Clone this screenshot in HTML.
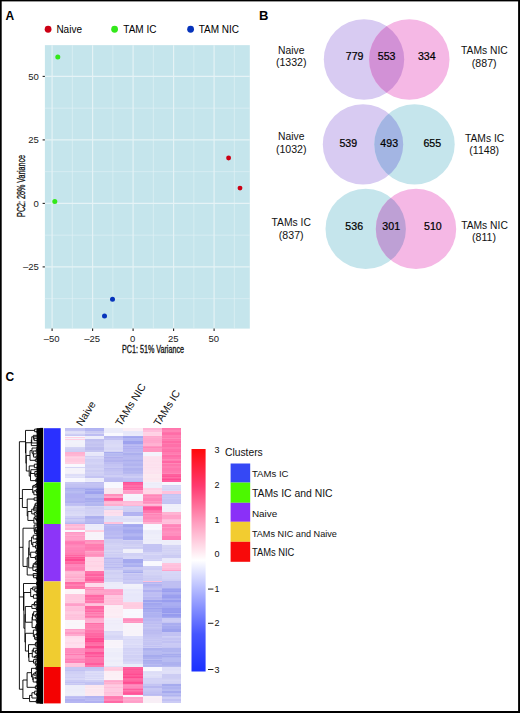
<!DOCTYPE html><html><head><meta charset="utf-8"><style>html,body{margin:0;padding:0;background:#fff;width:520px;height:713px;overflow:hidden}svg{display:block}text{font-family:"Liberation Sans",sans-serif}</style></head><body>
<svg width="520" height="713" viewBox="0 0 520 713">
<rect x="0" y="0" width="520" height="713" fill="#fff"/>
<text x="5.6" y="19.7" font-size="12" font-weight="bold" fill="#000">A</text>
<circle cx="48.1" cy="29.25" r="3.4" fill="#cc0014"/>
<text x="56.4" y="32.6" font-size="10" fill="#000">Naive</text>
<circle cx="114.6" cy="29.25" r="3.4" fill="#33e81a"/>
<text x="123.3" y="32.6" font-size="10" fill="#000">TAM IC</text>
<circle cx="190.6" cy="29.25" r="3.4" fill="#0633bb"/>
<text x="198.7" y="32.6" font-size="10" fill="#000">TAM NIC</text>
<rect x="44.9" y="45.15" width="204.90" height="283.45" fill="#c5e5ec"/>
<line x1="72.35" y1="45.15" x2="72.35" y2="328.6" stroke="#e3f2f5" stroke-width="0.6"/><line x1="112.85" y1="45.15" x2="112.85" y2="328.6" stroke="#e3f2f5" stroke-width="0.6"/><line x1="153.35" y1="45.15" x2="153.35" y2="328.6" stroke="#e3f2f5" stroke-width="0.6"/><line x1="193.85" y1="45.15" x2="193.85" y2="328.6" stroke="#e3f2f5" stroke-width="0.6"/><line x1="234.35" y1="45.15" x2="234.35" y2="328.6" stroke="#e3f2f5" stroke-width="0.6"/><line x1="44.9" y1="108.15" x2="249.8" y2="108.15" stroke="#e3f2f5" stroke-width="0.6"/><line x1="44.9" y1="171.65" x2="249.8" y2="171.65" stroke="#e3f2f5" stroke-width="0.6"/><line x1="44.9" y1="235.15" x2="249.8" y2="235.15" stroke="#e3f2f5" stroke-width="0.6"/><line x1="44.9" y1="298.65" x2="249.8" y2="298.65" stroke="#e3f2f5" stroke-width="0.6"/><line x1="52.10" y1="45.15" x2="52.10" y2="328.6" stroke="#e6f3f6" stroke-width="1.1"/><line x1="92.60" y1="45.15" x2="92.60" y2="328.6" stroke="#e6f3f6" stroke-width="1.1"/><line x1="133.10" y1="45.15" x2="133.10" y2="328.6" stroke="#e6f3f6" stroke-width="1.1"/><line x1="173.60" y1="45.15" x2="173.60" y2="328.6" stroke="#e6f3f6" stroke-width="1.1"/><line x1="214.10" y1="45.15" x2="214.10" y2="328.6" stroke="#e6f3f6" stroke-width="1.1"/><line x1="44.9" y1="76.40" x2="249.8" y2="76.40" stroke="#e6f3f6" stroke-width="1.1"/><line x1="44.9" y1="139.90" x2="249.8" y2="139.90" stroke="#e6f3f6" stroke-width="1.1"/><line x1="44.9" y1="203.40" x2="249.8" y2="203.40" stroke="#e6f3f6" stroke-width="1.1"/><line x1="44.9" y1="266.90" x2="249.8" y2="266.90" stroke="#e6f3f6" stroke-width="1.1"/>
<line x1="42.6" y1="76.40" x2="44.9" y2="76.40" stroke="#222" stroke-width="1.1"/>
<text x="38.9" y="79.90" font-size="9.5" text-anchor="end" fill="#222">50</text>
<line x1="42.6" y1="139.90" x2="44.9" y2="139.90" stroke="#222" stroke-width="1.1"/>
<text x="38.9" y="143.40" font-size="9.5" text-anchor="end" fill="#222">25</text>
<line x1="42.6" y1="203.40" x2="44.9" y2="203.40" stroke="#222" stroke-width="1.1"/>
<text x="38.9" y="206.90" font-size="9.5" text-anchor="end" fill="#222">0</text>
<line x1="42.6" y1="266.90" x2="44.9" y2="266.90" stroke="#222" stroke-width="1.1"/>
<text x="38.9" y="270.40" font-size="9.5" text-anchor="end" fill="#222">–25</text>
<line x1="52.10" y1="328.6" x2="52.10" y2="330.9" stroke="#222" stroke-width="1.1"/>
<text x="51.70" y="342.3" font-size="9.5" text-anchor="middle" fill="#222">–50</text>
<line x1="92.60" y1="328.6" x2="92.60" y2="330.9" stroke="#222" stroke-width="1.1"/>
<text x="92.20" y="342.3" font-size="9.5" text-anchor="middle" fill="#222">–25</text>
<line x1="133.10" y1="328.6" x2="133.10" y2="330.9" stroke="#222" stroke-width="1.1"/>
<text x="132.70" y="342.3" font-size="9.5" text-anchor="middle" fill="#222">0</text>
<line x1="173.60" y1="328.6" x2="173.60" y2="330.9" stroke="#222" stroke-width="1.1"/>
<text x="173.20" y="342.3" font-size="9.5" text-anchor="middle" fill="#222">25</text>
<line x1="214.10" y1="328.6" x2="214.10" y2="330.9" stroke="#222" stroke-width="1.1"/>
<text x="213.70" y="342.3" font-size="9.5" text-anchor="middle" fill="#222">50</text>
<text x="122" y="352.8" font-size="10" textLength="62" lengthAdjust="spacingAndGlyphs" fill="#111" stroke="#111" stroke-width="0.3">PC1: 51% Variance</text>
<text transform="translate(25.1,216.9) rotate(-90)" x="0" y="0" font-size="10" textLength="62" lengthAdjust="spacingAndGlyphs" fill="#111" stroke="#111" stroke-width="0.3">PC2: 28% Variance</text>
<circle cx="228.6" cy="158" r="2.45" fill="#cc0014"/>
<circle cx="240" cy="188.1" r="2.45" fill="#cc0014"/>
<circle cx="57.8" cy="57.1" r="2.5" fill="#33e81a"/>
<circle cx="54.8" cy="201.4" r="2.5" fill="#33e81a"/>
<circle cx="112.5" cy="299.2" r="2.5" fill="#0633bb"/>
<circle cx="104.5" cy="316" r="2.5" fill="#0633bb"/>
<text x="259.0" y="19.7" font-size="13" font-weight="bold" fill="#000">B</text>
<clipPath id="cp0"><circle cx="364.0" cy="59.5" r="40.2"/></clipPath>
<circle cx="364.0" cy="59.5" r="40.2" fill="#d8cbf2"/>
<circle cx="409.3" cy="59.5" r="40.2" fill="#f5b8e5"/>
<circle cx="409.3" cy="59.5" r="40.2" fill="#d291d6" clip-path="url(#cp0)"/>
<text x="354.6" y="60.00" font-size="10.6" text-anchor="middle" fill="#000" stroke="#000" stroke-width="0.22">779</text>
<text x="386.6" y="60.00" font-size="10.6" text-anchor="middle" fill="#000" stroke="#000" stroke-width="0.22">553</text>
<text x="426.8" y="60.00" font-size="10.6" text-anchor="middle" fill="#000" stroke="#000" stroke-width="0.22">334</text>
<clipPath id="cp1"><circle cx="363.0" cy="144.4" r="40.2"/></clipPath>
<circle cx="363.0" cy="144.4" r="40.2" fill="#d8cbf2"/>
<circle cx="414.5" cy="144.4" r="40.2" fill="#c5e5ec"/>
<circle cx="414.5" cy="144.4" r="40.2" fill="#a3b5e3" clip-path="url(#cp1)"/>
<text x="348.3" y="147.20" font-size="10.6" text-anchor="middle" fill="#000" stroke="#000" stroke-width="0.22">539</text>
<text x="389.2" y="147.20" font-size="10.6" text-anchor="middle" fill="#000" stroke="#000" stroke-width="0.22">493</text>
<text x="432.3" y="147.20" font-size="10.6" text-anchor="middle" fill="#000" stroke="#000" stroke-width="0.22">655</text>
<clipPath id="cp2"><circle cx="365.7" cy="228.9" r="40.2"/></clipPath>
<circle cx="365.7" cy="228.9" r="40.2" fill="#c5e5ec"/>
<circle cx="416.0" cy="228.9" r="40.2" fill="#f5b8e5"/>
<circle cx="416.0" cy="228.9" r="40.2" fill="#bea0d5" clip-path="url(#cp2)"/>
<text x="354.2" y="230.30" font-size="10.6" text-anchor="middle" fill="#000" stroke="#000" stroke-width="0.22">536</text>
<text x="391.2" y="230.30" font-size="10.6" text-anchor="middle" fill="#000" stroke="#000" stroke-width="0.22">301</text>
<text x="432.9" y="230.30" font-size="10.6" text-anchor="middle" fill="#000" stroke="#000" stroke-width="0.22">510</text>
<text x="291.2" y="53.7" font-size="10.3" text-anchor="middle" fill="#111">Naive</text>
<text x="291.2" y="66.4" font-size="10.6" text-anchor="middle" fill="#111">(1332)</text>
<text x="484.4" y="54.4" font-size="10.3" text-anchor="middle" fill="#111">TAMs NIC</text>
<text x="484.2" y="67.3" font-size="10.6" text-anchor="middle" fill="#111">(887)</text>
<text x="291.2" y="140.2" font-size="10.3" text-anchor="middle" fill="#111">Naive</text>
<text x="291.2" y="153.0" font-size="10.6" text-anchor="middle" fill="#111">(1032)</text>
<text x="484.6" y="141.7" font-size="10.3" text-anchor="middle" fill="#111">TAMs IC</text>
<text x="484.2" y="154.4" font-size="10.6" text-anchor="middle" fill="#111">(1148)</text>
<text x="291.2" y="225.8" font-size="10.3" text-anchor="middle" fill="#111">TAMs IC</text>
<text x="291.2" y="238.6" font-size="10.6" text-anchor="middle" fill="#111">(837)</text>
<text x="484.5" y="228.7" font-size="10.3" text-anchor="middle" fill="#111">TAMs NIC</text>
<text x="484.0" y="241.4" font-size="10.6" text-anchor="middle" fill="#111">(811)</text>
<text x="5.6" y="380.6" font-size="12" font-weight="bold" fill="#000">C</text>
<g shape-rendering="crispEdges"><rect x="65.3" y="428.2" width="19.30" height="3.20" fill="#c8c8f4"/><rect x="65.3" y="428.20" width="19.30" height="1.50" fill="#c2c2f3"/><rect x="65.3" y="429.70" width="19.30" height="1.70" fill="#c6c6f4"/><rect x="65.3" y="431.4" width="19.30" height="2.90" fill="#e0e0f8"/><rect x="65.3" y="431.40" width="19.30" height="1.00" fill="#ddddf7"/><rect x="65.3" y="432.40" width="19.30" height="1.00" fill="#e1e1f8"/><rect x="65.3" y="433.40" width="19.30" height="0.90" fill="#ddddf7"/><rect x="65.3" y="434.3" width="19.30" height="1.20" fill="#c8c8f4"/><rect x="65.3" y="434.30" width="19.30" height="1.00" fill="#cfcff5"/><rect x="65.3" y="435.5" width="19.30" height="1.20" fill="#f8f8fe"/><rect x="65.3" y="435.50" width="19.30" height="1.20" fill="#f8f8fe"/><rect x="65.3" y="436.7" width="19.30" height="1.20" fill="#ffd0e0"/><rect x="65.3" y="436.70" width="19.30" height="1.00" fill="#ffd2e4"/><rect x="65.3" y="437.9" width="19.30" height="1.20" fill="#f4f0f8"/><rect x="65.3" y="437.90" width="19.30" height="1.20" fill="#f5f2f9"/><rect x="65.3" y="439.1" width="19.30" height="1.20" fill="#ffd8e6"/><rect x="65.3" y="439.10" width="19.30" height="1.00" fill="#ffd0e4"/><rect x="65.3" y="440.3" width="19.30" height="6.60" fill="#f0f0fa"/><rect x="65.3" y="440.30" width="19.30" height="1.00" fill="#f0f0fa"/><rect x="65.3" y="441.30" width="19.30" height="2.00" fill="#f2f2fb"/><rect x="65.3" y="443.30" width="19.30" height="1.00" fill="#f2f2fb"/><rect x="65.3" y="444.30" width="19.30" height="1.00" fill="#f1f1fa"/><rect x="65.3" y="445.30" width="19.30" height="1.00" fill="#f0f0fa"/><rect x="65.3" y="446.30" width="19.30" height="0.60" fill="#f0f0fa"/><rect x="65.3" y="446.9" width="19.30" height="4.70" fill="#d0d0f4"/><rect x="65.3" y="446.90" width="19.30" height="1.00" fill="#d5d5f5"/><rect x="65.3" y="447.90" width="19.30" height="1.00" fill="#d2d2f4"/><rect x="65.3" y="448.90" width="19.30" height="1.00" fill="#cfcff4"/><rect x="65.3" y="449.90" width="19.30" height="1.00" fill="#d0d0f4"/><rect x="65.3" y="450.90" width="19.30" height="0.70" fill="#cdcdf3"/><rect x="65.3" y="451.6" width="19.30" height="4.20" fill="#ffb8d0"/><rect x="65.3" y="451.60" width="19.30" height="2.00" fill="#ffb1d1"/><rect x="65.3" y="453.60" width="19.30" height="2.00" fill="#ffb6d4"/><rect x="65.3" y="455.8" width="19.30" height="8.40" fill="#ffd0e0"/><rect x="65.3" y="455.80" width="19.30" height="1.00" fill="#ffc9df"/><rect x="65.3" y="456.80" width="19.30" height="1.00" fill="#ffd2e4"/><rect x="65.3" y="457.80" width="19.30" height="1.50" fill="#ffcce1"/><rect x="65.3" y="459.30" width="19.30" height="1.50" fill="#ffcadf"/><rect x="65.3" y="460.80" width="19.30" height="1.50" fill="#ffcbe0"/><rect x="65.3" y="462.30" width="19.30" height="1.00" fill="#ffd2e4"/><rect x="65.3" y="463.30" width="19.30" height="0.90" fill="#ffd1e4"/><rect x="65.3" y="464.2" width="19.30" height="2.90" fill="#f8f8fe"/><rect x="65.3" y="464.20" width="19.30" height="1.50" fill="#f9f9fe"/><rect x="65.3" y="465.70" width="19.30" height="1.40" fill="#f8f8fe"/><rect x="65.3" y="467.1" width="19.30" height="1.20" fill="#d8d8f6"/><rect x="65.3" y="467.10" width="19.30" height="1.00" fill="#d5d5f5"/><rect x="65.3" y="468.3" width="19.30" height="5.70" fill="#f4f2fa"/><rect x="65.3" y="468.30" width="19.30" height="1.50" fill="#f4f3fa"/><rect x="65.3" y="469.80" width="19.30" height="1.50" fill="#f4f2fa"/><rect x="65.3" y="471.30" width="19.30" height="2.00" fill="#f5f3fb"/><rect x="65.3" y="473.30" width="19.30" height="0.70" fill="#f3f0f9"/><rect x="65.3" y="474.0" width="19.30" height="4.20" fill="#e0e0f8"/><rect x="65.3" y="474.00" width="19.30" height="2.00" fill="#dedef8"/><rect x="65.3" y="476.00" width="19.30" height="1.00" fill="#e4e4f9"/><rect x="65.3" y="477.00" width="19.30" height="1.20" fill="#dfdff8"/><rect x="65.3" y="478.2" width="19.30" height="4.10" fill="#f8f8fe"/><rect x="65.3" y="478.20" width="19.30" height="2.00" fill="#f8f8fe"/><rect x="65.3" y="480.20" width="19.30" height="2.00" fill="#f7f7fe"/><rect x="65.3" y="482.3" width="19.30" height="6.00" fill="#c0c0f2"/><rect x="65.3" y="482.30" width="19.30" height="1.50" fill="#c8c8f4"/><rect x="65.3" y="483.80" width="19.30" height="2.00" fill="#c2c2f2"/><rect x="65.3" y="485.80" width="19.30" height="1.00" fill="#c0c0f2"/><rect x="65.3" y="486.80" width="19.30" height="1.00" fill="#bcbcf1"/><rect x="65.3" y="488.3" width="19.30" height="6.00" fill="#b0b4f0"/><rect x="65.3" y="488.30" width="19.30" height="1.00" fill="#abafef"/><rect x="65.3" y="489.30" width="19.30" height="2.00" fill="#b2b6f0"/><rect x="65.3" y="491.30" width="19.30" height="2.00" fill="#b9bcf2"/><rect x="65.3" y="493.30" width="19.30" height="1.00" fill="#b2b6f0"/><rect x="65.3" y="494.3" width="19.30" height="11.90" fill="#b8b8f2"/><rect x="65.3" y="494.30" width="19.30" height="1.50" fill="#b1b1f1"/><rect x="65.3" y="495.80" width="19.30" height="2.00" fill="#b1b1f1"/><rect x="65.3" y="497.80" width="19.30" height="1.50" fill="#b4b4f1"/><rect x="65.3" y="499.30" width="19.30" height="1.50" fill="#b5b5f1"/><rect x="65.3" y="500.80" width="19.30" height="2.00" fill="#b0b0f0"/><rect x="65.3" y="502.80" width="19.30" height="1.00" fill="#c0c0f3"/><rect x="65.3" y="503.80" width="19.30" height="1.00" fill="#bdbdf3"/><rect x="65.3" y="504.80" width="19.30" height="1.00" fill="#c1c1f4"/><rect x="65.3" y="506.2" width="19.30" height="9.50" fill="#d8d8f6"/><rect x="65.3" y="506.20" width="19.30" height="1.00" fill="#dadaf7"/><rect x="65.3" y="507.20" width="19.30" height="1.00" fill="#dcdcf7"/><rect x="65.3" y="508.20" width="19.30" height="1.50" fill="#d7d7f6"/><rect x="65.3" y="509.70" width="19.30" height="1.50" fill="#d3d3f5"/><rect x="65.3" y="511.20" width="19.30" height="1.00" fill="#d8d8f6"/><rect x="65.3" y="512.20" width="19.30" height="2.00" fill="#d9d9f6"/><rect x="65.3" y="514.20" width="19.30" height="1.50" fill="#dcdcf7"/><rect x="65.3" y="515.7" width="19.30" height="6.30" fill="#c8c8f4"/><rect x="65.3" y="515.70" width="19.30" height="2.00" fill="#cecef5"/><rect x="65.3" y="517.70" width="19.30" height="1.00" fill="#c1c1f3"/><rect x="65.3" y="518.70" width="19.30" height="2.00" fill="#cdcdf5"/><rect x="65.3" y="520.70" width="19.30" height="1.30" fill="#c7c7f4"/><rect x="65.3" y="522.0" width="19.30" height="1.80" fill="#b8b8f2"/><rect x="65.3" y="522.00" width="19.30" height="1.00" fill="#c1c1f4"/><rect x="65.3" y="523.00" width="19.30" height="0.80" fill="#b7b7f2"/><rect x="65.3" y="523.8" width="19.30" height="6.00" fill="#ffc0d8"/><rect x="65.3" y="523.80" width="19.30" height="1.50" fill="#ffbad8"/><rect x="65.3" y="525.30" width="19.30" height="1.00" fill="#ffb5d6"/><rect x="65.3" y="526.30" width="19.30" height="2.00" fill="#ffc2dd"/><rect x="65.3" y="528.30" width="19.30" height="1.50" fill="#ffb4d5"/><rect x="65.3" y="529.8" width="19.30" height="1.70" fill="#f8f8fe"/><rect x="65.3" y="529.80" width="19.30" height="1.50" fill="#f8f8fe"/><rect x="65.3" y="531.5" width="19.30" height="9.60" fill="#ffa8c8"/><rect x="65.3" y="531.50" width="19.30" height="1.00" fill="#ff99c5"/><rect x="65.3" y="532.50" width="19.30" height="2.00" fill="#ffa2ca"/><rect x="65.3" y="534.50" width="19.30" height="1.50" fill="#ffacd0"/><rect x="65.3" y="536.00" width="19.30" height="1.00" fill="#ff9cc7"/><rect x="65.3" y="537.00" width="19.30" height="1.50" fill="#ffa2ca"/><rect x="65.3" y="538.50" width="19.30" height="1.00" fill="#ffa2ca"/><rect x="65.3" y="539.50" width="19.30" height="1.00" fill="#ff97c4"/><rect x="65.3" y="540.50" width="19.30" height="0.60" fill="#ffaacf"/><rect x="65.3" y="541.1" width="19.30" height="10.70" fill="#ff90b8"/><rect x="65.3" y="541.10" width="19.30" height="1.00" fill="#ff80b6"/><rect x="65.3" y="542.10" width="19.30" height="1.50" fill="#ff79b2"/><rect x="65.3" y="543.60" width="19.30" height="1.00" fill="#ff82b7"/><rect x="65.3" y="544.60" width="19.30" height="1.50" fill="#ff88bb"/><rect x="65.3" y="546.10" width="19.30" height="1.00" fill="#ff8dbd"/><rect x="65.3" y="547.10" width="19.30" height="1.00" fill="#ff87ba"/><rect x="65.3" y="548.10" width="19.30" height="1.50" fill="#ff84b8"/><rect x="65.3" y="549.60" width="19.30" height="1.00" fill="#ff7fb5"/><rect x="65.3" y="550.60" width="19.30" height="1.20" fill="#ff81b7"/><rect x="65.3" y="551.8" width="19.30" height="4.80" fill="#ff80aa"/><rect x="65.3" y="551.80" width="19.30" height="1.00" fill="#ff82b4"/><rect x="65.3" y="552.80" width="19.30" height="2.00" fill="#ff7cb0"/><rect x="65.3" y="554.80" width="19.30" height="1.00" fill="#ff66a3"/><rect x="65.3" y="555.80" width="19.30" height="0.80" fill="#ff78ae"/><rect x="65.3" y="556.6" width="19.30" height="7.10" fill="#ff6898"/><rect x="65.3" y="556.60" width="19.30" height="1.00" fill="#ff5597"/><rect x="65.3" y="557.60" width="19.30" height="1.50" fill="#ff609d"/><rect x="65.3" y="559.10" width="19.30" height="1.50" fill="#ff4a90"/><rect x="65.3" y="560.60" width="19.30" height="1.50" fill="#ff6fa7"/><rect x="65.3" y="562.10" width="19.30" height="1.00" fill="#ff69a3"/><rect x="65.3" y="563.10" width="19.30" height="0.60" fill="#ff64a0"/><rect x="65.3" y="563.7" width="19.30" height="7.50" fill="#ff90b8"/><rect x="65.3" y="563.70" width="19.30" height="2.00" fill="#ff84b9"/><rect x="65.3" y="565.70" width="19.30" height="1.00" fill="#ff89bb"/><rect x="65.3" y="566.70" width="19.30" height="1.50" fill="#ff7fb6"/><rect x="65.3" y="568.20" width="19.30" height="1.00" fill="#ff7eb5"/><rect x="65.3" y="569.20" width="19.30" height="1.00" fill="#ff7cb4"/><rect x="65.3" y="570.20" width="19.30" height="1.00" fill="#ff89bb"/><rect x="65.3" y="571.2" width="19.30" height="10.70" fill="#ffb8d0"/><rect x="65.3" y="571.20" width="19.30" height="1.00" fill="#ffb4d3"/><rect x="65.3" y="572.20" width="19.30" height="1.50" fill="#ffbbd7"/><rect x="65.3" y="573.70" width="19.30" height="2.00" fill="#ffb4d2"/><rect x="65.3" y="575.70" width="19.30" height="1.00" fill="#ffafcf"/><rect x="65.3" y="576.70" width="19.30" height="1.00" fill="#ffa9cc"/><rect x="65.3" y="577.70" width="19.30" height="1.00" fill="#ffbad6"/><rect x="65.3" y="578.70" width="19.30" height="2.00" fill="#ffadce"/><rect x="65.3" y="580.70" width="19.30" height="1.00" fill="#ffb1d1"/><rect x="65.3" y="581.9" width="19.30" height="6.60" fill="#ff78a4"/><rect x="65.3" y="581.90" width="19.30" height="2.00" fill="#ff69a4"/><rect x="65.3" y="583.90" width="19.30" height="1.50" fill="#ff7baf"/><rect x="65.3" y="585.40" width="19.30" height="1.00" fill="#ff81b3"/><rect x="65.3" y="586.40" width="19.30" height="1.00" fill="#ff6ea7"/><rect x="65.3" y="587.40" width="19.30" height="1.00" fill="#ff71a9"/><rect x="65.3" y="588.5" width="19.30" height="5.30" fill="#fcf4f8"/><rect x="65.3" y="588.50" width="19.30" height="1.00" fill="#fcf3f7"/><rect x="65.3" y="589.50" width="19.30" height="1.00" fill="#fcf5f9"/><rect x="65.3" y="590.50" width="19.30" height="1.00" fill="#fcf5f8"/><rect x="65.3" y="591.50" width="19.30" height="1.00" fill="#fcf3f8"/><rect x="65.3" y="592.50" width="19.30" height="1.30" fill="#fcf5f8"/><rect x="65.3" y="593.8" width="19.30" height="9.60" fill="#ffd0e0"/><rect x="65.3" y="593.80" width="19.30" height="2.00" fill="#ffc8df"/><rect x="65.3" y="595.80" width="19.30" height="1.00" fill="#ffc7de"/><rect x="65.3" y="596.80" width="19.30" height="1.50" fill="#ffc8de"/><rect x="65.3" y="598.30" width="19.30" height="2.00" fill="#ffc8df"/><rect x="65.3" y="600.30" width="19.30" height="1.00" fill="#ffcce1"/><rect x="65.3" y="601.30" width="19.30" height="1.00" fill="#ffc8de"/><rect x="65.3" y="602.30" width="19.30" height="1.00" fill="#ffcbe0"/><rect x="65.3" y="603.4" width="19.30" height="2.40" fill="#ffa8c8"/><rect x="65.3" y="603.40" width="19.30" height="1.00" fill="#ffaacf"/><rect x="65.3" y="604.40" width="19.30" height="1.40" fill="#ff9fc9"/><rect x="65.3" y="605.8" width="19.30" height="14.00" fill="#ffc8dc"/><rect x="65.3" y="605.80" width="19.30" height="1.00" fill="#ffc3dd"/><rect x="65.3" y="606.80" width="19.30" height="1.50" fill="#ffc1dc"/><rect x="65.3" y="608.30" width="19.30" height="2.00" fill="#ffc0db"/><rect x="65.3" y="610.30" width="19.30" height="1.00" fill="#ffbeda"/><rect x="65.3" y="611.30" width="19.30" height="1.00" fill="#ffc8e0"/><rect x="65.3" y="612.30" width="19.30" height="1.50" fill="#ffcbe1"/><rect x="65.3" y="613.80" width="19.30" height="1.00" fill="#ffc4dd"/><rect x="65.3" y="614.80" width="19.30" height="1.00" fill="#ffc0db"/><rect x="65.3" y="615.80" width="19.30" height="1.00" fill="#ffc5de"/><rect x="65.3" y="616.80" width="19.30" height="1.00" fill="#ffc1dc"/><rect x="65.3" y="617.80" width="19.30" height="2.00" fill="#ffc4dd"/><rect x="65.3" y="619.8" width="19.30" height="8.90" fill="#faf6fa"/><rect x="65.3" y="619.80" width="19.30" height="2.00" fill="#faf6fa"/><rect x="65.3" y="621.80" width="19.30" height="1.00" fill="#faf6fa"/><rect x="65.3" y="622.80" width="19.30" height="1.50" fill="#f9f5f9"/><rect x="65.3" y="624.30" width="19.30" height="1.00" fill="#faf5fa"/><rect x="65.3" y="625.30" width="19.30" height="1.00" fill="#faf6fa"/><rect x="65.3" y="626.30" width="19.30" height="2.00" fill="#faf6fa"/><rect x="65.3" y="628.7" width="19.30" height="7.20" fill="#ffa8c8"/><rect x="65.3" y="628.70" width="19.30" height="1.00" fill="#ff9ec8"/><rect x="65.3" y="629.70" width="19.30" height="2.00" fill="#ffacd0"/><rect x="65.3" y="631.70" width="19.30" height="1.50" fill="#ff9bc6"/><rect x="65.3" y="633.20" width="19.30" height="1.00" fill="#ff97c4"/><rect x="65.3" y="634.20" width="19.30" height="1.50" fill="#ffabcf"/><rect x="65.3" y="635.9" width="19.30" height="11.90" fill="#ffe0ec"/><rect x="65.3" y="635.90" width="19.30" height="1.00" fill="#ffdaeb"/><rect x="65.3" y="636.90" width="19.30" height="1.00" fill="#ffdcec"/><rect x="65.3" y="637.90" width="19.30" height="1.00" fill="#ffdfed"/><rect x="65.3" y="638.90" width="19.30" height="2.00" fill="#ffe1ee"/><rect x="65.3" y="640.90" width="19.30" height="1.00" fill="#ffe1ee"/><rect x="65.3" y="641.90" width="19.30" height="2.00" fill="#ffdaea"/><rect x="65.3" y="643.90" width="19.30" height="2.00" fill="#ffdfee"/><rect x="65.3" y="645.90" width="19.30" height="1.00" fill="#ffdfed"/><rect x="65.3" y="646.90" width="19.30" height="0.90" fill="#ffdcec"/><rect x="65.3" y="647.8" width="19.30" height="15.20" fill="#ff90b8"/><rect x="65.3" y="647.80" width="19.30" height="1.00" fill="#ff8dbe"/><rect x="65.3" y="648.80" width="19.30" height="2.00" fill="#ff8abc"/><rect x="65.3" y="650.80" width="19.30" height="1.00" fill="#ff8cbd"/><rect x="65.3" y="651.80" width="19.30" height="1.50" fill="#ff88bb"/><rect x="65.3" y="653.30" width="19.30" height="1.00" fill="#ff94c2"/><rect x="65.3" y="654.30" width="19.30" height="1.00" fill="#ff7ab2"/><rect x="65.3" y="655.30" width="19.30" height="1.00" fill="#ff95c2"/><rect x="65.3" y="656.30" width="19.30" height="1.50" fill="#ff96c3"/><rect x="65.3" y="657.80" width="19.30" height="1.00" fill="#ff8fbf"/><rect x="65.3" y="658.80" width="19.30" height="1.00" fill="#ff7eb5"/><rect x="65.3" y="659.80" width="19.30" height="1.50" fill="#ff8bbd"/><rect x="65.3" y="661.30" width="19.30" height="1.70" fill="#ff82b7"/><rect x="65.3" y="663.0" width="19.30" height="4.20" fill="#ffc8dc"/><rect x="65.3" y="663.00" width="19.30" height="1.00" fill="#ffc8df"/><rect x="65.3" y="664.00" width="19.30" height="1.00" fill="#ffc5de"/><rect x="65.3" y="665.00" width="19.30" height="1.00" fill="#ffc8df"/><rect x="65.3" y="666.00" width="19.30" height="1.00" fill="#ffc2dc"/><rect x="65.3" y="667.2" width="19.30" height="3.50" fill="#c0c0f2"/><rect x="65.3" y="667.20" width="19.30" height="1.50" fill="#c7c7f3"/><rect x="65.3" y="668.70" width="19.30" height="1.00" fill="#c7c7f3"/><rect x="65.3" y="669.70" width="19.30" height="1.00" fill="#c1c1f2"/><rect x="65.3" y="670.7" width="19.30" height="9.60" fill="#d4d4f6"/><rect x="65.3" y="670.70" width="19.30" height="1.50" fill="#cecef5"/><rect x="65.3" y="672.20" width="19.30" height="2.00" fill="#cfcff5"/><rect x="65.3" y="674.20" width="19.30" height="1.50" fill="#d3d3f6"/><rect x="65.3" y="675.70" width="19.30" height="1.00" fill="#d4d4f6"/><rect x="65.3" y="676.70" width="19.30" height="1.00" fill="#cfcff5"/><rect x="65.3" y="677.70" width="19.30" height="1.00" fill="#d7d7f7"/><rect x="65.3" y="678.70" width="19.30" height="1.00" fill="#d7d7f7"/><rect x="65.3" y="679.70" width="19.30" height="0.60" fill="#d3d3f6"/><rect x="65.3" y="680.3" width="19.30" height="4.70" fill="#c8c8f4"/><rect x="65.3" y="680.30" width="19.30" height="1.00" fill="#cbcbf5"/><rect x="65.3" y="681.30" width="19.30" height="1.00" fill="#cbcbf5"/><rect x="65.3" y="682.30" width="19.30" height="1.00" fill="#c1c1f3"/><rect x="65.3" y="683.30" width="19.30" height="1.00" fill="#cfcff5"/><rect x="65.3" y="684.30" width="19.30" height="0.70" fill="#c8c8f4"/><rect x="65.3" y="685.0" width="19.30" height="10.80" fill="#eeeefa"/><rect x="65.3" y="685.00" width="19.30" height="1.00" fill="#ececf9"/><rect x="65.3" y="686.00" width="19.30" height="1.00" fill="#ededfa"/><rect x="65.3" y="687.00" width="19.30" height="2.00" fill="#ededfa"/><rect x="65.3" y="689.00" width="19.30" height="2.00" fill="#ececf9"/><rect x="65.3" y="691.00" width="19.30" height="1.50" fill="#ededfa"/><rect x="65.3" y="692.50" width="19.30" height="1.00" fill="#efeffa"/><rect x="65.3" y="693.50" width="19.30" height="1.00" fill="#eeeefa"/><rect x="65.3" y="694.50" width="19.30" height="1.30" fill="#ececf9"/><rect x="65.3" y="695.8" width="19.30" height="7.60" fill="#b8b8f2"/><rect x="65.3" y="695.80" width="19.30" height="1.00" fill="#c1c1f4"/><rect x="65.3" y="696.80" width="19.30" height="1.50" fill="#b9b9f2"/><rect x="65.3" y="698.30" width="19.30" height="1.00" fill="#c0c0f3"/><rect x="65.3" y="699.30" width="19.30" height="2.00" fill="#b1b1f1"/><rect x="65.3" y="701.30" width="19.30" height="1.50" fill="#b6b6f2"/><rect x="65.3" y="702.80" width="19.30" height="0.60" fill="#c0c0f4"/><rect x="84.6" y="428.2" width="19.30" height="3.20" fill="#a8aaf0"/><rect x="84.6" y="428.20" width="19.30" height="1.00" fill="#b0b2f1"/><rect x="84.6" y="429.20" width="19.30" height="2.00" fill="#b3b5f2"/><rect x="84.6" y="431.4" width="19.30" height="2.60" fill="#d0d0f4"/><rect x="84.6" y="431.40" width="19.30" height="1.50" fill="#cacaf3"/><rect x="84.6" y="432.90" width="19.30" height="1.10" fill="#d3d3f5"/><rect x="84.6" y="434.0" width="19.30" height="1.50" fill="#b8b8f2"/><rect x="84.6" y="434.00" width="19.30" height="1.50" fill="#bdbdf3"/><rect x="84.6" y="435.5" width="19.30" height="3.50" fill="#ebebfa"/><rect x="84.6" y="435.50" width="19.30" height="1.00" fill="#eeeefb"/><rect x="84.6" y="436.50" width="19.30" height="2.00" fill="#ededfb"/><rect x="84.6" y="439.0" width="19.30" height="12.60" fill="#c0c0f0"/><rect x="84.6" y="439.00" width="19.30" height="1.50" fill="#c0c0f0"/><rect x="84.6" y="440.50" width="19.30" height="1.00" fill="#c4c4f1"/><rect x="84.6" y="441.50" width="19.30" height="1.00" fill="#c7c7f2"/><rect x="84.6" y="442.50" width="19.30" height="1.00" fill="#c6c6f1"/><rect x="84.6" y="443.50" width="19.30" height="1.00" fill="#c2c2f0"/><rect x="84.6" y="444.50" width="19.30" height="1.50" fill="#c3c3f1"/><rect x="84.6" y="446.00" width="19.30" height="1.00" fill="#c7c7f2"/><rect x="84.6" y="447.00" width="19.30" height="1.00" fill="#bdbdef"/><rect x="84.6" y="448.00" width="19.30" height="2.00" fill="#bcbcef"/><rect x="84.6" y="450.00" width="19.30" height="1.60" fill="#c6c6f1"/><rect x="84.6" y="451.6" width="19.30" height="4.20" fill="#e8e8fa"/><rect x="84.6" y="451.60" width="19.30" height="1.00" fill="#ebebfb"/><rect x="84.6" y="452.60" width="19.30" height="2.00" fill="#e7e7fa"/><rect x="84.6" y="454.60" width="19.30" height="1.00" fill="#e6e6f9"/><rect x="84.6" y="455.8" width="19.30" height="8.40" fill="#d4d4f6"/><rect x="84.6" y="455.80" width="19.30" height="1.00" fill="#d0d0f5"/><rect x="84.6" y="456.80" width="19.30" height="1.00" fill="#d9d9f7"/><rect x="84.6" y="457.80" width="19.30" height="1.00" fill="#d8d8f7"/><rect x="84.6" y="458.80" width="19.30" height="1.50" fill="#cfcff5"/><rect x="84.6" y="460.30" width="19.30" height="2.00" fill="#d0d0f5"/><rect x="84.6" y="462.30" width="19.30" height="1.00" fill="#d3d3f6"/><rect x="84.6" y="463.30" width="19.30" height="0.90" fill="#d4d4f6"/><rect x="84.6" y="464.2" width="19.30" height="9.80" fill="#d0d0f4"/><rect x="84.6" y="464.20" width="19.30" height="1.00" fill="#d1d1f4"/><rect x="84.6" y="465.20" width="19.30" height="1.00" fill="#cdcdf3"/><rect x="84.6" y="466.20" width="19.30" height="1.00" fill="#cecef4"/><rect x="84.6" y="467.20" width="19.30" height="1.00" fill="#cdcdf3"/><rect x="84.6" y="468.20" width="19.30" height="2.00" fill="#d3d3f5"/><rect x="84.6" y="470.20" width="19.30" height="1.00" fill="#ccccf3"/><rect x="84.6" y="471.20" width="19.30" height="1.00" fill="#cdcdf3"/><rect x="84.6" y="472.20" width="19.30" height="1.00" fill="#d3d3f5"/><rect x="84.6" y="473.20" width="19.30" height="0.80" fill="#d0d0f4"/><rect x="84.6" y="474.0" width="19.30" height="4.20" fill="#c8c8f4"/><rect x="84.6" y="474.00" width="19.30" height="2.00" fill="#cecef5"/><rect x="84.6" y="476.00" width="19.30" height="1.50" fill="#c4c4f3"/><rect x="84.6" y="477.50" width="19.30" height="0.70" fill="#cecef5"/><rect x="84.6" y="478.2" width="19.30" height="4.10" fill="#ececfa"/><rect x="84.6" y="478.20" width="19.30" height="1.00" fill="#ededfa"/><rect x="84.6" y="479.20" width="19.30" height="1.50" fill="#ebebfa"/><rect x="84.6" y="480.70" width="19.30" height="1.00" fill="#eeeefb"/><rect x="84.6" y="481.70" width="19.30" height="0.60" fill="#ececfa"/><rect x="84.6" y="482.3" width="19.30" height="6.00" fill="#c0c0f2"/><rect x="84.6" y="482.30" width="19.30" height="1.00" fill="#bdbdf1"/><rect x="84.6" y="483.30" width="19.30" height="2.00" fill="#c3c3f3"/><rect x="84.6" y="485.30" width="19.30" height="1.50" fill="#c1c1f2"/><rect x="84.6" y="486.80" width="19.30" height="1.50" fill="#bcbcf1"/><rect x="84.6" y="488.3" width="19.30" height="6.00" fill="#a8acf0"/><rect x="84.6" y="488.30" width="19.30" height="1.00" fill="#acb0f1"/><rect x="84.6" y="489.30" width="19.30" height="1.00" fill="#9ea3ee"/><rect x="84.6" y="490.30" width="19.30" height="1.00" fill="#adb1f1"/><rect x="84.6" y="491.30" width="19.30" height="1.00" fill="#a1a5ef"/><rect x="84.6" y="492.30" width="19.30" height="2.00" fill="#9da1ee"/><rect x="84.6" y="494.3" width="19.30" height="11.90" fill="#b0b4f0"/><rect x="84.6" y="494.30" width="19.30" height="2.00" fill="#b6baf1"/><rect x="84.6" y="496.30" width="19.30" height="1.00" fill="#b9bcf2"/><rect x="84.6" y="497.30" width="19.30" height="1.00" fill="#b7bbf1"/><rect x="84.6" y="498.30" width="19.30" height="1.50" fill="#a7abee"/><rect x="84.6" y="499.80" width="19.30" height="1.00" fill="#aeb2f0"/><rect x="84.6" y="500.80" width="19.30" height="1.50" fill="#a8acee"/><rect x="84.6" y="502.30" width="19.30" height="1.50" fill="#b6b9f1"/><rect x="84.6" y="503.80" width="19.30" height="2.00" fill="#b2b6f0"/><rect x="84.6" y="506.2" width="19.30" height="9.50" fill="#d0d0f4"/><rect x="84.6" y="506.20" width="19.30" height="1.00" fill="#d6d6f5"/><rect x="84.6" y="507.20" width="19.30" height="2.00" fill="#cecef3"/><rect x="84.6" y="509.20" width="19.30" height="2.00" fill="#d2d2f5"/><rect x="84.6" y="511.20" width="19.30" height="1.00" fill="#d1d1f4"/><rect x="84.6" y="512.20" width="19.30" height="2.00" fill="#d2d2f5"/><rect x="84.6" y="514.20" width="19.30" height="1.50" fill="#d6d6f5"/><rect x="84.6" y="515.7" width="19.30" height="8.10" fill="#b4b6f0"/><rect x="84.6" y="515.70" width="19.30" height="1.50" fill="#adb0ef"/><rect x="84.6" y="517.20" width="19.30" height="1.00" fill="#abaeee"/><rect x="84.6" y="518.20" width="19.30" height="1.00" fill="#b0b2ef"/><rect x="84.6" y="519.20" width="19.30" height="1.50" fill="#b9bbf1"/><rect x="84.6" y="520.70" width="19.30" height="1.00" fill="#b6b8f0"/><rect x="84.6" y="521.70" width="19.30" height="1.00" fill="#b7b9f1"/><rect x="84.6" y="522.70" width="19.30" height="1.10" fill="#afb1ef"/><rect x="84.6" y="523.8" width="19.30" height="6.00" fill="#ececfa"/><rect x="84.6" y="523.80" width="19.30" height="1.00" fill="#ededfa"/><rect x="84.6" y="524.80" width="19.30" height="1.00" fill="#eaeafa"/><rect x="84.6" y="525.80" width="19.30" height="1.50" fill="#ebebfa"/><rect x="84.6" y="527.30" width="19.30" height="1.00" fill="#ededfa"/><rect x="84.6" y="528.30" width="19.30" height="1.50" fill="#ececfa"/><rect x="84.6" y="529.8" width="19.30" height="1.70" fill="#ffd0e0"/><rect x="84.6" y="529.80" width="19.30" height="1.50" fill="#ffd1e4"/><rect x="84.6" y="531.5" width="19.30" height="8.40" fill="#f8f4fa"/><rect x="84.6" y="531.50" width="19.30" height="1.50" fill="#f7f3fa"/><rect x="84.6" y="533.00" width="19.30" height="2.00" fill="#f7f3fa"/><rect x="84.6" y="535.00" width="19.30" height="2.00" fill="#f7f3f9"/><rect x="84.6" y="537.00" width="19.30" height="1.00" fill="#f8f3fa"/><rect x="84.6" y="538.00" width="19.30" height="1.00" fill="#f7f3f9"/><rect x="84.6" y="539.00" width="19.30" height="0.90" fill="#f8f4fa"/><rect x="84.6" y="539.9" width="19.30" height="3.60" fill="#ff98bc"/><rect x="84.6" y="539.90" width="19.30" height="1.00" fill="#ff8dbc"/><rect x="84.6" y="540.90" width="19.30" height="1.50" fill="#ff91bf"/><rect x="84.6" y="542.40" width="19.30" height="1.00" fill="#ff9ac4"/><rect x="84.6" y="543.5" width="19.30" height="7.10" fill="#ff80aa"/><rect x="84.6" y="543.50" width="19.30" height="2.00" fill="#ff7db1"/><rect x="84.6" y="545.50" width="19.30" height="1.50" fill="#ff80b3"/><rect x="84.6" y="547.00" width="19.30" height="1.50" fill="#ff7aaf"/><rect x="84.6" y="548.50" width="19.30" height="1.00" fill="#ff7eb2"/><rect x="84.6" y="549.50" width="19.30" height="1.10" fill="#ff85b5"/><rect x="84.6" y="550.6" width="19.30" height="6.00" fill="#ffa0c0"/><rect x="84.6" y="550.60" width="19.30" height="1.00" fill="#ffa5c9"/><rect x="84.6" y="551.60" width="19.30" height="2.00" fill="#ff98c2"/><rect x="84.6" y="553.60" width="19.30" height="2.00" fill="#ff8fbc"/><rect x="84.6" y="555.60" width="19.30" height="1.00" fill="#ff9bc4"/><rect x="84.6" y="556.6" width="19.30" height="14.60" fill="#ffd8e6"/><rect x="84.6" y="556.60" width="19.30" height="1.00" fill="#ffd8e9"/><rect x="84.6" y="557.60" width="19.30" height="1.00" fill="#ffd7e8"/><rect x="84.6" y="558.60" width="19.30" height="1.00" fill="#ffd7e8"/><rect x="84.6" y="559.60" width="19.30" height="1.50" fill="#ffd8e9"/><rect x="84.6" y="561.10" width="19.30" height="1.00" fill="#ffd1e5"/><rect x="84.6" y="562.10" width="19.30" height="2.00" fill="#ffd7e8"/><rect x="84.6" y="564.10" width="19.30" height="1.00" fill="#ffd7e8"/><rect x="84.6" y="565.10" width="19.30" height="1.50" fill="#ffd3e5"/><rect x="84.6" y="566.60" width="19.30" height="2.00" fill="#ffd8e8"/><rect x="84.6" y="568.60" width="19.30" height="1.50" fill="#ffd9e9"/><rect x="84.6" y="570.10" width="19.30" height="1.00" fill="#ffdaea"/><rect x="84.6" y="571.2" width="19.30" height="11.90" fill="#ff78a4"/><rect x="84.6" y="571.20" width="19.30" height="1.00" fill="#ff73aa"/><rect x="84.6" y="572.20" width="19.30" height="2.00" fill="#ff71a9"/><rect x="84.6" y="574.20" width="19.30" height="1.50" fill="#ff61a0"/><rect x="84.6" y="575.70" width="19.30" height="1.00" fill="#ff7db0"/><rect x="84.6" y="576.70" width="19.30" height="2.00" fill="#ff67a3"/><rect x="84.6" y="578.70" width="19.30" height="2.00" fill="#ff5d9d"/><rect x="84.6" y="580.70" width="19.30" height="2.00" fill="#ff81b3"/><rect x="84.6" y="583.1" width="19.30" height="4.20" fill="#ffe0ec"/><rect x="84.6" y="583.10" width="19.30" height="2.00" fill="#ffdaeb"/><rect x="84.6" y="585.10" width="19.30" height="2.00" fill="#ffdaeb"/><rect x="84.6" y="587.3" width="19.30" height="7.70" fill="#ffa0c0"/><rect x="84.6" y="587.30" width="19.30" height="1.00" fill="#ff92be"/><rect x="84.6" y="588.30" width="19.30" height="1.00" fill="#ffa2c8"/><rect x="84.6" y="589.30" width="19.30" height="1.00" fill="#ff8ebc"/><rect x="84.6" y="590.30" width="19.30" height="2.00" fill="#ffa4c9"/><rect x="84.6" y="592.30" width="19.30" height="1.00" fill="#ffa7ca"/><rect x="84.6" y="593.30" width="19.30" height="1.00" fill="#ffa0c7"/><rect x="84.6" y="594.30" width="19.30" height="0.70" fill="#ff96c0"/><rect x="84.6" y="595.0" width="19.30" height="8.40" fill="#ff80aa"/><rect x="84.6" y="595.00" width="19.30" height="1.50" fill="#ff67a4"/><rect x="84.6" y="596.50" width="19.30" height="1.50" fill="#ff76ad"/><rect x="84.6" y="598.00" width="19.30" height="2.00" fill="#ff70a9"/><rect x="84.6" y="600.00" width="19.30" height="1.00" fill="#ff85b6"/><rect x="84.6" y="601.00" width="19.30" height="1.50" fill="#ff76ad"/><rect x="84.6" y="602.50" width="19.30" height="0.90" fill="#ff7bb0"/><rect x="84.6" y="603.4" width="19.30" height="2.40" fill="#ffc0d8"/><rect x="84.6" y="603.40" width="19.30" height="1.00" fill="#ffb6d7"/><rect x="84.6" y="604.40" width="19.30" height="1.00" fill="#ffc4de"/><rect x="84.6" y="605.8" width="19.30" height="12.20" fill="#ff80aa"/><rect x="84.6" y="605.80" width="19.30" height="1.50" fill="#ff66a3"/><rect x="84.6" y="607.30" width="19.30" height="1.50" fill="#ff67a4"/><rect x="84.6" y="608.80" width="19.30" height="1.00" fill="#ff78ae"/><rect x="84.6" y="609.80" width="19.30" height="1.00" fill="#ff75ac"/><rect x="84.6" y="610.80" width="19.30" height="1.00" fill="#ff67a4"/><rect x="84.6" y="611.80" width="19.30" height="1.50" fill="#ff87b7"/><rect x="84.6" y="613.30" width="19.30" height="1.00" fill="#ff77ad"/><rect x="84.6" y="614.30" width="19.30" height="2.00" fill="#ff86b6"/><rect x="84.6" y="616.30" width="19.30" height="1.00" fill="#ff71aa"/><rect x="84.6" y="617.30" width="19.30" height="0.70" fill="#ff81b3"/><rect x="84.6" y="618.0" width="19.30" height="4.80" fill="#ffb0cc"/><rect x="84.6" y="618.00" width="19.30" height="1.00" fill="#ffa6cc"/><rect x="84.6" y="619.00" width="19.30" height="2.00" fill="#ffadd0"/><rect x="84.6" y="621.00" width="19.30" height="1.80" fill="#ffb1d2"/><rect x="84.6" y="622.8" width="19.30" height="11.90" fill="#ff80aa"/><rect x="84.6" y="622.80" width="19.30" height="1.50" fill="#ff6fa8"/><rect x="84.6" y="624.30" width="19.30" height="1.00" fill="#ff82b4"/><rect x="84.6" y="625.30" width="19.30" height="1.00" fill="#ff7eb1"/><rect x="84.6" y="626.30" width="19.30" height="1.00" fill="#ff81b3"/><rect x="84.6" y="627.30" width="19.30" height="1.00" fill="#ff7fb2"/><rect x="84.6" y="628.30" width="19.30" height="1.50" fill="#ff85b6"/><rect x="84.6" y="629.80" width="19.30" height="2.00" fill="#ff73ab"/><rect x="84.6" y="631.80" width="19.30" height="1.00" fill="#ff78ae"/><rect x="84.6" y="632.80" width="19.30" height="1.00" fill="#ff67a4"/><rect x="84.6" y="633.80" width="19.30" height="0.90" fill="#ff68a4"/><rect x="84.6" y="634.7" width="19.30" height="13.10" fill="#ff6898"/><rect x="84.6" y="634.70" width="19.30" height="1.00" fill="#ff69a3"/><rect x="84.6" y="635.70" width="19.30" height="1.00" fill="#ff619e"/><rect x="84.6" y="636.70" width="19.30" height="1.00" fill="#ff6ba4"/><rect x="84.6" y="637.70" width="19.30" height="2.00" fill="#ff4d92"/><rect x="84.6" y="639.70" width="19.30" height="1.50" fill="#ff5496"/><rect x="84.6" y="641.20" width="19.30" height="1.00" fill="#ff4b91"/><rect x="84.6" y="642.20" width="19.30" height="1.50" fill="#ff6aa4"/><rect x="84.6" y="643.70" width="19.30" height="2.00" fill="#ff71a8"/><rect x="84.6" y="645.70" width="19.30" height="2.00" fill="#ff4f93"/><rect x="84.6" y="647.8" width="19.30" height="19.40" fill="#ff70a0"/><rect x="84.6" y="647.80" width="19.30" height="1.50" fill="#ff68a5"/><rect x="84.6" y="649.30" width="19.30" height="1.00" fill="#ff7ab0"/><rect x="84.6" y="650.30" width="19.30" height="1.50" fill="#ff77ae"/><rect x="84.6" y="651.80" width="19.30" height="2.00" fill="#ff5499"/><rect x="84.6" y="653.80" width="19.30" height="1.00" fill="#ff64a2"/><rect x="84.6" y="654.80" width="19.30" height="1.00" fill="#ff6ba7"/><rect x="84.6" y="655.80" width="19.30" height="1.50" fill="#ff599c"/><rect x="84.6" y="657.30" width="19.30" height="2.00" fill="#ff76ae"/><rect x="84.6" y="659.30" width="19.30" height="2.00" fill="#ff72ab"/><rect x="84.6" y="661.30" width="19.30" height="2.00" fill="#ff72ab"/><rect x="84.6" y="663.30" width="19.30" height="1.50" fill="#ff5d9e"/><rect x="84.6" y="664.80" width="19.30" height="2.00" fill="#ff79af"/><rect x="84.6" y="667.2" width="19.30" height="3.50" fill="#c0c0f2"/><rect x="84.6" y="667.20" width="19.30" height="2.00" fill="#c4c4f3"/><rect x="84.6" y="669.20" width="19.30" height="1.50" fill="#c8c8f4"/><rect x="84.6" y="670.7" width="19.30" height="9.60" fill="#dcdcf8"/><rect x="84.6" y="670.70" width="19.30" height="1.00" fill="#dcdcf8"/><rect x="84.6" y="671.70" width="19.30" height="1.00" fill="#dedef8"/><rect x="84.6" y="672.70" width="19.30" height="1.00" fill="#d8d8f7"/><rect x="84.6" y="673.70" width="19.30" height="1.50" fill="#ddddf8"/><rect x="84.6" y="675.20" width="19.30" height="1.50" fill="#d8d8f7"/><rect x="84.6" y="676.70" width="19.30" height="1.00" fill="#dedef8"/><rect x="84.6" y="677.70" width="19.30" height="1.50" fill="#d8d8f7"/><rect x="84.6" y="679.20" width="19.30" height="1.10" fill="#e1e1f9"/><rect x="84.6" y="680.3" width="19.30" height="4.70" fill="#c8c8f4"/><rect x="84.6" y="680.30" width="19.30" height="1.00" fill="#cfcff5"/><rect x="84.6" y="681.30" width="19.30" height="1.00" fill="#cecef5"/><rect x="84.6" y="682.30" width="19.30" height="2.00" fill="#c2c2f3"/><rect x="84.6" y="684.30" width="19.30" height="0.70" fill="#c4c4f3"/><rect x="84.6" y="685.0" width="19.30" height="10.80" fill="#fce8f0"/><rect x="84.6" y="685.00" width="19.30" height="2.00" fill="#fce6ef"/><rect x="84.6" y="687.00" width="19.30" height="1.00" fill="#fce5ee"/><rect x="84.6" y="688.00" width="19.30" height="1.00" fill="#fcebf2"/><rect x="84.6" y="689.00" width="19.30" height="1.50" fill="#fce6ef"/><rect x="84.6" y="690.50" width="19.30" height="1.00" fill="#fce7f0"/><rect x="84.6" y="691.50" width="19.30" height="1.50" fill="#fce6ef"/><rect x="84.6" y="693.00" width="19.30" height="2.00" fill="#fce9f1"/><rect x="84.6" y="695.00" width="19.30" height="0.80" fill="#fce8f0"/><rect x="84.6" y="695.8" width="19.30" height="7.60" fill="#b8b8f2"/><rect x="84.6" y="695.80" width="19.30" height="2.00" fill="#b3b3f1"/><rect x="84.6" y="697.80" width="19.30" height="1.00" fill="#babaf2"/><rect x="84.6" y="698.80" width="19.30" height="1.00" fill="#b8b8f2"/><rect x="84.6" y="699.80" width="19.30" height="1.50" fill="#bebef3"/><rect x="84.6" y="701.30" width="19.30" height="2.00" fill="#b1b1f1"/><rect x="103.9" y="428.2" width="19.30" height="4.30" fill="#ececfa"/><rect x="103.9" y="428.20" width="19.30" height="1.00" fill="#ededfa"/><rect x="103.9" y="429.20" width="19.30" height="1.00" fill="#ededfa"/><rect x="103.9" y="430.20" width="19.30" height="2.00" fill="#ececfa"/><rect x="103.9" y="432.5" width="19.30" height="3.00" fill="#f8f8fe"/><rect x="103.9" y="432.50" width="19.30" height="2.00" fill="#f9f9fe"/><rect x="103.9" y="434.50" width="19.30" height="1.00" fill="#f8f8fe"/><rect x="103.9" y="435.5" width="19.30" height="4.80" fill="#c0c0f2"/><rect x="103.9" y="435.50" width="19.30" height="1.00" fill="#bcbcf1"/><rect x="103.9" y="436.50" width="19.30" height="1.00" fill="#bbbbf1"/><rect x="103.9" y="437.50" width="19.30" height="1.50" fill="#c3c3f3"/><rect x="103.9" y="439.00" width="19.30" height="1.30" fill="#c2c2f2"/><rect x="103.9" y="440.3" width="19.30" height="3.70" fill="#d4d4f6"/><rect x="103.9" y="440.30" width="19.30" height="1.50" fill="#d7d7f7"/><rect x="103.9" y="441.80" width="19.30" height="1.00" fill="#d8d8f7"/><rect x="103.9" y="442.80" width="19.30" height="1.00" fill="#d8d8f7"/><rect x="103.9" y="444.0" width="19.30" height="7.60" fill="#d8d8f6"/><rect x="103.9" y="444.00" width="19.30" height="1.00" fill="#dadaf6"/><rect x="103.9" y="445.00" width="19.30" height="2.00" fill="#dbdbf7"/><rect x="103.9" y="447.00" width="19.30" height="1.00" fill="#d8d8f6"/><rect x="103.9" y="448.00" width="19.30" height="1.00" fill="#d6d6f6"/><rect x="103.9" y="449.00" width="19.30" height="1.00" fill="#d6d6f6"/><rect x="103.9" y="450.00" width="19.30" height="1.00" fill="#dcdcf7"/><rect x="103.9" y="451.00" width="19.30" height="0.60" fill="#d4d4f5"/><rect x="103.9" y="451.6" width="19.30" height="4.20" fill="#b0b4f0"/><rect x="103.9" y="451.60" width="19.30" height="1.00" fill="#a9adef"/><rect x="103.9" y="452.60" width="19.30" height="1.50" fill="#b9bdf2"/><rect x="103.9" y="454.10" width="19.30" height="1.50" fill="#b5b9f1"/><rect x="103.9" y="455.8" width="19.30" height="8.20" fill="#b8b8f0"/><rect x="103.9" y="455.80" width="19.30" height="1.00" fill="#bebef1"/><rect x="103.9" y="456.80" width="19.30" height="1.00" fill="#b0b0ee"/><rect x="103.9" y="457.80" width="19.30" height="1.50" fill="#b8b8f0"/><rect x="103.9" y="459.30" width="19.30" height="1.00" fill="#b9b9f0"/><rect x="103.9" y="460.30" width="19.30" height="1.50" fill="#b3b3ef"/><rect x="103.9" y="461.80" width="19.30" height="1.00" fill="#bfbff2"/><rect x="103.9" y="462.80" width="19.30" height="1.20" fill="#bdbdf1"/><rect x="103.9" y="464.0" width="19.30" height="10.00" fill="#c0c0f2"/><rect x="103.9" y="464.00" width="19.30" height="1.50" fill="#c3c3f3"/><rect x="103.9" y="465.50" width="19.30" height="1.00" fill="#c5c5f3"/><rect x="103.9" y="466.50" width="19.30" height="1.50" fill="#c8c8f4"/><rect x="103.9" y="468.00" width="19.30" height="1.00" fill="#bbbbf1"/><rect x="103.9" y="469.00" width="19.30" height="1.50" fill="#c1c1f2"/><rect x="103.9" y="470.50" width="19.30" height="1.50" fill="#c5c5f3"/><rect x="103.9" y="472.00" width="19.30" height="1.50" fill="#c7c7f3"/><rect x="103.9" y="474.0" width="19.30" height="4.20" fill="#c8c8f4"/><rect x="103.9" y="474.00" width="19.30" height="1.00" fill="#c4c4f3"/><rect x="103.9" y="475.00" width="19.30" height="2.00" fill="#cecef5"/><rect x="103.9" y="477.00" width="19.30" height="1.00" fill="#c4c4f3"/><rect x="103.9" y="478.2" width="19.30" height="4.10" fill="#c0c0f2"/><rect x="103.9" y="478.20" width="19.30" height="1.00" fill="#bebef2"/><rect x="103.9" y="479.20" width="19.30" height="1.00" fill="#bdbdf1"/><rect x="103.9" y="480.20" width="19.30" height="2.00" fill="#bdbdf1"/><rect x="103.9" y="482.3" width="19.30" height="6.00" fill="#f8f8fe"/><rect x="103.9" y="482.30" width="19.30" height="2.00" fill="#f7f7fe"/><rect x="103.9" y="484.30" width="19.30" height="1.50" fill="#f8f8fe"/><rect x="103.9" y="485.80" width="19.30" height="1.00" fill="#f8f8fe"/><rect x="103.9" y="486.80" width="19.30" height="1.50" fill="#f8f8fe"/><rect x="103.9" y="488.3" width="19.30" height="6.00" fill="#f8e8f0"/><rect x="103.9" y="488.30" width="19.30" height="1.00" fill="#f7e6ef"/><rect x="103.9" y="489.30" width="19.30" height="1.50" fill="#f8e7ef"/><rect x="103.9" y="490.80" width="19.30" height="2.00" fill="#f8e7ef"/><rect x="103.9" y="492.80" width="19.30" height="1.00" fill="#f7e5ee"/><rect x="103.9" y="494.3" width="19.30" height="3.50" fill="#ffa0c0"/><rect x="103.9" y="494.30" width="19.30" height="2.00" fill="#ff8fbc"/><rect x="103.9" y="496.30" width="19.30" height="1.50" fill="#ffa4c9"/><rect x="103.9" y="497.8" width="19.30" height="3.60" fill="#ff6898"/><rect x="103.9" y="497.80" width="19.30" height="1.00" fill="#ff619f"/><rect x="103.9" y="498.80" width="19.30" height="1.50" fill="#ff5f9d"/><rect x="103.9" y="500.30" width="19.30" height="1.00" fill="#ff6da6"/><rect x="103.9" y="501.4" width="19.30" height="4.80" fill="#ffb8d0"/><rect x="103.9" y="501.40" width="19.30" height="1.00" fill="#ffb2d1"/><rect x="103.9" y="502.40" width="19.30" height="2.00" fill="#ffbbd7"/><rect x="103.9" y="504.40" width="19.30" height="1.50" fill="#ffaecf"/><rect x="103.9" y="506.2" width="19.30" height="3.60" fill="#d8d8f6"/><rect x="103.9" y="506.20" width="19.30" height="1.00" fill="#dcdcf7"/><rect x="103.9" y="507.20" width="19.30" height="1.50" fill="#dbdbf7"/><rect x="103.9" y="508.70" width="19.30" height="1.00" fill="#d4d4f5"/><rect x="103.9" y="509.8" width="19.30" height="5.90" fill="#fce0ec"/><rect x="103.9" y="509.80" width="19.30" height="1.00" fill="#fcdfed"/><rect x="103.9" y="510.80" width="19.30" height="1.00" fill="#fce0ee"/><rect x="103.9" y="511.80" width="19.30" height="1.00" fill="#fcdaeb"/><rect x="103.9" y="512.80" width="19.30" height="2.00" fill="#fcdfee"/><rect x="103.9" y="514.80" width="19.30" height="0.90" fill="#fce1ef"/><rect x="103.9" y="515.7" width="19.30" height="6.00" fill="#e0e0f8"/><rect x="103.9" y="515.70" width="19.30" height="1.00" fill="#dfdff8"/><rect x="103.9" y="516.70" width="19.30" height="1.00" fill="#dfdff8"/><rect x="103.9" y="517.70" width="19.30" height="1.00" fill="#ddddf7"/><rect x="103.9" y="518.70" width="19.30" height="1.00" fill="#dfdff8"/><rect x="103.9" y="519.70" width="19.30" height="1.00" fill="#e1e1f8"/><rect x="103.9" y="520.70" width="19.30" height="1.00" fill="#e1e1f8"/><rect x="103.9" y="521.7" width="19.30" height="2.10" fill="#ffc0d8"/><rect x="103.9" y="521.70" width="19.30" height="1.00" fill="#ffc2dd"/><rect x="103.9" y="522.70" width="19.30" height="1.00" fill="#ffc4de"/><rect x="103.9" y="523.8" width="19.30" height="14.90" fill="#b8b8f2"/><rect x="103.9" y="523.80" width="19.30" height="1.00" fill="#b5b5f1"/><rect x="103.9" y="524.80" width="19.30" height="1.50" fill="#bfbff3"/><rect x="103.9" y="526.30" width="19.30" height="2.00" fill="#b7b7f2"/><rect x="103.9" y="528.30" width="19.30" height="1.50" fill="#b5b5f1"/><rect x="103.9" y="529.80" width="19.30" height="1.50" fill="#b6b6f2"/><rect x="103.9" y="531.30" width="19.30" height="2.00" fill="#babaf2"/><rect x="103.9" y="533.30" width="19.30" height="1.50" fill="#b9b9f2"/><rect x="103.9" y="534.80" width="19.30" height="2.00" fill="#bebef3"/><rect x="103.9" y="536.80" width="19.30" height="1.00" fill="#b6b6f2"/><rect x="103.9" y="537.80" width="19.30" height="0.90" fill="#b9b9f2"/><rect x="103.9" y="538.7" width="19.30" height="17.90" fill="#d0d0f4"/><rect x="103.9" y="538.70" width="19.30" height="2.00" fill="#cdcdf3"/><rect x="103.9" y="540.70" width="19.30" height="2.00" fill="#ccccf3"/><rect x="103.9" y="542.70" width="19.30" height="2.00" fill="#d1d1f4"/><rect x="103.9" y="544.70" width="19.30" height="1.00" fill="#d5d5f5"/><rect x="103.9" y="545.70" width="19.30" height="2.00" fill="#d2d2f4"/><rect x="103.9" y="547.70" width="19.30" height="2.00" fill="#d0d0f4"/><rect x="103.9" y="549.70" width="19.30" height="1.00" fill="#d6d6f5"/><rect x="103.9" y="550.70" width="19.30" height="1.00" fill="#d5d5f5"/><rect x="103.9" y="551.70" width="19.30" height="1.50" fill="#cdcdf3"/><rect x="103.9" y="553.20" width="19.30" height="1.00" fill="#d5d5f5"/><rect x="103.9" y="554.20" width="19.30" height="2.00" fill="#cecef4"/><rect x="103.9" y="556.6" width="19.30" height="13.40" fill="#c0c0f2"/><rect x="103.9" y="556.60" width="19.30" height="1.00" fill="#c8c8f4"/><rect x="103.9" y="557.60" width="19.30" height="1.00" fill="#b8b8f0"/><rect x="103.9" y="558.60" width="19.30" height="1.00" fill="#c5c5f3"/><rect x="103.9" y="559.60" width="19.30" height="2.00" fill="#c3c3f3"/><rect x="103.9" y="561.60" width="19.30" height="1.00" fill="#bdbdf1"/><rect x="103.9" y="562.60" width="19.30" height="1.00" fill="#c7c7f3"/><rect x="103.9" y="563.60" width="19.30" height="1.50" fill="#bebef2"/><rect x="103.9" y="565.10" width="19.30" height="1.50" fill="#c6c6f3"/><rect x="103.9" y="566.60" width="19.30" height="1.50" fill="#b9b9f1"/><rect x="103.9" y="568.10" width="19.30" height="1.90" fill="#c6c6f3"/><rect x="103.9" y="570.0" width="19.30" height="11.90" fill="#d0d0f4"/><rect x="103.9" y="570.00" width="19.30" height="2.00" fill="#d4d4f5"/><rect x="103.9" y="572.00" width="19.30" height="1.50" fill="#cfcff4"/><rect x="103.9" y="573.50" width="19.30" height="1.00" fill="#d2d2f5"/><rect x="103.9" y="574.50" width="19.30" height="1.00" fill="#d4d4f5"/><rect x="103.9" y="575.50" width="19.30" height="2.00" fill="#d4d4f5"/><rect x="103.9" y="577.50" width="19.30" height="1.50" fill="#cecef3"/><rect x="103.9" y="579.00" width="19.30" height="2.00" fill="#d4d4f5"/><rect x="103.9" y="581.00" width="19.30" height="0.90" fill="#d5d5f5"/><rect x="103.9" y="581.9" width="19.30" height="6.60" fill="#ececfa"/><rect x="103.9" y="581.90" width="19.30" height="1.00" fill="#ebebfa"/><rect x="103.9" y="582.90" width="19.30" height="1.50" fill="#eaeaf9"/><rect x="103.9" y="584.40" width="19.30" height="2.00" fill="#ececfa"/><rect x="103.9" y="586.40" width="19.30" height="1.00" fill="#ededfa"/><rect x="103.9" y="587.40" width="19.30" height="1.10" fill="#ebebfa"/><rect x="103.9" y="588.5" width="19.30" height="6.50" fill="#ffa8c8"/><rect x="103.9" y="588.50" width="19.30" height="1.50" fill="#ffa8cd"/><rect x="103.9" y="590.00" width="19.30" height="1.50" fill="#ffa0c9"/><rect x="103.9" y="591.50" width="19.30" height="1.50" fill="#ffa6cd"/><rect x="103.9" y="593.00" width="19.30" height="1.00" fill="#ffa3cb"/><rect x="103.9" y="594.00" width="19.30" height="1.00" fill="#ff9fc9"/><rect x="103.9" y="595.0" width="19.30" height="9.60" fill="#ffc8dc"/><rect x="103.9" y="595.00" width="19.30" height="1.00" fill="#ffc7df"/><rect x="103.9" y="596.00" width="19.30" height="1.50" fill="#ffc7df"/><rect x="103.9" y="597.50" width="19.30" height="1.50" fill="#ffc1db"/><rect x="103.9" y="599.00" width="19.30" height="1.00" fill="#ffc8e0"/><rect x="103.9" y="600.00" width="19.30" height="1.50" fill="#ffc2dc"/><rect x="103.9" y="601.50" width="19.30" height="2.00" fill="#ffc5de"/><rect x="103.9" y="603.50" width="19.30" height="1.10" fill="#ffbeda"/><rect x="103.9" y="604.6" width="19.30" height="13.40" fill="#fcecf4"/><rect x="103.9" y="604.60" width="19.30" height="1.00" fill="#fcecf4"/><rect x="103.9" y="605.60" width="19.30" height="1.00" fill="#fceef5"/><rect x="103.9" y="606.60" width="19.30" height="1.00" fill="#fcecf4"/><rect x="103.9" y="607.60" width="19.30" height="1.50" fill="#fceef5"/><rect x="103.9" y="609.10" width="19.30" height="1.50" fill="#fcecf4"/><rect x="103.9" y="610.60" width="19.30" height="2.00" fill="#fcecf4"/><rect x="103.9" y="612.60" width="19.30" height="1.00" fill="#fcedf5"/><rect x="103.9" y="613.60" width="19.30" height="2.00" fill="#fceef5"/><rect x="103.9" y="615.60" width="19.30" height="1.00" fill="#fceaf3"/><rect x="103.9" y="616.60" width="19.30" height="1.00" fill="#fcebf3"/><rect x="103.9" y="618.0" width="19.30" height="13.10" fill="#f0eefa"/><rect x="103.9" y="618.00" width="19.30" height="2.00" fill="#f2f0fb"/><rect x="103.9" y="620.00" width="19.30" height="1.00" fill="#efecfa"/><rect x="103.9" y="621.00" width="19.30" height="1.50" fill="#f0eefa"/><rect x="103.9" y="622.50" width="19.30" height="1.50" fill="#eeecf9"/><rect x="103.9" y="624.00" width="19.30" height="1.00" fill="#efedfa"/><rect x="103.9" y="625.00" width="19.30" height="1.50" fill="#f0eefa"/><rect x="103.9" y="626.50" width="19.30" height="2.00" fill="#f0eefa"/><rect x="103.9" y="628.50" width="19.30" height="2.00" fill="#f1effa"/><rect x="103.9" y="630.50" width="19.30" height="0.60" fill="#f2f0fb"/><rect x="103.9" y="631.1" width="19.30" height="8.40" fill="#d8d8f6"/><rect x="103.9" y="631.10" width="19.30" height="1.00" fill="#d9d9f6"/><rect x="103.9" y="632.10" width="19.30" height="1.00" fill="#dbdbf7"/><rect x="103.9" y="633.10" width="19.30" height="1.00" fill="#ddddf7"/><rect x="103.9" y="634.10" width="19.30" height="1.00" fill="#dcdcf7"/><rect x="103.9" y="635.10" width="19.30" height="1.00" fill="#d8d8f6"/><rect x="103.9" y="636.10" width="19.30" height="2.00" fill="#d5d5f5"/><rect x="103.9" y="638.10" width="19.30" height="1.00" fill="#d8d8f6"/><rect x="103.9" y="639.5" width="19.30" height="8.30" fill="#f8f4fa"/><rect x="103.9" y="639.50" width="19.30" height="1.00" fill="#f8f5fa"/><rect x="103.9" y="640.50" width="19.30" height="1.00" fill="#f7f3f9"/><rect x="103.9" y="641.50" width="19.30" height="2.00" fill="#f8f3fa"/><rect x="103.9" y="643.50" width="19.30" height="1.00" fill="#f8f4fa"/><rect x="103.9" y="644.50" width="19.30" height="2.00" fill="#f8f3fa"/><rect x="103.9" y="646.50" width="19.30" height="1.30" fill="#f9f5fb"/><rect x="103.9" y="647.8" width="19.30" height="17.90" fill="#eeeefa"/><rect x="103.9" y="647.80" width="19.30" height="2.00" fill="#efeffa"/><rect x="103.9" y="649.80" width="19.30" height="1.00" fill="#efeffa"/><rect x="103.9" y="650.80" width="19.30" height="1.00" fill="#f0f0fa"/><rect x="103.9" y="651.80" width="19.30" height="1.50" fill="#ededfa"/><rect x="103.9" y="653.30" width="19.30" height="1.50" fill="#ededfa"/><rect x="103.9" y="654.80" width="19.30" height="2.00" fill="#ededfa"/><rect x="103.9" y="656.80" width="19.30" height="1.50" fill="#efeffa"/><rect x="103.9" y="658.30" width="19.30" height="1.00" fill="#f0f0fb"/><rect x="103.9" y="659.30" width="19.30" height="1.00" fill="#efeffa"/><rect x="103.9" y="660.30" width="19.30" height="1.00" fill="#ececfa"/><rect x="103.9" y="661.30" width="19.30" height="1.00" fill="#ececf9"/><rect x="103.9" y="662.30" width="19.30" height="1.50" fill="#efeffa"/><rect x="103.9" y="663.80" width="19.30" height="1.90" fill="#efeffa"/><rect x="103.9" y="665.7" width="19.30" height="1.50" fill="#e0e0f8"/><rect x="103.9" y="665.70" width="19.30" height="1.00" fill="#e1e1f8"/><rect x="103.9" y="667.2" width="19.30" height="3.50" fill="#ffd0e0"/><rect x="103.9" y="667.20" width="19.30" height="2.00" fill="#ffcde1"/><rect x="103.9" y="669.20" width="19.30" height="1.00" fill="#ffc8de"/><rect x="103.9" y="670.7" width="19.30" height="9.60" fill="#fcf0f6"/><rect x="103.9" y="670.70" width="19.30" height="2.00" fill="#fceef5"/><rect x="103.9" y="672.70" width="19.30" height="1.00" fill="#fcf0f6"/><rect x="103.9" y="673.70" width="19.30" height="1.50" fill="#fceff5"/><rect x="103.9" y="675.20" width="19.30" height="2.00" fill="#fcf0f6"/><rect x="103.9" y="677.20" width="19.30" height="1.00" fill="#fcf0f6"/><rect x="103.9" y="678.20" width="19.30" height="1.00" fill="#fcf1f7"/><rect x="103.9" y="679.20" width="19.30" height="1.00" fill="#fcf2f7"/><rect x="103.9" y="680.3" width="19.30" height="3.50" fill="#ffb0cc"/><rect x="103.9" y="680.30" width="19.30" height="1.00" fill="#ffaed0"/><rect x="103.9" y="681.30" width="19.30" height="1.00" fill="#ffa6cb"/><rect x="103.9" y="682.30" width="19.30" height="1.00" fill="#ffb5d4"/><rect x="103.9" y="683.8" width="19.30" height="12.00" fill="#ffc8dc"/><rect x="103.9" y="683.80" width="19.30" height="1.00" fill="#ffc1dc"/><rect x="103.9" y="684.80" width="19.30" height="1.00" fill="#ffcbe1"/><rect x="103.9" y="685.80" width="19.30" height="1.50" fill="#ffc9e0"/><rect x="103.9" y="687.30" width="19.30" height="1.00" fill="#ffbeda"/><rect x="103.9" y="688.30" width="19.30" height="2.00" fill="#ffcae1"/><rect x="103.9" y="690.30" width="19.30" height="1.00" fill="#ffc9e0"/><rect x="103.9" y="691.30" width="19.30" height="1.00" fill="#ffcbe1"/><rect x="103.9" y="692.30" width="19.30" height="1.00" fill="#ffbfdb"/><rect x="103.9" y="693.30" width="19.30" height="1.50" fill="#ffc5de"/><rect x="103.9" y="694.80" width="19.30" height="1.00" fill="#ffcae1"/><rect x="103.9" y="695.8" width="19.30" height="7.60" fill="#ff80aa"/><rect x="103.9" y="695.80" width="19.30" height="1.00" fill="#ff7eb2"/><rect x="103.9" y="696.80" width="19.30" height="1.50" fill="#ff7aaf"/><rect x="103.9" y="698.30" width="19.30" height="1.00" fill="#ff7cb1"/><rect x="103.9" y="699.30" width="19.30" height="1.50" fill="#ff87b7"/><rect x="103.9" y="700.80" width="19.30" height="1.50" fill="#ff69a5"/><rect x="103.9" y="702.30" width="19.30" height="1.10" fill="#ff6ba6"/><rect x="123.2" y="428.2" width="19.30" height="3.20" fill="#fbeef6"/><rect x="123.2" y="428.20" width="19.30" height="1.00" fill="#fbedf5"/><rect x="123.2" y="429.20" width="19.30" height="1.00" fill="#fbeef6"/><rect x="123.2" y="430.20" width="19.30" height="1.00" fill="#fbeff6"/><rect x="123.2" y="431.4" width="19.30" height="4.10" fill="#e8e8fa"/><rect x="123.2" y="431.40" width="19.30" height="1.00" fill="#e8e8fa"/><rect x="123.2" y="432.40" width="19.30" height="1.00" fill="#e7e7fa"/><rect x="123.2" y="433.40" width="19.30" height="1.00" fill="#e8e8fa"/><rect x="123.2" y="434.40" width="19.30" height="1.10" fill="#eaeafa"/><rect x="123.2" y="435.5" width="19.30" height="8.40" fill="#a8acf0"/><rect x="123.2" y="435.50" width="19.30" height="1.00" fill="#a7abf0"/><rect x="123.2" y="436.50" width="19.30" height="1.50" fill="#a2a6ef"/><rect x="123.2" y="438.00" width="19.30" height="1.00" fill="#b3b7f2"/><rect x="123.2" y="439.00" width="19.30" height="2.00" fill="#b1b5f2"/><rect x="123.2" y="441.00" width="19.30" height="1.00" fill="#9da2ee"/><rect x="123.2" y="442.00" width="19.30" height="1.50" fill="#9ea2ee"/><rect x="123.2" y="443.9" width="19.30" height="7.70" fill="#b8b8f2"/><rect x="123.2" y="443.90" width="19.30" height="1.50" fill="#b7b7f2"/><rect x="123.2" y="445.40" width="19.30" height="1.00" fill="#bcbcf3"/><rect x="123.2" y="446.40" width="19.30" height="1.00" fill="#b0b0f1"/><rect x="123.2" y="447.40" width="19.30" height="1.00" fill="#b8b8f2"/><rect x="123.2" y="448.40" width="19.30" height="1.00" fill="#b0b0f1"/><rect x="123.2" y="449.40" width="19.30" height="1.00" fill="#b8b8f2"/><rect x="123.2" y="450.40" width="19.30" height="1.00" fill="#b6b6f2"/><rect x="123.2" y="451.6" width="19.30" height="22.40" fill="#b4b6f0"/><rect x="123.2" y="451.60" width="19.30" height="1.50" fill="#bcbef2"/><rect x="123.2" y="453.10" width="19.30" height="2.00" fill="#acafee"/><rect x="123.2" y="455.10" width="19.30" height="1.00" fill="#b6b7f0"/><rect x="123.2" y="456.10" width="19.30" height="1.00" fill="#b6b8f0"/><rect x="123.2" y="457.10" width="19.30" height="1.50" fill="#b9baf1"/><rect x="123.2" y="458.60" width="19.30" height="1.00" fill="#b6b8f0"/><rect x="123.2" y="459.60" width="19.30" height="1.00" fill="#abaeee"/><rect x="123.2" y="460.60" width="19.30" height="1.00" fill="#b3b5f0"/><rect x="123.2" y="461.60" width="19.30" height="1.00" fill="#b7b9f1"/><rect x="123.2" y="462.60" width="19.30" height="1.50" fill="#b4b6f0"/><rect x="123.2" y="464.10" width="19.30" height="2.00" fill="#b1b3ef"/><rect x="123.2" y="466.10" width="19.30" height="1.50" fill="#babcf1"/><rect x="123.2" y="467.60" width="19.30" height="2.00" fill="#b0b2ef"/><rect x="123.2" y="469.60" width="19.30" height="1.50" fill="#b2b4f0"/><rect x="123.2" y="471.10" width="19.30" height="1.00" fill="#b7b9f1"/><rect x="123.2" y="472.10" width="19.30" height="1.00" fill="#b4b6f0"/><rect x="123.2" y="473.10" width="19.30" height="0.90" fill="#b8baf1"/><rect x="123.2" y="474.0" width="19.30" height="6.50" fill="#c8c8f4"/><rect x="123.2" y="474.00" width="19.30" height="1.00" fill="#c5c5f3"/><rect x="123.2" y="475.00" width="19.30" height="1.00" fill="#c5c5f3"/><rect x="123.2" y="476.00" width="19.30" height="1.50" fill="#cdcdf5"/><rect x="123.2" y="477.50" width="19.30" height="1.50" fill="#c1c1f3"/><rect x="123.2" y="479.00" width="19.30" height="1.50" fill="#c1c1f3"/><rect x="123.2" y="480.5" width="19.30" height="1.80" fill="#b0b4f0"/><rect x="123.2" y="480.50" width="19.30" height="1.00" fill="#b7bbf1"/><rect x="123.2" y="481.50" width="19.30" height="0.80" fill="#b6baf1"/><rect x="123.2" y="482.3" width="19.30" height="7.20" fill="#ff70a0"/><rect x="123.2" y="482.30" width="19.30" height="1.00" fill="#ff5398"/><rect x="123.2" y="483.30" width="19.30" height="1.50" fill="#ff5d9e"/><rect x="123.2" y="484.80" width="19.30" height="2.00" fill="#ff6fa9"/><rect x="123.2" y="486.80" width="19.30" height="1.00" fill="#ff61a1"/><rect x="123.2" y="487.80" width="19.30" height="1.00" fill="#ff6fa9"/><rect x="123.2" y="488.80" width="19.30" height="0.70" fill="#ff67a5"/><rect x="123.2" y="489.5" width="19.30" height="4.20" fill="#ffa8c8"/><rect x="123.2" y="489.50" width="19.30" height="1.00" fill="#ffa4cc"/><rect x="123.2" y="490.50" width="19.30" height="2.00" fill="#ff9dc8"/><rect x="123.2" y="492.50" width="19.30" height="1.20" fill="#ffa3cb"/><rect x="123.2" y="493.7" width="19.30" height="7.70" fill="#f4f4fc"/><rect x="123.2" y="493.70" width="19.30" height="1.00" fill="#f5f5fc"/><rect x="123.2" y="494.70" width="19.30" height="2.00" fill="#f5f5fc"/><rect x="123.2" y="496.70" width="19.30" height="1.00" fill="#f3f3fc"/><rect x="123.2" y="497.70" width="19.30" height="2.00" fill="#f3f3fc"/><rect x="123.2" y="499.70" width="19.30" height="1.70" fill="#f3f3fc"/><rect x="123.2" y="501.4" width="19.30" height="4.20" fill="#ffc0d8"/><rect x="123.2" y="501.40" width="19.30" height="1.00" fill="#ffb8d8"/><rect x="123.2" y="502.40" width="19.30" height="1.00" fill="#ffbcda"/><rect x="123.2" y="503.40" width="19.30" height="1.50" fill="#ffc0dc"/><rect x="123.2" y="504.90" width="19.30" height="0.70" fill="#ffb5d6"/><rect x="123.2" y="505.6" width="19.30" height="6.60" fill="#d0d0f4"/><rect x="123.2" y="505.60" width="19.30" height="1.00" fill="#cdcdf3"/><rect x="123.2" y="506.60" width="19.30" height="1.00" fill="#d3d3f5"/><rect x="123.2" y="507.60" width="19.30" height="2.00" fill="#d0d0f4"/><rect x="123.2" y="509.60" width="19.30" height="1.00" fill="#cfcff4"/><rect x="123.2" y="510.60" width="19.30" height="1.60" fill="#d0d0f4"/><rect x="123.2" y="512.2" width="19.30" height="3.50" fill="#b8b8f2"/><rect x="123.2" y="512.20" width="19.30" height="1.00" fill="#b1b1f1"/><rect x="123.2" y="513.20" width="19.30" height="1.50" fill="#b3b3f1"/><rect x="123.2" y="514.70" width="19.30" height="1.00" fill="#b2b2f1"/><rect x="123.2" y="515.7" width="19.30" height="6.30" fill="#e0e0f8"/><rect x="123.2" y="515.70" width="19.30" height="1.00" fill="#e4e4f9"/><rect x="123.2" y="516.70" width="19.30" height="1.00" fill="#e3e3f9"/><rect x="123.2" y="517.70" width="19.30" height="1.00" fill="#e0e0f8"/><rect x="123.2" y="518.70" width="19.30" height="1.00" fill="#ddddf7"/><rect x="123.2" y="519.70" width="19.30" height="2.00" fill="#e0e0f8"/><rect x="123.2" y="522.0" width="19.30" height="1.80" fill="#f4f4fc"/><rect x="123.2" y="522.00" width="19.30" height="1.80" fill="#f4f4fc"/><rect x="123.2" y="523.8" width="19.30" height="16.10" fill="#a8acf0"/><rect x="123.2" y="523.80" width="19.30" height="1.50" fill="#a8acf0"/><rect x="123.2" y="525.30" width="19.30" height="2.00" fill="#a3a7ef"/><rect x="123.2" y="527.30" width="19.30" height="2.00" fill="#afb2f1"/><rect x="123.2" y="529.30" width="19.30" height="1.00" fill="#aaaef0"/><rect x="123.2" y="530.30" width="19.30" height="1.00" fill="#a3a7ef"/><rect x="123.2" y="531.30" width="19.30" height="1.50" fill="#a5a9ef"/><rect x="123.2" y="532.80" width="19.30" height="1.50" fill="#adb1f1"/><rect x="123.2" y="534.30" width="19.30" height="2.00" fill="#b2b5f2"/><rect x="123.2" y="536.30" width="19.30" height="1.00" fill="#aaaef0"/><rect x="123.2" y="537.30" width="19.30" height="2.00" fill="#a5a9ef"/><rect x="123.2" y="539.30" width="19.30" height="0.60" fill="#a6aaf0"/><rect x="123.2" y="539.9" width="19.30" height="9.50" fill="#d0d0f4"/><rect x="123.2" y="539.90" width="19.30" height="1.00" fill="#d3d3f5"/><rect x="123.2" y="540.90" width="19.30" height="2.00" fill="#cbcbf3"/><rect x="123.2" y="542.90" width="19.30" height="1.00" fill="#cacaf3"/><rect x="123.2" y="543.90" width="19.30" height="2.00" fill="#d0d0f4"/><rect x="123.2" y="545.90" width="19.30" height="1.00" fill="#d5d5f5"/><rect x="123.2" y="546.90" width="19.30" height="1.00" fill="#ccccf3"/><rect x="123.2" y="547.90" width="19.30" height="1.00" fill="#d0d0f4"/><rect x="123.2" y="549.4" width="19.30" height="3.60" fill="#f0f0fa"/><rect x="123.2" y="549.40" width="19.30" height="1.00" fill="#efeffa"/><rect x="123.2" y="550.40" width="19.30" height="1.00" fill="#f1f1fa"/><rect x="123.2" y="551.40" width="19.30" height="1.60" fill="#f0f0fa"/><rect x="123.2" y="553.0" width="19.30" height="6.00" fill="#d4d4f6"/><rect x="123.2" y="553.00" width="19.30" height="1.50" fill="#d1d1f5"/><rect x="123.2" y="554.50" width="19.30" height="1.00" fill="#d1d1f5"/><rect x="123.2" y="555.50" width="19.30" height="2.00" fill="#d6d6f6"/><rect x="123.2" y="557.50" width="19.30" height="1.00" fill="#d7d7f7"/><rect x="123.2" y="559.0" width="19.30" height="8.30" fill="#a8acf0"/><rect x="123.2" y="559.00" width="19.30" height="2.00" fill="#a4a8ef"/><rect x="123.2" y="561.00" width="19.30" height="2.00" fill="#a4a8ef"/><rect x="123.2" y="563.00" width="19.30" height="2.00" fill="#b3b7f2"/><rect x="123.2" y="565.00" width="19.30" height="1.50" fill="#abaff1"/><rect x="123.2" y="566.50" width="19.30" height="0.80" fill="#acb0f1"/><rect x="123.2" y="567.3" width="19.30" height="2.70" fill="#c8c8f4"/><rect x="123.2" y="567.30" width="19.30" height="2.00" fill="#c9c9f4"/><rect x="123.2" y="569.30" width="19.30" height="0.70" fill="#c6c6f4"/><rect x="123.2" y="570.0" width="19.30" height="3.00" fill="#b0b4f0"/><rect x="123.2" y="570.00" width="19.30" height="1.50" fill="#b7bbf1"/><rect x="123.2" y="571.50" width="19.30" height="1.50" fill="#a9adef"/><rect x="123.2" y="573.0" width="19.30" height="10.70" fill="#c8c8f4"/><rect x="123.2" y="573.00" width="19.30" height="1.00" fill="#cecef5"/><rect x="123.2" y="574.00" width="19.30" height="1.50" fill="#c4c4f3"/><rect x="123.2" y="575.50" width="19.30" height="1.00" fill="#c8c8f4"/><rect x="123.2" y="576.50" width="19.30" height="1.50" fill="#c6c6f4"/><rect x="123.2" y="578.00" width="19.30" height="1.00" fill="#c6c6f4"/><rect x="123.2" y="579.00" width="19.30" height="1.00" fill="#c2c2f3"/><rect x="123.2" y="580.00" width="19.30" height="1.50" fill="#ccccf5"/><rect x="123.2" y="581.50" width="19.30" height="1.00" fill="#c7c7f4"/><rect x="123.2" y="582.50" width="19.30" height="1.00" fill="#ccccf5"/><rect x="123.2" y="583.7" width="19.30" height="5.30" fill="#f0f0fa"/><rect x="123.2" y="583.70" width="19.30" height="2.00" fill="#f1f1fa"/><rect x="123.2" y="585.70" width="19.30" height="1.00" fill="#f1f1fa"/><rect x="123.2" y="586.70" width="19.30" height="2.00" fill="#efeffa"/><rect x="123.2" y="589.0" width="19.30" height="13.20" fill="#e8e8fa"/><rect x="123.2" y="589.00" width="19.30" height="1.00" fill="#e7e7fa"/><rect x="123.2" y="590.00" width="19.30" height="1.00" fill="#e7e7fa"/><rect x="123.2" y="591.00" width="19.30" height="1.50" fill="#eaeafa"/><rect x="123.2" y="592.50" width="19.30" height="1.00" fill="#e8e8fa"/><rect x="123.2" y="593.50" width="19.30" height="2.00" fill="#e7e7fa"/><rect x="123.2" y="595.50" width="19.30" height="1.00" fill="#e8e8fa"/><rect x="123.2" y="596.50" width="19.30" height="1.50" fill="#e8e8fa"/><rect x="123.2" y="598.00" width="19.30" height="1.00" fill="#e8e8fa"/><rect x="123.2" y="599.00" width="19.30" height="1.00" fill="#e8e8fa"/><rect x="123.2" y="600.00" width="19.30" height="1.00" fill="#e7e7fa"/><rect x="123.2" y="601.00" width="19.30" height="1.00" fill="#e8e8fa"/><rect x="123.2" y="602.2" width="19.30" height="7.10" fill="#ffd0e0"/><rect x="123.2" y="602.20" width="19.30" height="1.00" fill="#ffd1e4"/><rect x="123.2" y="603.20" width="19.30" height="1.50" fill="#ffcde1"/><rect x="123.2" y="604.70" width="19.30" height="2.00" fill="#ffcbe0"/><rect x="123.2" y="606.70" width="19.30" height="2.00" fill="#ffcee2"/><rect x="123.2" y="608.70" width="19.30" height="0.60" fill="#ffc6dd"/><rect x="123.2" y="609.3" width="19.30" height="8.40" fill="#f8f8fe"/><rect x="123.2" y="609.30" width="19.30" height="1.00" fill="#f9f9fe"/><rect x="123.2" y="610.30" width="19.30" height="1.50" fill="#f8f8fe"/><rect x="123.2" y="611.80" width="19.30" height="1.00" fill="#f9f9fe"/><rect x="123.2" y="612.80" width="19.30" height="1.00" fill="#f8f8fe"/><rect x="123.2" y="613.80" width="19.30" height="1.50" fill="#f7f7fe"/><rect x="123.2" y="615.30" width="19.30" height="1.00" fill="#f8f8fe"/><rect x="123.2" y="616.30" width="19.30" height="1.40" fill="#f8f8fe"/><rect x="123.2" y="617.7" width="19.30" height="5.70" fill="#ff98bc"/><rect x="123.2" y="617.70" width="19.30" height="1.00" fill="#ff9ec6"/><rect x="123.2" y="618.70" width="19.30" height="2.00" fill="#ff8dbd"/><rect x="123.2" y="620.70" width="19.30" height="1.50" fill="#ff9cc5"/><rect x="123.2" y="622.20" width="19.30" height="1.20" fill="#ff95c1"/><rect x="123.2" y="623.4" width="19.30" height="12.50" fill="#f8f4fa"/><rect x="123.2" y="623.40" width="19.30" height="1.00" fill="#f8f5fa"/><rect x="123.2" y="624.40" width="19.30" height="1.50" fill="#f8f4fa"/><rect x="123.2" y="625.90" width="19.30" height="1.00" fill="#f7f3fa"/><rect x="123.2" y="626.90" width="19.30" height="1.50" fill="#f8f4fa"/><rect x="123.2" y="628.40" width="19.30" height="2.00" fill="#f8f4fa"/><rect x="123.2" y="630.40" width="19.30" height="1.50" fill="#f7f3fa"/><rect x="123.2" y="631.90" width="19.30" height="1.50" fill="#f7f3f9"/><rect x="123.2" y="633.40" width="19.30" height="2.00" fill="#f7f3fa"/><rect x="123.2" y="635.9" width="19.30" height="11.90" fill="#dcdcf8"/><rect x="123.2" y="635.90" width="19.30" height="1.50" fill="#dfdff9"/><rect x="123.2" y="637.40" width="19.30" height="1.50" fill="#dfdff9"/><rect x="123.2" y="638.90" width="19.30" height="1.00" fill="#d9d9f7"/><rect x="123.2" y="639.90" width="19.30" height="1.00" fill="#ddddf8"/><rect x="123.2" y="640.90" width="19.30" height="2.00" fill="#dcdcf8"/><rect x="123.2" y="642.90" width="19.30" height="1.00" fill="#ddddf8"/><rect x="123.2" y="643.90" width="19.30" height="1.00" fill="#e0e0f9"/><rect x="123.2" y="644.90" width="19.30" height="1.00" fill="#d9d9f7"/><rect x="123.2" y="645.90" width="19.30" height="1.90" fill="#dbdbf8"/><rect x="123.2" y="647.8" width="19.30" height="16.40" fill="#d4d4f6"/><rect x="123.2" y="647.80" width="19.30" height="1.00" fill="#d1d1f5"/><rect x="123.2" y="648.80" width="19.30" height="2.00" fill="#d3d3f6"/><rect x="123.2" y="650.80" width="19.30" height="1.00" fill="#d7d7f7"/><rect x="123.2" y="651.80" width="19.30" height="2.00" fill="#d3d3f6"/><rect x="123.2" y="653.80" width="19.30" height="1.00" fill="#d8d8f7"/><rect x="123.2" y="654.80" width="19.30" height="1.00" fill="#d0d0f5"/><rect x="123.2" y="655.80" width="19.30" height="2.00" fill="#d1d1f5"/><rect x="123.2" y="657.80" width="19.30" height="1.00" fill="#d5d5f6"/><rect x="123.2" y="658.80" width="19.30" height="1.00" fill="#d1d1f5"/><rect x="123.2" y="659.80" width="19.30" height="1.50" fill="#d0d0f5"/><rect x="123.2" y="661.30" width="19.30" height="1.00" fill="#d5d5f6"/><rect x="123.2" y="662.30" width="19.30" height="1.50" fill="#d9d9f7"/><rect x="123.2" y="664.2" width="19.30" height="3.00" fill="#e8eefa"/><rect x="123.2" y="664.20" width="19.30" height="1.00" fill="#e8eefa"/><rect x="123.2" y="665.20" width="19.30" height="1.00" fill="#e6edfa"/><rect x="123.2" y="666.20" width="19.30" height="1.00" fill="#e8eefa"/><rect x="123.2" y="667.2" width="19.30" height="16.60" fill="#ff6898"/><rect x="123.2" y="667.20" width="19.30" height="2.00" fill="#ff609d"/><rect x="123.2" y="669.20" width="19.30" height="1.00" fill="#ff5697"/><rect x="123.2" y="670.20" width="19.30" height="1.00" fill="#ff5e9d"/><rect x="123.2" y="671.20" width="19.30" height="2.00" fill="#ff5b9b"/><rect x="123.2" y="673.20" width="19.30" height="1.00" fill="#ff5798"/><rect x="123.2" y="674.20" width="19.30" height="1.00" fill="#ff4d92"/><rect x="123.2" y="675.20" width="19.30" height="1.00" fill="#ff609e"/><rect x="123.2" y="676.20" width="19.30" height="1.00" fill="#ff5697"/><rect x="123.2" y="677.20" width="19.30" height="1.00" fill="#ff4990"/><rect x="123.2" y="678.20" width="19.30" height="1.00" fill="#ff69a3"/><rect x="123.2" y="679.20" width="19.30" height="1.00" fill="#ff6da6"/><rect x="123.2" y="680.20" width="19.30" height="1.00" fill="#ff67a2"/><rect x="123.2" y="681.20" width="19.30" height="1.00" fill="#ff5f9d"/><rect x="123.2" y="682.20" width="19.30" height="1.00" fill="#ff4c91"/><rect x="123.2" y="683.20" width="19.30" height="0.60" fill="#ff5295"/><rect x="123.2" y="683.8" width="19.30" height="4.80" fill="#ff90b8"/><rect x="123.2" y="683.80" width="19.30" height="1.00" fill="#ff81b7"/><rect x="123.2" y="684.80" width="19.30" height="1.00" fill="#ff8fbf"/><rect x="123.2" y="685.80" width="19.30" height="2.00" fill="#ff89bc"/><rect x="123.2" y="687.80" width="19.30" height="0.80" fill="#ff7bb4"/><rect x="123.2" y="688.6" width="19.30" height="6.60" fill="#ff70a0"/><rect x="123.2" y="688.60" width="19.30" height="1.00" fill="#ff5d9f"/><rect x="123.2" y="689.60" width="19.30" height="1.00" fill="#ff77ae"/><rect x="123.2" y="690.60" width="19.30" height="1.00" fill="#ff6aa6"/><rect x="123.2" y="691.60" width="19.30" height="1.50" fill="#ff5d9e"/><rect x="123.2" y="693.10" width="19.30" height="1.00" fill="#ff5499"/><rect x="123.2" y="694.10" width="19.30" height="1.10" fill="#ff62a1"/><rect x="123.2" y="695.2" width="19.30" height="1.80" fill="#f8f8fe"/><rect x="123.2" y="695.20" width="19.30" height="1.50" fill="#f8f8fe"/><rect x="123.2" y="697.0" width="19.30" height="6.40" fill="#ffa8c8"/><rect x="123.2" y="697.00" width="19.30" height="2.00" fill="#ffa3cb"/><rect x="123.2" y="699.00" width="19.30" height="1.00" fill="#ffabcf"/><rect x="123.2" y="700.00" width="19.30" height="1.00" fill="#ffa5cc"/><rect x="123.2" y="701.00" width="19.30" height="1.00" fill="#ff9fc8"/><rect x="123.2" y="702.00" width="19.30" height="1.40" fill="#ffa2cb"/><rect x="142.5" y="428.2" width="19.30" height="3.80" fill="#ffc0d8"/><rect x="142.5" y="428.20" width="19.30" height="2.00" fill="#ffb4d5"/><rect x="142.5" y="430.20" width="19.30" height="1.50" fill="#ffbfdc"/><rect x="142.5" y="432.0" width="19.30" height="3.50" fill="#ffd8e6"/><rect x="142.5" y="432.00" width="19.30" height="1.00" fill="#ffd4e6"/><rect x="142.5" y="433.00" width="19.30" height="1.50" fill="#ffd1e5"/><rect x="142.5" y="434.50" width="19.30" height="1.00" fill="#ffd2e5"/><rect x="142.5" y="435.5" width="19.30" height="10.80" fill="#ffb0cc"/><rect x="142.5" y="435.50" width="19.30" height="1.50" fill="#ffa9cd"/><rect x="142.5" y="437.00" width="19.30" height="1.00" fill="#ffadd0"/><rect x="142.5" y="438.00" width="19.30" height="2.00" fill="#ffa8cd"/><rect x="142.5" y="440.00" width="19.30" height="1.00" fill="#ffa4ca"/><rect x="142.5" y="441.00" width="19.30" height="1.50" fill="#ffa6cc"/><rect x="142.5" y="442.50" width="19.30" height="1.50" fill="#ffb0d1"/><rect x="142.5" y="444.00" width="19.30" height="2.00" fill="#ffb2d2"/><rect x="142.5" y="446.3" width="19.30" height="5.30" fill="#ff98bc"/><rect x="142.5" y="446.30" width="19.30" height="1.00" fill="#ff97c2"/><rect x="142.5" y="447.30" width="19.30" height="1.00" fill="#ff88b9"/><rect x="142.5" y="448.30" width="19.30" height="1.00" fill="#ff97c2"/><rect x="142.5" y="449.30" width="19.30" height="2.00" fill="#ff95c1"/><rect x="142.5" y="451.6" width="19.30" height="4.20" fill="#f4f4fc"/><rect x="142.5" y="451.60" width="19.30" height="1.00" fill="#f4f4fc"/><rect x="142.5" y="452.60" width="19.30" height="2.00" fill="#f3f3fc"/><rect x="142.5" y="454.60" width="19.30" height="1.00" fill="#f3f3fc"/><rect x="142.5" y="455.8" width="19.30" height="18.20" fill="#fce4ee"/><rect x="142.5" y="455.80" width="19.30" height="1.00" fill="#fce4ef"/><rect x="142.5" y="456.80" width="19.30" height="1.00" fill="#fce1ee"/><rect x="142.5" y="457.80" width="19.30" height="2.00" fill="#fce1ee"/><rect x="142.5" y="459.80" width="19.30" height="1.50" fill="#fce1ee"/><rect x="142.5" y="461.30" width="19.30" height="1.00" fill="#fce0ed"/><rect x="142.5" y="462.30" width="19.30" height="2.00" fill="#fce2ef"/><rect x="142.5" y="464.30" width="19.30" height="1.50" fill="#fce0ee"/><rect x="142.5" y="465.80" width="19.30" height="1.00" fill="#fce3ef"/><rect x="142.5" y="466.80" width="19.30" height="1.50" fill="#fcdfed"/><rect x="142.5" y="468.30" width="19.30" height="1.50" fill="#fce2ef"/><rect x="142.5" y="469.80" width="19.30" height="1.00" fill="#fce4f0"/><rect x="142.5" y="470.80" width="19.30" height="1.00" fill="#fce5f0"/><rect x="142.5" y="471.80" width="19.30" height="1.50" fill="#fce3ef"/><rect x="142.5" y="473.30" width="19.30" height="0.70" fill="#fce3ef"/><rect x="142.5" y="474.0" width="19.30" height="8.30" fill="#fce8f0"/><rect x="142.5" y="474.00" width="19.30" height="1.00" fill="#fceaf1"/><rect x="142.5" y="475.00" width="19.30" height="2.00" fill="#fce9f0"/><rect x="142.5" y="477.00" width="19.30" height="1.00" fill="#fce9f1"/><rect x="142.5" y="478.00" width="19.30" height="2.00" fill="#fce6ef"/><rect x="142.5" y="480.00" width="19.30" height="1.00" fill="#fce9f1"/><rect x="142.5" y="481.00" width="19.30" height="1.00" fill="#fce9f1"/><rect x="142.5" y="482.3" width="19.30" height="6.00" fill="#eeeefa"/><rect x="142.5" y="482.30" width="19.30" height="1.00" fill="#f0f0fb"/><rect x="142.5" y="483.30" width="19.30" height="1.00" fill="#ececf9"/><rect x="142.5" y="484.30" width="19.30" height="2.00" fill="#eeeefa"/><rect x="142.5" y="486.30" width="19.30" height="1.00" fill="#efeffa"/><rect x="142.5" y="487.30" width="19.30" height="1.00" fill="#eeeefa"/><rect x="142.5" y="488.3" width="19.30" height="5.40" fill="#ffd8e6"/><rect x="142.5" y="488.30" width="19.30" height="2.00" fill="#ffd2e5"/><rect x="142.5" y="490.30" width="19.30" height="1.00" fill="#ffd8e9"/><rect x="142.5" y="491.30" width="19.30" height="1.00" fill="#ffd7e8"/><rect x="142.5" y="492.30" width="19.30" height="1.00" fill="#ffd7e8"/><rect x="142.5" y="493.7" width="19.30" height="10.10" fill="#ff98bc"/><rect x="142.5" y="493.70" width="19.30" height="1.00" fill="#ff9ec6"/><rect x="142.5" y="494.70" width="19.30" height="1.50" fill="#ff86b8"/><rect x="142.5" y="496.20" width="19.30" height="2.00" fill="#ff91bf"/><rect x="142.5" y="498.20" width="19.30" height="1.00" fill="#ff86b9"/><rect x="142.5" y="499.20" width="19.30" height="2.00" fill="#ff85b8"/><rect x="142.5" y="501.20" width="19.30" height="1.00" fill="#ff98c3"/><rect x="142.5" y="502.20" width="19.30" height="1.00" fill="#ff8dbc"/><rect x="142.5" y="503.20" width="19.30" height="0.60" fill="#ff9ac4"/><rect x="142.5" y="503.8" width="19.30" height="1.80" fill="#ffc0d8"/><rect x="142.5" y="503.80" width="19.30" height="1.00" fill="#ffbedb"/><rect x="142.5" y="504.80" width="19.30" height="0.80" fill="#ffb3d5"/><rect x="142.5" y="505.6" width="19.30" height="7.70" fill="#ff70a0"/><rect x="142.5" y="505.60" width="19.30" height="1.00" fill="#ff73ac"/><rect x="142.5" y="506.60" width="19.30" height="1.50" fill="#ff5499"/><rect x="142.5" y="508.10" width="19.30" height="1.00" fill="#ff569a"/><rect x="142.5" y="509.10" width="19.30" height="1.00" fill="#ff599c"/><rect x="142.5" y="510.10" width="19.30" height="1.00" fill="#ff70aa"/><rect x="142.5" y="511.10" width="19.30" height="2.00" fill="#ff78ae"/><rect x="142.5" y="513.3" width="19.30" height="8.70" fill="#ff98bc"/><rect x="142.5" y="513.30" width="19.30" height="1.00" fill="#ff96c2"/><rect x="142.5" y="514.30" width="19.30" height="1.00" fill="#ff84b7"/><rect x="142.5" y="515.30" width="19.30" height="1.50" fill="#ff8ebd"/><rect x="142.5" y="516.80" width="19.30" height="2.00" fill="#ff89ba"/><rect x="142.5" y="518.80" width="19.30" height="1.00" fill="#ff92bf"/><rect x="142.5" y="519.80" width="19.30" height="1.50" fill="#ff98c3"/><rect x="142.5" y="521.30" width="19.30" height="0.70" fill="#ff94c1"/><rect x="142.5" y="522.0" width="19.30" height="2.40" fill="#ffb0cc"/><rect x="142.5" y="522.00" width="19.30" height="2.00" fill="#ffb2d2"/><rect x="142.5" y="524.4" width="19.30" height="5.90" fill="#f8f8fe"/><rect x="142.5" y="524.40" width="19.30" height="1.00" fill="#f7f7fe"/><rect x="142.5" y="525.40" width="19.30" height="1.00" fill="#f8f8fe"/><rect x="142.5" y="526.40" width="19.30" height="1.00" fill="#f7f7fe"/><rect x="142.5" y="527.40" width="19.30" height="1.00" fill="#f7f7fe"/><rect x="142.5" y="528.40" width="19.30" height="1.00" fill="#f9f9fe"/><rect x="142.5" y="529.40" width="19.30" height="0.90" fill="#f7f7fe"/><rect x="142.5" y="530.3" width="19.30" height="13.20" fill="#eeeefa"/><rect x="142.5" y="530.30" width="19.30" height="1.00" fill="#ededfa"/><rect x="142.5" y="531.30" width="19.30" height="1.00" fill="#ececf9"/><rect x="142.5" y="532.30" width="19.30" height="2.00" fill="#ececfa"/><rect x="142.5" y="534.30" width="19.30" height="1.00" fill="#eeeefa"/><rect x="142.5" y="535.30" width="19.30" height="1.50" fill="#efeffa"/><rect x="142.5" y="536.80" width="19.30" height="1.00" fill="#eeeefa"/><rect x="142.5" y="537.80" width="19.30" height="1.50" fill="#f0f0fa"/><rect x="142.5" y="539.30" width="19.30" height="1.00" fill="#ededfa"/><rect x="142.5" y="540.30" width="19.30" height="1.00" fill="#ededfa"/><rect x="142.5" y="541.30" width="19.30" height="1.00" fill="#eeeefa"/><rect x="142.5" y="542.30" width="19.30" height="1.00" fill="#efeffa"/><rect x="142.5" y="543.5" width="19.30" height="8.30" fill="#c0c0f2"/><rect x="142.5" y="543.50" width="19.30" height="2.00" fill="#c4c4f3"/><rect x="142.5" y="545.50" width="19.30" height="1.00" fill="#c4c4f3"/><rect x="142.5" y="546.50" width="19.30" height="1.50" fill="#c3c3f3"/><rect x="142.5" y="548.00" width="19.30" height="1.00" fill="#c4c4f3"/><rect x="142.5" y="549.00" width="19.30" height="1.00" fill="#c3c3f3"/><rect x="142.5" y="550.00" width="19.30" height="1.80" fill="#c6c6f3"/><rect x="142.5" y="551.8" width="19.30" height="9.50" fill="#d4d4f6"/><rect x="142.5" y="551.80" width="19.30" height="1.00" fill="#d3d3f6"/><rect x="142.5" y="552.80" width="19.30" height="1.00" fill="#d3d3f6"/><rect x="142.5" y="553.80" width="19.30" height="1.50" fill="#d8d8f7"/><rect x="142.5" y="555.30" width="19.30" height="1.00" fill="#cfcff5"/><rect x="142.5" y="556.30" width="19.30" height="2.00" fill="#cfcff5"/><rect x="142.5" y="558.30" width="19.30" height="1.00" fill="#cfcff5"/><rect x="142.5" y="559.30" width="19.30" height="1.00" fill="#d5d5f6"/><rect x="142.5" y="560.30" width="19.30" height="1.00" fill="#d0d0f5"/><rect x="142.5" y="561.3" width="19.30" height="4.80" fill="#f8f8fe"/><rect x="142.5" y="561.30" width="19.30" height="1.00" fill="#f7f7fe"/><rect x="142.5" y="562.30" width="19.30" height="1.50" fill="#f9f9fe"/><rect x="142.5" y="563.80" width="19.30" height="1.00" fill="#f8f8fe"/><rect x="142.5" y="564.80" width="19.30" height="1.30" fill="#f8f8fe"/><rect x="142.5" y="566.1" width="19.30" height="3.90" fill="#c8c8f4"/><rect x="142.5" y="566.10" width="19.30" height="2.00" fill="#cfcff5"/><rect x="142.5" y="568.10" width="19.30" height="1.50" fill="#ccccf5"/><rect x="142.5" y="570.0" width="19.30" height="10.70" fill="#d0d0f4"/><rect x="142.5" y="570.00" width="19.30" height="2.00" fill="#d6d6f5"/><rect x="142.5" y="572.00" width="19.30" height="2.00" fill="#d3d3f5"/><rect x="142.5" y="574.00" width="19.30" height="1.00" fill="#d4d4f5"/><rect x="142.5" y="575.00" width="19.30" height="1.00" fill="#d0d0f4"/><rect x="142.5" y="576.00" width="19.30" height="1.00" fill="#cdcdf3"/><rect x="142.5" y="577.00" width="19.30" height="1.00" fill="#cfcff4"/><rect x="142.5" y="578.00" width="19.30" height="1.00" fill="#cbcbf3"/><rect x="142.5" y="579.00" width="19.30" height="1.70" fill="#cdcdf3"/><rect x="142.5" y="580.7" width="19.30" height="1.20" fill="#ffc0d8"/><rect x="142.5" y="580.70" width="19.30" height="1.00" fill="#ffc1dc"/><rect x="142.5" y="581.9" width="19.30" height="17.90" fill="#b8b8f2"/><rect x="142.5" y="581.90" width="19.30" height="1.00" fill="#b6b6f2"/><rect x="142.5" y="582.90" width="19.30" height="1.00" fill="#c1c1f4"/><rect x="142.5" y="583.90" width="19.30" height="2.00" fill="#b2b2f1"/><rect x="142.5" y="585.90" width="19.30" height="1.00" fill="#b8b8f2"/><rect x="142.5" y="586.90" width="19.30" height="1.50" fill="#bbbbf3"/><rect x="142.5" y="588.40" width="19.30" height="2.00" fill="#c0c0f3"/><rect x="142.5" y="590.40" width="19.30" height="2.00" fill="#b0b0f1"/><rect x="142.5" y="592.40" width="19.30" height="2.00" fill="#bfbff3"/><rect x="142.5" y="594.40" width="19.30" height="1.50" fill="#bdbdf3"/><rect x="142.5" y="595.90" width="19.30" height="1.50" fill="#c1c1f4"/><rect x="142.5" y="597.40" width="19.30" height="1.50" fill="#b7b7f2"/><rect x="142.5" y="598.90" width="19.30" height="0.90" fill="#bbbbf2"/><rect x="142.5" y="599.8" width="19.30" height="18.20" fill="#a8acf0"/><rect x="142.5" y="599.80" width="19.30" height="2.00" fill="#9da2ee"/><rect x="142.5" y="601.80" width="19.30" height="1.00" fill="#b1b4f1"/><rect x="142.5" y="602.80" width="19.30" height="1.00" fill="#a1a5ef"/><rect x="142.5" y="603.80" width="19.30" height="1.50" fill="#a2a6ef"/><rect x="142.5" y="605.30" width="19.30" height="2.00" fill="#a6aaf0"/><rect x="142.5" y="607.30" width="19.30" height="1.00" fill="#adb0f1"/><rect x="142.5" y="608.30" width="19.30" height="1.00" fill="#9ea2ee"/><rect x="142.5" y="609.30" width="19.30" height="2.00" fill="#a9adf0"/><rect x="142.5" y="611.30" width="19.30" height="1.00" fill="#a7abf0"/><rect x="142.5" y="612.30" width="19.30" height="1.00" fill="#b3b6f2"/><rect x="142.5" y="613.30" width="19.30" height="1.00" fill="#aeb2f1"/><rect x="142.5" y="614.30" width="19.30" height="1.00" fill="#b0b3f1"/><rect x="142.5" y="615.30" width="19.30" height="1.50" fill="#aeb1f1"/><rect x="142.5" y="616.80" width="19.30" height="1.00" fill="#b3b6f2"/><rect x="142.5" y="618.0" width="19.30" height="4.80" fill="#b8b8f2"/><rect x="142.5" y="618.00" width="19.30" height="1.00" fill="#bcbcf3"/><rect x="142.5" y="619.00" width="19.30" height="2.00" fill="#b8b8f2"/><rect x="142.5" y="621.00" width="19.30" height="1.80" fill="#bfbff3"/><rect x="142.5" y="622.8" width="19.30" height="11.90" fill="#c0c0f2"/><rect x="142.5" y="622.80" width="19.30" height="1.00" fill="#bcbcf1"/><rect x="142.5" y="623.80" width="19.30" height="1.00" fill="#c4c4f3"/><rect x="142.5" y="624.80" width="19.30" height="2.00" fill="#c0c0f2"/><rect x="142.5" y="626.80" width="19.30" height="1.50" fill="#c6c6f3"/><rect x="142.5" y="628.30" width="19.30" height="1.00" fill="#c2c2f2"/><rect x="142.5" y="629.30" width="19.30" height="1.00" fill="#bfbff2"/><rect x="142.5" y="630.30" width="19.30" height="1.00" fill="#babaf1"/><rect x="142.5" y="631.30" width="19.30" height="1.00" fill="#bdbdf1"/><rect x="142.5" y="632.30" width="19.30" height="2.00" fill="#bcbcf1"/><rect x="142.5" y="634.7" width="19.30" height="13.10" fill="#c8c8f4"/><rect x="142.5" y="634.70" width="19.30" height="1.00" fill="#c2c2f3"/><rect x="142.5" y="635.70" width="19.30" height="1.00" fill="#c2c2f3"/><rect x="142.5" y="636.70" width="19.30" height="2.00" fill="#c5c5f3"/><rect x="142.5" y="638.70" width="19.30" height="1.00" fill="#c9c9f4"/><rect x="142.5" y="639.70" width="19.30" height="1.00" fill="#c4c4f3"/><rect x="142.5" y="640.70" width="19.30" height="1.50" fill="#c9c9f4"/><rect x="142.5" y="642.20" width="19.30" height="1.50" fill="#c5c5f3"/><rect x="142.5" y="643.70" width="19.30" height="1.50" fill="#c3c3f3"/><rect x="142.5" y="645.20" width="19.30" height="1.00" fill="#cbcbf5"/><rect x="142.5" y="646.20" width="19.30" height="1.00" fill="#c1c1f3"/><rect x="142.5" y="647.20" width="19.30" height="0.60" fill="#ccccf5"/><rect x="142.5" y="647.8" width="19.30" height="19.40" fill="#b0b4f0"/><rect x="142.5" y="647.80" width="19.30" height="2.00" fill="#adb1ef"/><rect x="142.5" y="649.80" width="19.30" height="1.00" fill="#b3b7f1"/><rect x="142.5" y="650.80" width="19.30" height="1.00" fill="#b9bcf2"/><rect x="142.5" y="651.80" width="19.30" height="2.00" fill="#b6baf1"/><rect x="142.5" y="653.80" width="19.30" height="1.00" fill="#b6b9f1"/><rect x="142.5" y="654.80" width="19.30" height="2.00" fill="#a6abee"/><rect x="142.5" y="656.80" width="19.30" height="2.00" fill="#adb1ef"/><rect x="142.5" y="658.80" width="19.30" height="1.00" fill="#babdf2"/><rect x="142.5" y="659.80" width="19.30" height="1.50" fill="#a7acee"/><rect x="142.5" y="661.30" width="19.30" height="1.50" fill="#adb1ef"/><rect x="142.5" y="662.80" width="19.30" height="1.00" fill="#aeb2f0"/><rect x="142.5" y="663.80" width="19.30" height="1.50" fill="#b8bbf1"/><rect x="142.5" y="665.30" width="19.30" height="1.00" fill="#b1b5f0"/><rect x="142.5" y="666.30" width="19.30" height="0.90" fill="#b4b8f1"/><rect x="142.5" y="667.2" width="19.30" height="3.50" fill="#f8f8fe"/><rect x="142.5" y="667.20" width="19.30" height="1.50" fill="#f8f8fe"/><rect x="142.5" y="668.70" width="19.30" height="1.00" fill="#f9f9fe"/><rect x="142.5" y="669.70" width="19.30" height="1.00" fill="#f9f9fe"/><rect x="142.5" y="670.7" width="19.30" height="7.20" fill="#e0e0f8"/><rect x="142.5" y="670.70" width="19.30" height="1.00" fill="#e0e0f8"/><rect x="142.5" y="671.70" width="19.30" height="1.00" fill="#ddddf7"/><rect x="142.5" y="672.70" width="19.30" height="2.00" fill="#dfdff8"/><rect x="142.5" y="674.70" width="19.30" height="1.50" fill="#e2e2f8"/><rect x="142.5" y="676.20" width="19.30" height="1.00" fill="#dedef8"/><rect x="142.5" y="677.20" width="19.30" height="0.70" fill="#ddddf7"/><rect x="142.5" y="677.9" width="19.30" height="5.90" fill="#d4d4f6"/><rect x="142.5" y="677.90" width="19.30" height="1.00" fill="#d2d2f6"/><rect x="142.5" y="678.90" width="19.30" height="1.00" fill="#d3d3f6"/><rect x="142.5" y="679.90" width="19.30" height="1.50" fill="#d4d4f6"/><rect x="142.5" y="681.40" width="19.30" height="1.50" fill="#d3d3f6"/><rect x="142.5" y="682.90" width="19.30" height="0.90" fill="#d0d0f5"/><rect x="142.5" y="683.8" width="19.30" height="12.00" fill="#c0c0f2"/><rect x="142.5" y="683.80" width="19.30" height="1.00" fill="#c4c4f3"/><rect x="142.5" y="684.80" width="19.30" height="1.00" fill="#c5c5f3"/><rect x="142.5" y="685.80" width="19.30" height="2.00" fill="#b8b8f0"/><rect x="142.5" y="687.80" width="19.30" height="2.00" fill="#c8c8f4"/><rect x="142.5" y="689.80" width="19.30" height="1.50" fill="#c6c6f3"/><rect x="142.5" y="691.30" width="19.30" height="1.00" fill="#c3c3f3"/><rect x="142.5" y="692.30" width="19.30" height="1.50" fill="#c0c0f2"/><rect x="142.5" y="693.80" width="19.30" height="1.50" fill="#babaf1"/><rect x="142.5" y="695.8" width="19.30" height="7.60" fill="#f8eef6"/><rect x="142.5" y="695.80" width="19.30" height="1.00" fill="#f8eff6"/><rect x="142.5" y="696.80" width="19.30" height="1.00" fill="#f9f0f7"/><rect x="142.5" y="697.80" width="19.30" height="1.00" fill="#f8eef6"/><rect x="142.5" y="698.80" width="19.30" height="1.50" fill="#f8eef6"/><rect x="142.5" y="700.30" width="19.30" height="1.00" fill="#f8eef6"/><rect x="142.5" y="701.30" width="19.30" height="2.00" fill="#f8eff6"/><rect x="161.8" y="428.2" width="19.20" height="45.80" fill="#ff80aa"/><rect x="161.8" y="428.20" width="19.20" height="1.00" fill="#ff76ad"/><rect x="161.8" y="429.20" width="19.20" height="1.00" fill="#ff7aaf"/><rect x="161.8" y="430.20" width="19.20" height="1.50" fill="#ff84b5"/><rect x="161.8" y="431.70" width="19.20" height="1.00" fill="#ff73ab"/><rect x="161.8" y="432.70" width="19.20" height="1.50" fill="#ff6ca7"/><rect x="161.8" y="434.20" width="19.20" height="1.00" fill="#ff6fa8"/><rect x="161.8" y="435.20" width="19.20" height="2.00" fill="#ff7fb2"/><rect x="161.8" y="437.20" width="19.20" height="1.00" fill="#ff7aaf"/><rect x="161.8" y="438.20" width="19.20" height="1.00" fill="#ff89b8"/><rect x="161.8" y="439.20" width="19.20" height="1.00" fill="#ff77ad"/><rect x="161.8" y="440.20" width="19.20" height="1.00" fill="#ff7aaf"/><rect x="161.8" y="441.20" width="19.20" height="1.50" fill="#ff6aa5"/><rect x="161.8" y="442.70" width="19.20" height="1.00" fill="#ff7bb0"/><rect x="161.8" y="443.70" width="19.20" height="2.00" fill="#ff70a9"/><rect x="161.8" y="445.70" width="19.20" height="1.50" fill="#ff6fa9"/><rect x="161.8" y="447.20" width="19.20" height="1.50" fill="#ff7cb1"/><rect x="161.8" y="448.70" width="19.20" height="2.00" fill="#ff72aa"/><rect x="161.8" y="450.70" width="19.20" height="1.00" fill="#ff6da7"/><rect x="161.8" y="451.70" width="19.20" height="2.00" fill="#ff7bb0"/><rect x="161.8" y="453.70" width="19.20" height="1.50" fill="#ff82b4"/><rect x="161.8" y="455.20" width="19.20" height="1.50" fill="#ff6ca7"/><rect x="161.8" y="456.70" width="19.20" height="2.00" fill="#ff74ac"/><rect x="161.8" y="458.70" width="19.20" height="1.00" fill="#ff86b6"/><rect x="161.8" y="459.70" width="19.20" height="1.50" fill="#ff7db1"/><rect x="161.8" y="461.20" width="19.20" height="1.00" fill="#ff67a4"/><rect x="161.8" y="462.20" width="19.20" height="1.00" fill="#ff66a3"/><rect x="161.8" y="463.20" width="19.20" height="1.00" fill="#ff88b7"/><rect x="161.8" y="464.20" width="19.20" height="1.50" fill="#ff75ac"/><rect x="161.8" y="465.70" width="19.20" height="2.00" fill="#ff7eb2"/><rect x="161.8" y="467.70" width="19.20" height="1.50" fill="#ff76ad"/><rect x="161.8" y="469.20" width="19.20" height="2.00" fill="#ff76ad"/><rect x="161.8" y="471.20" width="19.20" height="2.00" fill="#ff7bb0"/><rect x="161.8" y="473.20" width="19.20" height="0.80" fill="#ff87b7"/><rect x="161.8" y="474.0" width="19.20" height="8.30" fill="#ff6898"/><rect x="161.8" y="474.00" width="19.20" height="1.50" fill="#ff5f9d"/><rect x="161.8" y="475.50" width="19.20" height="1.00" fill="#ff5698"/><rect x="161.8" y="476.50" width="19.20" height="1.00" fill="#ff6ea6"/><rect x="161.8" y="477.50" width="19.20" height="1.50" fill="#ff5d9c"/><rect x="161.8" y="479.00" width="19.20" height="1.00" fill="#ff4d92"/><rect x="161.8" y="480.00" width="19.20" height="2.00" fill="#ff5e9c"/><rect x="161.8" y="482.3" width="19.20" height="2.40" fill="#f8f8fe"/><rect x="161.8" y="482.30" width="19.20" height="2.00" fill="#f8f8fe"/><rect x="161.8" y="484.7" width="19.20" height="6.00" fill="#d8d8f6"/><rect x="161.8" y="484.70" width="19.20" height="1.50" fill="#d6d6f6"/><rect x="161.8" y="486.20" width="19.20" height="1.00" fill="#dbdbf7"/><rect x="161.8" y="487.20" width="19.20" height="1.50" fill="#d9d9f6"/><rect x="161.8" y="488.70" width="19.20" height="1.00" fill="#d5d5f5"/><rect x="161.8" y="489.70" width="19.20" height="1.00" fill="#dcdcf7"/><rect x="161.8" y="490.7" width="19.20" height="3.00" fill="#ffc8dc"/><rect x="161.8" y="490.70" width="19.20" height="1.50" fill="#ffc1dc"/><rect x="161.8" y="492.20" width="19.20" height="1.50" fill="#ffc2dc"/><rect x="161.8" y="493.7" width="19.20" height="10.10" fill="#c8c8f4"/><rect x="161.8" y="493.70" width="19.20" height="1.50" fill="#c3c3f3"/><rect x="161.8" y="495.20" width="19.20" height="1.00" fill="#c8c8f4"/><rect x="161.8" y="496.20" width="19.20" height="1.00" fill="#c9c9f4"/><rect x="161.8" y="497.20" width="19.20" height="1.00" fill="#c6c6f4"/><rect x="161.8" y="498.20" width="19.20" height="1.00" fill="#cacaf4"/><rect x="161.8" y="499.20" width="19.20" height="1.00" fill="#c5c5f3"/><rect x="161.8" y="500.20" width="19.20" height="1.00" fill="#c4c4f3"/><rect x="161.8" y="501.20" width="19.20" height="1.50" fill="#c5c5f3"/><rect x="161.8" y="502.70" width="19.20" height="1.00" fill="#c2c2f3"/><rect x="161.8" y="503.8" width="19.20" height="8.40" fill="#f0f0fa"/><rect x="161.8" y="503.80" width="19.20" height="2.00" fill="#efeffa"/><rect x="161.8" y="505.80" width="19.20" height="1.00" fill="#efeffa"/><rect x="161.8" y="506.80" width="19.20" height="1.00" fill="#f1f1fa"/><rect x="161.8" y="507.80" width="19.20" height="1.50" fill="#efeffa"/><rect x="161.8" y="509.30" width="19.20" height="1.00" fill="#f0f0fa"/><rect x="161.8" y="510.30" width="19.20" height="1.90" fill="#f0f0fa"/><rect x="161.8" y="512.2" width="19.20" height="7.10" fill="#ffb0cc"/><rect x="161.8" y="512.20" width="19.20" height="1.00" fill="#ffb2d2"/><rect x="161.8" y="513.20" width="19.20" height="1.00" fill="#ffb5d4"/><rect x="161.8" y="514.20" width="19.20" height="1.00" fill="#ffb2d2"/><rect x="161.8" y="515.20" width="19.20" height="2.00" fill="#ffa3ca"/><rect x="161.8" y="517.20" width="19.20" height="2.00" fill="#ffa4ca"/><rect x="161.8" y="519.3" width="19.20" height="5.10" fill="#ffc0d8"/><rect x="161.8" y="519.30" width="19.20" height="1.00" fill="#ffb9d8"/><rect x="161.8" y="520.30" width="19.20" height="1.50" fill="#ffc2dd"/><rect x="161.8" y="521.80" width="19.20" height="1.00" fill="#ffbedb"/><rect x="161.8" y="522.80" width="19.20" height="1.00" fill="#ffc4de"/><rect x="161.8" y="523.80" width="19.20" height="0.60" fill="#ffb5d6"/><rect x="161.8" y="524.4" width="19.20" height="15.50" fill="#ff90b8"/><rect x="161.8" y="524.40" width="19.20" height="1.00" fill="#ff8dbe"/><rect x="161.8" y="525.40" width="19.20" height="2.00" fill="#ff84b9"/><rect x="161.8" y="527.40" width="19.20" height="1.00" fill="#ff96c3"/><rect x="161.8" y="528.40" width="19.20" height="2.00" fill="#ff86b9"/><rect x="161.8" y="530.40" width="19.20" height="1.00" fill="#ff8abc"/><rect x="161.8" y="531.40" width="19.20" height="1.00" fill="#ff90bf"/><rect x="161.8" y="532.40" width="19.20" height="1.00" fill="#ff93c1"/><rect x="161.8" y="533.40" width="19.20" height="1.00" fill="#ff8ebe"/><rect x="161.8" y="534.40" width="19.20" height="2.00" fill="#ff8ebe"/><rect x="161.8" y="536.40" width="19.20" height="1.50" fill="#ff7ab3"/><rect x="161.8" y="537.90" width="19.20" height="2.00" fill="#ff79b2"/><rect x="161.8" y="539.9" width="19.20" height="4.80" fill="#eeeefa"/><rect x="161.8" y="539.90" width="19.20" height="1.00" fill="#efeffa"/><rect x="161.8" y="540.90" width="19.20" height="2.00" fill="#ededfa"/><rect x="161.8" y="542.90" width="19.20" height="1.00" fill="#eeeefa"/><rect x="161.8" y="543.90" width="19.20" height="0.80" fill="#ececfa"/><rect x="161.8" y="544.7" width="19.20" height="13.10" fill="#d0d0f4"/><rect x="161.8" y="544.70" width="19.20" height="2.00" fill="#d6d6f5"/><rect x="161.8" y="546.70" width="19.20" height="1.00" fill="#d5d5f5"/><rect x="161.8" y="547.70" width="19.20" height="1.00" fill="#d2d2f4"/><rect x="161.8" y="548.70" width="19.20" height="1.00" fill="#d6d6f5"/><rect x="161.8" y="549.70" width="19.20" height="1.50" fill="#d1d1f4"/><rect x="161.8" y="551.20" width="19.20" height="1.50" fill="#d5d5f5"/><rect x="161.8" y="552.70" width="19.20" height="2.00" fill="#d2d2f4"/><rect x="161.8" y="554.70" width="19.20" height="1.00" fill="#cacaf3"/><rect x="161.8" y="555.70" width="19.20" height="2.00" fill="#ccccf3"/><rect x="161.8" y="557.8" width="19.20" height="4.70" fill="#e8e8fa"/><rect x="161.8" y="557.80" width="19.20" height="1.50" fill="#e8e8fa"/><rect x="161.8" y="559.30" width="19.20" height="2.00" fill="#eaeafa"/><rect x="161.8" y="561.30" width="19.20" height="1.20" fill="#e9e9fa"/><rect x="161.8" y="562.5" width="19.20" height="7.50" fill="#ffc0d8"/><rect x="161.8" y="562.50" width="19.20" height="2.00" fill="#ffc4de"/><rect x="161.8" y="564.50" width="19.20" height="1.00" fill="#ffbedb"/><rect x="161.8" y="565.50" width="19.20" height="1.00" fill="#ffc0dc"/><rect x="161.8" y="566.50" width="19.20" height="1.00" fill="#ffc3de"/><rect x="161.8" y="567.50" width="19.20" height="1.50" fill="#ffbbd9"/><rect x="161.8" y="569.00" width="19.20" height="1.00" fill="#ffbbd9"/><rect x="161.8" y="570.0" width="19.20" height="1.20" fill="#ffb0cc"/><rect x="161.8" y="570.00" width="19.20" height="1.20" fill="#ffa3ca"/><rect x="161.8" y="571.2" width="19.20" height="9.50" fill="#d4d4f6"/><rect x="161.8" y="571.20" width="19.20" height="1.00" fill="#d8d8f7"/><rect x="161.8" y="572.20" width="19.20" height="1.50" fill="#d7d7f7"/><rect x="161.8" y="573.70" width="19.20" height="2.00" fill="#d5d5f6"/><rect x="161.8" y="575.70" width="19.20" height="1.00" fill="#d6d6f6"/><rect x="161.8" y="576.70" width="19.20" height="2.00" fill="#d4d4f6"/><rect x="161.8" y="578.70" width="19.20" height="1.00" fill="#d0d0f5"/><rect x="161.8" y="579.70" width="19.20" height="1.00" fill="#cfcff5"/><rect x="161.8" y="580.7" width="19.20" height="7.20" fill="#c0c0f2"/><rect x="161.8" y="580.70" width="19.20" height="1.50" fill="#bebef2"/><rect x="161.8" y="582.20" width="19.20" height="2.00" fill="#bfbff2"/><rect x="161.8" y="584.20" width="19.20" height="1.50" fill="#bfbff2"/><rect x="161.8" y="585.70" width="19.20" height="2.00" fill="#bebef2"/><rect x="161.8" y="587.9" width="19.20" height="30.10" fill="#a0a4f0"/><rect x="161.8" y="587.90" width="19.20" height="1.00" fill="#a9adf1"/><rect x="161.8" y="588.90" width="19.20" height="1.00" fill="#9ca0ef"/><rect x="161.8" y="589.90" width="19.20" height="1.00" fill="#9fa3f0"/><rect x="161.8" y="590.90" width="19.20" height="1.50" fill="#9a9eef"/><rect x="161.8" y="592.40" width="19.20" height="2.00" fill="#acaff2"/><rect x="161.8" y="594.40" width="19.20" height="1.00" fill="#a5a8f1"/><rect x="161.8" y="595.40" width="19.20" height="2.00" fill="#9b9fef"/><rect x="161.8" y="597.40" width="19.20" height="1.00" fill="#999def"/><rect x="161.8" y="598.40" width="19.20" height="1.00" fill="#a4a8f1"/><rect x="161.8" y="599.40" width="19.20" height="1.00" fill="#abaef2"/><rect x="161.8" y="600.40" width="19.20" height="1.50" fill="#989def"/><rect x="161.8" y="601.90" width="19.20" height="1.50" fill="#a8abf1"/><rect x="161.8" y="603.40" width="19.20" height="1.50" fill="#aaaef2"/><rect x="161.8" y="604.90" width="19.20" height="1.50" fill="#a9adf1"/><rect x="161.8" y="606.40" width="19.20" height="2.00" fill="#a5a9f1"/><rect x="161.8" y="608.40" width="19.20" height="2.00" fill="#979cef"/><rect x="161.8" y="610.40" width="19.20" height="2.00" fill="#999def"/><rect x="161.8" y="612.40" width="19.20" height="1.00" fill="#959aee"/><rect x="161.8" y="613.40" width="19.20" height="1.00" fill="#acaff2"/><rect x="161.8" y="614.40" width="19.20" height="1.50" fill="#969bee"/><rect x="161.8" y="615.90" width="19.20" height="1.00" fill="#9ca0ef"/><rect x="161.8" y="616.90" width="19.20" height="1.10" fill="#a6aaf1"/><rect x="161.8" y="618.0" width="19.20" height="4.80" fill="#c8c8f4"/><rect x="161.8" y="618.00" width="19.20" height="2.00" fill="#cacaf4"/><rect x="161.8" y="620.00" width="19.20" height="1.00" fill="#cdcdf5"/><rect x="161.8" y="621.00" width="19.20" height="1.00" fill="#cbcbf5"/><rect x="161.8" y="622.00" width="19.20" height="0.80" fill="#c5c5f3"/><rect x="161.8" y="622.8" width="19.20" height="9.50" fill="#a8acf0"/><rect x="161.8" y="622.80" width="19.20" height="1.00" fill="#aaaef0"/><rect x="161.8" y="623.80" width="19.20" height="1.00" fill="#aaadf0"/><rect x="161.8" y="624.80" width="19.20" height="1.50" fill="#b0b3f1"/><rect x="161.8" y="626.30" width="19.20" height="1.00" fill="#a7abf0"/><rect x="161.8" y="627.30" width="19.20" height="1.00" fill="#a7abf0"/><rect x="161.8" y="628.30" width="19.20" height="1.00" fill="#a6aaf0"/><rect x="161.8" y="629.30" width="19.20" height="1.50" fill="#9ea3ee"/><rect x="161.8" y="630.80" width="19.20" height="1.50" fill="#9ea3ee"/><rect x="161.8" y="632.3" width="19.20" height="15.50" fill="#c8c8f4"/><rect x="161.8" y="632.30" width="19.20" height="1.00" fill="#c3c3f3"/><rect x="161.8" y="633.30" width="19.20" height="1.50" fill="#c2c2f3"/><rect x="161.8" y="634.80" width="19.20" height="1.00" fill="#c1c1f3"/><rect x="161.8" y="635.80" width="19.20" height="1.00" fill="#cfcff5"/><rect x="161.8" y="636.80" width="19.20" height="1.50" fill="#ccccf5"/><rect x="161.8" y="638.30" width="19.20" height="1.50" fill="#c4c4f3"/><rect x="161.8" y="639.80" width="19.20" height="1.00" fill="#c9c9f4"/><rect x="161.8" y="640.80" width="19.20" height="2.00" fill="#c1c1f3"/><rect x="161.8" y="642.80" width="19.20" height="1.00" fill="#cbcbf5"/><rect x="161.8" y="643.80" width="19.20" height="1.00" fill="#cacaf4"/><rect x="161.8" y="644.80" width="19.20" height="2.00" fill="#c9c9f4"/><rect x="161.8" y="646.80" width="19.20" height="1.00" fill="#c5c5f3"/><rect x="161.8" y="647.8" width="19.20" height="19.40" fill="#b0b4f0"/><rect x="161.8" y="647.80" width="19.20" height="2.00" fill="#b0b4f0"/><rect x="161.8" y="649.80" width="19.20" height="1.00" fill="#b1b5f0"/><rect x="161.8" y="650.80" width="19.20" height="1.00" fill="#b0b4f0"/><rect x="161.8" y="651.80" width="19.20" height="1.00" fill="#b9bdf2"/><rect x="161.8" y="652.80" width="19.20" height="1.50" fill="#b7baf1"/><rect x="161.8" y="654.30" width="19.20" height="1.00" fill="#a6abee"/><rect x="161.8" y="655.30" width="19.20" height="1.00" fill="#afb3f0"/><rect x="161.8" y="656.30" width="19.20" height="1.00" fill="#a6abee"/><rect x="161.8" y="657.30" width="19.20" height="1.00" fill="#b3b7f1"/><rect x="161.8" y="658.30" width="19.20" height="2.00" fill="#b8bcf2"/><rect x="161.8" y="660.30" width="19.20" height="1.50" fill="#b7bbf1"/><rect x="161.8" y="661.80" width="19.20" height="2.00" fill="#adb1ef"/><rect x="161.8" y="663.80" width="19.20" height="1.00" fill="#acb0ef"/><rect x="161.8" y="664.80" width="19.20" height="1.00" fill="#b0b4f0"/><rect x="161.8" y="665.80" width="19.20" height="1.40" fill="#b8bbf1"/><rect x="161.8" y="667.2" width="19.20" height="7.10" fill="#e0e0f8"/><rect x="161.8" y="667.20" width="19.20" height="1.50" fill="#dedef8"/><rect x="161.8" y="668.70" width="19.20" height="1.00" fill="#ddddf7"/><rect x="161.8" y="669.70" width="19.20" height="1.00" fill="#dfdff8"/><rect x="161.8" y="670.70" width="19.20" height="1.00" fill="#e1e1f8"/><rect x="161.8" y="671.70" width="19.20" height="1.00" fill="#e0e0f8"/><rect x="161.8" y="672.70" width="19.20" height="1.00" fill="#dfdff8"/><rect x="161.8" y="673.70" width="19.20" height="0.60" fill="#dfdff8"/><rect x="161.8" y="674.3" width="19.20" height="9.50" fill="#d0d0f4"/><rect x="161.8" y="674.30" width="19.20" height="2.00" fill="#ccccf3"/><rect x="161.8" y="676.30" width="19.20" height="2.00" fill="#ccccf3"/><rect x="161.8" y="678.30" width="19.20" height="1.00" fill="#cecef3"/><rect x="161.8" y="679.30" width="19.20" height="1.00" fill="#d2d2f4"/><rect x="161.8" y="680.30" width="19.20" height="1.00" fill="#d6d6f5"/><rect x="161.8" y="681.30" width="19.20" height="1.50" fill="#d2d2f5"/><rect x="161.8" y="682.80" width="19.20" height="1.00" fill="#cecef3"/><rect x="161.8" y="683.8" width="19.20" height="12.00" fill="#b0b4f0"/><rect x="161.8" y="683.80" width="19.20" height="2.00" fill="#a6abee"/><rect x="161.8" y="685.80" width="19.20" height="1.00" fill="#b4b7f1"/><rect x="161.8" y="686.80" width="19.20" height="2.00" fill="#afb3f0"/><rect x="161.8" y="688.80" width="19.20" height="1.50" fill="#b7baf1"/><rect x="161.8" y="690.30" width="19.20" height="1.00" fill="#b9bdf2"/><rect x="161.8" y="691.30" width="19.20" height="2.00" fill="#a6aaee"/><rect x="161.8" y="693.30" width="19.20" height="2.00" fill="#b9bcf2"/><rect x="161.8" y="695.8" width="19.20" height="7.60" fill="#c8c8f4"/><rect x="161.8" y="695.80" width="19.20" height="1.50" fill="#c1c1f3"/><rect x="161.8" y="697.30" width="19.20" height="1.50" fill="#cecef5"/><rect x="161.8" y="698.80" width="19.20" height="2.00" fill="#c1c1f3"/><rect x="161.8" y="700.80" width="19.20" height="2.00" fill="#ccccf5"/><rect x="161.8" y="702.80" width="19.20" height="0.60" fill="#cfcff5"/></g>
<rect x="43.9" y="428.2" width="16.8" height="54.10" fill="#2a30ff"/>
<rect x="43.9" y="482.3" width="16.8" height="41.70" fill="#4cff00"/>
<rect x="43.9" y="524.0" width="16.8" height="57.40" fill="#8c35f8"/>
<rect x="43.9" y="581.4" width="16.8" height="85.60" fill="#f0cc30"/>
<rect x="43.9" y="667.0" width="16.8" height="36.40" fill="#f40202"/>
<rect x="36.6" y="428.2" width="6.6" height="275.20" fill="#000"/>
<path d="M41.18 428.71L41.18 429.05M41.18 428.71L43.00 428.71M41.18 429.05L43.00 429.05M40.19 428.37L40.19 428.88M40.19 428.37L43.00 428.37M40.19 428.88L41.18 428.88M41.15 429.39L41.15 429.74M41.15 429.39L43.00 429.39M41.15 429.74L43.00 429.74M39.28 428.63L39.28 429.56M39.28 428.63L40.19 428.63M39.28 429.56L41.15 429.56M41.21 430.08L41.21 430.42M41.21 430.08L43.00 430.08M41.21 430.42L43.00 430.42M41.18 431.10L41.18 431.44M41.18 431.10L43.00 431.10M41.18 431.44L43.00 431.44M40.39 430.76L40.39 431.27M40.39 430.76L43.00 430.76M40.39 431.27L41.18 431.27M38.72 430.25L38.72 431.01M38.72 430.25L41.21 430.25M38.72 431.01L40.39 431.01M41.24 431.78L41.24 432.12M41.24 431.78L43.00 431.78M41.24 432.12L43.00 432.12M39.78 431.95L39.78 432.46M39.78 431.95L41.24 431.95M39.78 432.46L43.00 432.46M41.45 432.81L41.45 433.15M41.45 432.81L43.00 432.81M41.45 433.15L43.00 433.15M41.02 433.49L41.02 433.83M41.02 433.49L43.00 433.49M41.02 433.83L43.00 433.83M39.43 432.98L39.43 433.66M39.43 432.98L41.45 432.98M39.43 433.66L41.02 433.66M37.87 432.21L37.87 433.32M37.87 432.21L39.78 432.21M37.87 433.32L39.43 433.32M36.89 430.63L36.89 432.76M36.89 430.63L38.72 430.63M36.89 432.76L37.87 432.76M34.62 429.10L34.62 431.70M34.62 429.10L39.28 429.10M34.62 431.70L36.89 431.70M25.50 430.40L34.62 430.40M41.23 434.50L41.23 434.83M41.23 434.50L43.00 434.50M41.23 434.83L43.00 434.83M40.40 434.17L40.40 434.67M40.40 434.17L43.00 434.17M40.40 434.67L41.23 434.67M39.49 434.42L39.49 435.17M39.49 434.42L40.40 434.42M39.49 435.17L43.00 435.17M41.60 435.50L41.60 435.83M41.60 435.50L43.00 435.50M41.60 435.83L43.00 435.83M40.26 435.67L40.26 436.17M40.26 435.67L41.60 435.67M40.26 436.17L43.00 436.17M38.51 434.79L38.51 435.92M38.51 434.79L39.49 434.79M38.51 435.92L40.26 435.92M41.56 436.83L41.56 437.16M41.56 436.83L43.00 436.83M41.56 437.16L43.00 437.16M39.93 436.50L39.93 437.00M39.93 436.50L43.00 436.50M39.93 437.00L41.56 437.00M41.23 437.50L41.23 437.83M41.23 437.50L43.00 437.50M41.23 437.83L43.00 437.83M40.65 437.66L40.65 438.16M40.65 437.66L41.23 437.66M40.65 438.16L43.00 438.16M41.62 438.83L41.62 439.16M41.62 438.83L43.00 438.83M41.62 439.16L43.00 439.16M40.64 438.50L40.64 439.00M40.64 438.50L43.00 438.50M40.64 439.00L41.62 439.00M38.77 437.91L38.77 438.75M38.77 437.91L40.65 437.91M38.77 438.75L40.64 438.75M41.59 439.50L41.59 439.83M41.59 439.50L43.00 439.50M41.59 439.83L43.00 439.83M40.23 439.66L40.23 440.16M40.23 439.66L41.59 439.66M40.23 440.16L43.00 440.16M41.39 440.50L41.39 440.83M41.39 440.50L43.00 440.50M41.39 440.83L43.00 440.83M40.67 440.66L40.67 441.16M40.67 440.66L41.39 440.66M40.67 441.16L43.00 441.16M41.19 441.49L41.19 441.83M41.19 441.49L43.00 441.49M41.19 441.83L43.00 441.83M38.50 440.91L38.50 441.66M38.50 440.91L40.67 440.91M38.50 441.66L41.19 441.66M37.21 439.91L37.21 441.29M37.21 439.91L40.23 439.91M37.21 441.29L38.50 441.29M34.14 438.33L34.14 440.60M34.14 438.33L38.77 438.33M34.14 440.60L37.21 440.60M33.74 436.75L33.74 439.46M33.74 436.75L39.93 436.75M33.74 439.46L34.14 439.46M33.34 435.35L33.34 438.11M33.34 435.35L38.51 435.35M33.34 438.11L33.74 438.11M41.09 442.16L41.09 442.49M41.09 442.16L43.00 442.16M41.09 442.49L43.00 442.49M41.57 442.83L41.57 443.16M41.57 442.83L43.00 442.83M41.57 443.16L43.00 443.16M40.28 442.99L40.28 443.49M40.28 442.99L41.57 442.99M40.28 443.49L43.00 443.49M41.09 443.83L41.09 444.16M41.09 443.83L43.00 443.83M41.09 444.16L43.00 444.16M38.59 443.24L38.59 443.99M38.59 443.24L40.28 443.24M38.59 443.99L41.09 443.99M38.19 442.33L38.19 443.62M38.19 442.33L41.09 442.33M38.19 443.62L38.59 443.62M31.73 436.73L31.73 442.97M31.73 436.73L33.34 436.73M31.73 442.97L38.19 442.97M41.61 444.49L41.61 444.83M41.61 444.49L43.00 444.49M41.61 444.83L43.00 444.83M40.68 444.66L40.68 445.16M40.68 444.66L41.61 444.66M40.68 445.16L43.00 445.16M39.64 444.91L39.64 445.49M39.64 444.91L40.68 444.91M39.64 445.49L43.00 445.49M41.59 445.83L41.59 446.16M41.59 445.83L43.00 445.83M41.59 446.16L43.00 446.16M37.60 445.20L37.60 445.99M37.60 445.20L39.64 445.20M37.60 445.99L41.59 445.99M31.33 439.85L31.33 445.60M31.33 439.85L31.73 439.85M31.33 445.60L37.60 445.60M41.58 447.16L41.58 447.49M41.58 447.16L43.00 447.16M41.58 447.49L43.00 447.49M40.35 446.82L40.35 447.32M40.35 446.82L43.00 446.82M40.35 447.32L41.58 447.32M39.02 447.07L39.02 447.82M39.02 447.07L40.35 447.07M39.02 447.82L43.00 447.82M38.62 446.49L38.62 447.45M38.62 446.49L43.00 446.49M38.62 447.45L39.02 447.45M37.30 446.97L37.30 448.16M37.30 446.97L38.62 446.97M37.30 448.16L43.00 448.16M36.85 447.56L36.85 448.49M36.85 447.56L37.30 447.56M36.85 448.49L43.00 448.49M41.26 448.82L41.26 449.16M41.26 448.82L43.00 448.82M41.26 449.16L43.00 449.16M41.07 449.82L41.07 450.16M41.07 449.82L43.00 449.82M41.07 450.16L43.00 450.16M40.42 449.49L40.42 449.99M40.42 449.49L43.00 449.49M40.42 449.99L41.07 449.99M41.31 450.49L41.31 450.82M41.31 450.49L43.00 450.49M41.31 450.82L43.00 450.82M40.29 450.66L40.29 451.15M40.29 450.66L41.31 450.66M40.29 451.15L43.00 451.15M39.39 450.91L39.39 451.49M39.39 450.91L40.29 450.91M39.39 451.49L43.00 451.49M38.44 449.74L38.44 451.20M38.44 449.74L40.42 449.74M38.44 451.20L39.39 451.20M36.98 448.99L36.98 450.47M36.98 448.99L41.26 448.99M36.98 450.47L38.44 450.47M41.09 451.82L41.09 452.15M41.09 451.82L43.00 451.82M41.09 452.15L43.00 452.15M40.39 451.99L40.39 452.49M40.39 451.99L41.09 451.99M40.39 452.49L43.00 452.49M36.18 449.73L36.18 452.24M36.18 449.73L36.98 449.73M36.18 452.24L40.39 452.24M41.47 452.82L41.47 453.15M41.47 452.82L43.00 452.82M41.47 453.15L43.00 453.15M41.15 453.49L41.15 453.82M41.15 453.49L43.00 453.49M41.15 453.82L43.00 453.82M39.34 452.99L39.34 453.65M39.34 452.99L41.47 452.99M39.34 453.65L41.15 453.65M41.42 454.15L41.42 454.49M41.42 454.15L43.00 454.15M41.42 454.49L43.00 454.49M38.94 453.32L38.94 454.32M38.94 453.32L39.34 453.32M38.94 454.32L41.42 454.32M41.35 455.15L41.35 455.49M41.35 455.15L43.00 455.15M41.35 455.49L43.00 455.49M39.92 454.82L39.92 455.32M39.92 454.82L43.00 454.82M39.92 455.32L41.35 455.32M41.37 455.82L41.37 456.15M41.37 455.82L43.00 455.82M41.37 456.15L43.00 456.15M41.32 456.48L41.32 456.82M41.32 456.48L43.00 456.48M41.32 456.82L43.00 456.82M39.01 455.98L39.01 456.65M39.01 455.98L41.37 455.98M39.01 456.65L41.32 456.65M41.56 457.15L41.56 457.48M41.56 457.15L43.00 457.15M41.56 457.48L43.00 457.48M38.26 456.32L38.26 457.32M38.26 456.32L39.01 456.32M38.26 457.32L41.56 457.32M37.86 455.07L37.86 456.82M37.86 455.07L39.92 455.07M37.86 456.82L38.26 456.82M41.31 457.82L41.31 458.15M41.31 457.82L43.00 457.82M41.31 458.15L43.00 458.15M41.24 458.48L41.24 458.82M41.24 458.48L43.00 458.48M41.24 458.82L43.00 458.82M38.86 457.98L38.86 458.65M38.86 457.98L41.31 457.98M38.86 458.65L41.24 458.65M36.08 455.94L36.08 458.32M36.08 455.94L37.86 455.94M36.08 458.32L38.86 458.32M33.61 453.82L33.61 457.13M33.61 453.82L38.94 453.82M33.61 457.13L36.08 457.13M33.21 450.98L33.21 455.47M33.21 450.98L36.18 450.98M33.21 455.47L33.61 455.47M32.02 448.03L32.02 453.23M32.02 448.03L36.85 448.03M32.02 453.23L33.21 453.23M41.47 459.15L41.47 459.48M41.47 459.15L43.00 459.15M41.47 459.48L43.00 459.48M41.31 459.82L41.31 460.15M41.31 459.82L43.00 459.82M41.31 460.15L43.00 460.15M40.53 459.98L40.53 460.48M40.53 459.98L41.31 459.98M40.53 460.48L43.00 460.48M41.42 461.15L41.42 461.48M41.42 461.15L43.00 461.15M41.42 461.48L43.00 461.48M40.71 460.81L40.71 461.31M40.71 460.81L43.00 460.81M40.71 461.31L41.42 461.31M37.73 460.23L37.73 461.06M37.73 460.23L40.53 460.23M37.73 461.06L40.71 461.06M41.31 461.81L41.31 462.15M41.31 461.81L43.00 461.81M41.31 462.15L43.00 462.15M37.23 460.65L37.23 461.98M37.23 460.65L37.73 460.65M37.23 461.98L41.31 461.98M35.28 459.32L35.28 461.31M35.28 459.32L41.47 459.32M35.28 461.31L37.23 461.31M30.02 450.63L30.02 460.32M30.02 450.63L32.02 450.63M30.02 460.32L35.28 460.32M41.45 462.81L41.45 463.15M41.45 462.81L43.00 462.81M41.45 463.15L43.00 463.15M40.62 462.48L40.62 462.98M40.62 462.48L43.00 462.48M40.62 462.98L41.45 462.98M39.15 462.73L39.15 463.48M39.15 462.73L40.62 462.73M39.15 463.48L43.00 463.48M41.08 463.81L41.08 464.15M41.08 463.81L43.00 463.81M41.08 464.15L43.00 464.15M38.01 463.10L38.01 463.98M38.01 463.10L39.15 463.10M38.01 463.98L41.08 463.98M41.07 464.81L41.07 465.15M41.07 464.81L43.00 464.81M41.07 465.15L43.00 465.15M40.46 464.98L40.46 465.48M40.46 464.98L41.07 464.98M40.46 465.48L43.00 465.48M39.00 464.48L39.00 465.23M39.00 464.48L43.00 464.48M39.00 465.23L40.46 465.23M37.49 463.54L37.49 464.85M37.49 463.54L38.01 463.54M37.49 464.85L39.00 464.85M41.42 466.14L41.42 466.48M41.42 466.14L43.00 466.14M41.42 466.48L43.00 466.48M40.51 465.81L40.51 466.31M40.51 465.81L43.00 465.81M40.51 466.31L41.42 466.31M41.40 467.14L41.40 467.48M41.40 467.14L43.00 467.14M41.40 467.48L43.00 467.48M40.02 466.81L40.02 467.31M40.02 466.81L43.00 466.81M40.02 467.31L41.40 467.31M38.71 466.06L38.71 467.06M38.71 466.06L40.51 466.06M38.71 467.06L40.02 467.06M38.07 466.56L38.07 467.81M38.07 466.56L38.71 466.56M38.07 467.81L43.00 467.81M36.36 467.19L36.36 468.14M36.36 467.19L38.07 467.19M36.36 468.14L43.00 468.14M34.34 464.20L34.34 467.66M34.34 464.20L37.49 464.20M34.34 467.66L36.36 467.66M41.13 468.48L41.13 468.81M41.13 468.48L43.00 468.48M41.13 468.81L43.00 468.81M41.14 469.14L41.14 469.48M41.14 469.14L43.00 469.14M41.14 469.48L43.00 469.48M40.37 469.31L40.37 469.81M40.37 469.31L41.14 469.31M40.37 469.81L43.00 469.81M38.89 468.64L38.89 469.56M38.89 468.64L41.13 468.64M38.89 469.56L40.37 469.56M41.29 470.14L41.29 470.47M41.29 470.14L43.00 470.14M41.29 470.47L43.00 470.47M38.49 469.10L38.49 470.31M38.49 469.10L38.89 469.10M38.49 470.31L41.29 470.31M41.33 470.81L41.33 471.14M41.33 470.81L43.00 470.81M41.33 471.14L43.00 471.14M39.90 470.97L39.90 471.47M39.90 470.97L41.33 470.97M39.90 471.47L43.00 471.47M38.99 471.22L38.99 471.81M38.99 471.22L39.90 471.22M38.99 471.81L43.00 471.81M41.04 472.14L41.04 472.47M41.04 472.14L43.00 472.14M41.04 472.47L43.00 472.47M40.36 472.31L40.36 472.81M40.36 472.31L41.04 472.31M40.36 472.81L43.00 472.81M41.19 473.14L41.19 473.47M41.19 473.14L43.00 473.14M41.19 473.47L43.00 473.47M40.49 473.31L40.49 473.81M40.49 473.31L41.19 473.31M40.49 473.81L43.00 473.81M38.54 472.56L38.54 473.56M38.54 472.56L40.36 472.56M38.54 473.56L40.49 473.56M38.14 473.06L38.14 474.14M38.14 473.06L38.54 473.06M38.14 474.14L43.00 474.14M41.49 474.47L41.49 474.81M41.49 474.47L43.00 474.47M41.49 474.81L43.00 474.81M39.95 474.64L39.95 475.14M39.95 474.64L41.49 474.64M39.95 475.14L43.00 475.14M36.21 473.60L36.21 474.89M36.21 473.60L38.14 473.60M36.21 474.89L39.95 474.89M41.54 475.80L41.54 476.14M41.54 475.80L43.00 475.80M41.54 476.14L43.00 476.14M40.37 475.47L40.37 475.97M40.37 475.47L43.00 475.47M40.37 475.97L41.54 475.97M39.82 475.72L39.82 476.47M39.82 475.72L40.37 475.72M39.82 476.47L43.00 476.47M41.53 476.80L41.53 477.14M41.53 476.80L43.00 476.80M41.53 477.14L43.00 477.14M41.04 477.80L41.04 478.14M41.04 477.80L43.00 477.80M41.04 478.14L43.00 478.14M40.58 477.47L40.58 477.97M40.58 477.47L43.00 477.47M40.58 477.97L41.04 477.97M39.36 476.97L39.36 477.72M39.36 476.97L41.53 476.97M39.36 477.72L40.58 477.72M37.20 476.10L37.20 477.35M37.20 476.10L39.82 476.10M37.20 477.35L39.36 477.35M35.22 474.24L35.22 476.72M35.22 474.24L36.21 474.24M35.22 476.72L37.20 476.72M34.82 471.52L34.82 475.48M34.82 471.52L38.99 471.52M34.82 475.48L35.22 475.48M30.89 469.70L30.89 473.50M30.89 469.70L38.49 469.70M30.89 473.50L34.82 473.50M41.43 478.47L41.43 478.80M41.43 478.47L43.00 478.47M41.43 478.80L43.00 478.80M41.20 479.80L41.20 480.13M41.20 479.80L43.00 479.80M41.20 480.13L43.00 480.13M39.83 479.47L39.83 479.97M39.83 479.47L43.00 479.47M39.83 479.97L41.20 479.97M41.61 480.47L41.61 480.80M41.61 480.47L43.00 480.47M41.61 480.80L43.00 480.80M39.41 479.72L39.41 480.63M39.41 479.72L39.83 479.72M39.41 480.63L41.61 480.63M38.05 479.14L38.05 480.18M38.05 479.14L43.00 479.14M38.05 480.18L39.41 480.18M37.17 479.66L37.17 481.13M37.17 479.66L38.05 479.66M37.17 481.13L43.00 481.13M36.19 478.64L36.19 480.40M36.19 478.64L41.43 478.64M36.19 480.40L37.17 480.40M41.55 481.80L41.55 482.13M41.55 481.80L43.00 481.80M41.55 482.13L43.00 482.13M40.22 481.47L40.22 481.97M40.22 481.47L43.00 481.47M40.22 481.97L41.55 481.97M35.76 479.52L35.76 481.72M35.76 479.52L36.19 479.52M35.76 481.72L40.22 481.72M30.49 471.60L30.49 480.62M30.49 471.60L30.89 471.60M30.49 480.62L35.76 480.62M29.23 465.93L29.23 476.11M29.23 465.93L34.34 465.93M29.23 476.11L30.49 476.11M26.31 455.47L26.31 471.02M26.31 455.47L30.02 455.47M26.31 471.02L29.23 471.02M25.91 442.72L25.91 463.25M25.91 442.72L31.33 442.72M25.91 463.25L26.31 463.25M25.50 452.98L25.91 452.98M25.50 430.40L25.50 452.98M41.31 482.47L41.31 482.80M41.31 482.47L43.00 482.47M41.31 482.80L43.00 482.80M41.45 483.14L41.45 483.47M41.45 483.14L43.00 483.14M41.45 483.47L43.00 483.47M39.95 482.63L39.95 483.30M39.95 482.63L41.31 482.63M39.95 483.30L41.45 483.30M41.56 483.80L41.56 484.14M41.56 483.80L43.00 483.80M41.56 484.14L43.00 484.14M41.16 484.47L41.16 484.81M41.16 484.47L43.00 484.47M41.16 484.81L43.00 484.81M39.24 483.97L39.24 484.64M39.24 483.97L41.56 483.97M39.24 484.64L41.16 484.64M36.89 482.97L36.89 484.30M36.89 482.97L39.95 482.97M36.89 484.30L39.24 484.30M41.21 485.47L41.21 485.81M41.21 485.47L43.00 485.47M41.21 485.81L43.00 485.81M40.10 485.14L40.10 485.64M40.10 485.14L43.00 485.14M40.10 485.64L41.21 485.64M36.40 483.64L36.40 485.39M36.40 483.64L36.89 483.64M36.40 485.39L40.10 485.39M41.21 486.14L41.21 486.48M41.21 486.14L43.00 486.14M41.21 486.48L43.00 486.48M35.03 484.51L35.03 486.31M35.03 484.51L36.40 484.51M35.03 486.31L41.21 486.31M41.47 487.81L41.47 488.15M41.47 487.81L43.00 487.81M41.47 488.15L43.00 488.15M40.28 487.48L40.28 487.98M40.28 487.48L43.00 487.48M40.28 487.98L41.47 487.98M39.57 487.14L39.57 487.73M39.57 487.14L43.00 487.14M39.57 487.73L40.28 487.73M38.80 486.81L38.80 487.44M38.80 486.81L43.00 486.81M38.80 487.44L39.57 487.44M33.09 485.41L33.09 487.12M33.09 485.41L35.03 485.41M33.09 487.12L38.80 487.12M41.54 488.48L41.54 488.81M41.54 488.48L43.00 488.48M41.54 488.81L43.00 488.81M40.25 488.65L40.25 489.15M40.25 488.65L41.54 488.65M40.25 489.15L43.00 489.15M41.33 489.48L41.33 489.82M41.33 489.48L43.00 489.48M41.33 489.82L43.00 489.82M41.33 490.15L41.33 490.49M41.33 490.15L43.00 490.15M41.33 490.49L43.00 490.49M39.17 489.65L39.17 490.32M39.17 489.65L41.33 489.65M39.17 490.32L41.33 490.32M37.89 488.90L37.89 489.98M37.89 488.90L40.25 488.90M37.89 489.98L39.17 489.98M41.08 490.82L41.08 491.15M41.08 490.82L43.00 490.82M41.08 491.15L43.00 491.15M40.08 490.99L40.08 491.49M40.08 490.99L41.08 490.99M40.08 491.49L43.00 491.49M41.26 492.16L41.26 492.49M41.26 492.16L43.00 492.16M41.26 492.49L43.00 492.49M40.35 491.82L40.35 492.32M40.35 491.82L43.00 491.82M40.35 492.32L41.26 492.32M39.94 492.07L39.94 492.82M39.94 492.07L40.35 492.07M39.94 492.82L43.00 492.82M38.06 492.45L38.06 493.16M38.06 492.45L39.94 492.45M38.06 493.16L43.00 493.16M36.44 491.24L36.44 492.80M36.44 491.24L40.08 491.24M36.44 492.80L38.06 492.80M36.04 489.44L36.04 492.02M36.04 489.44L37.89 489.44M36.04 492.02L36.44 492.02M41.56 493.83L41.56 494.16M41.56 493.83L43.00 493.83M41.56 494.16L43.00 494.16M40.15 493.49L40.15 493.99M40.15 493.49L43.00 493.49M40.15 493.99L41.56 493.99M41.60 494.49L41.60 494.83M41.60 494.49L43.00 494.49M41.60 494.83L43.00 494.83M40.33 494.66L40.33 495.16M40.33 494.66L41.60 494.66M40.33 495.16L43.00 495.16M39.93 494.91L39.93 495.50M39.93 494.91L40.33 494.91M39.93 495.50L43.00 495.50M41.17 495.83L41.17 496.16M41.17 495.83L43.00 495.83M41.17 496.16L43.00 496.16M41.30 496.50L41.30 496.83M41.30 496.50L43.00 496.50M41.30 496.83L43.00 496.83M39.20 496.00L39.20 496.67M39.20 496.00L41.17 496.00M39.20 496.67L41.30 496.67M38.21 495.20L38.21 496.33M38.21 495.20L39.93 495.20M38.21 496.33L39.20 496.33M37.07 493.74L37.07 495.77M37.07 493.74L40.15 493.74M37.07 495.77L38.21 495.77M33.88 490.73L33.88 494.76M33.88 490.73L36.04 490.73M33.88 494.76L37.07 494.76M32.69 486.27L32.69 492.74M32.69 486.27L33.09 486.27M32.69 492.74L33.88 492.74M22.40 489.51L32.69 489.51M41.32 497.17L41.32 497.50M41.32 497.17L43.00 497.17M41.32 497.50L43.00 497.50M41.39 497.83L41.39 498.17M41.39 497.83L43.00 497.83M41.39 498.17L43.00 498.17M41.13 498.50L41.13 498.83M41.13 498.50L43.00 498.50M41.13 498.83L43.00 498.83M39.17 498.00L39.17 498.67M39.17 498.00L41.39 498.00M39.17 498.67L41.13 498.67M38.77 497.33L38.77 498.33M38.77 497.33L41.32 497.33M38.77 498.33L39.17 498.33M41.25 499.17L41.25 499.50M41.25 499.17L43.00 499.17M41.25 499.50L43.00 499.50M40.27 499.33L40.27 499.83M40.27 499.33L41.25 499.33M40.27 499.83L43.00 499.83M41.34 500.17L41.34 500.50M41.34 500.17L43.00 500.17M41.34 500.50L43.00 500.50M41.38 500.83L41.38 501.17M41.38 500.83L43.00 500.83M41.38 501.17L43.00 501.17M40.38 501.00L40.38 501.50M40.38 501.00L41.38 501.00M40.38 501.50L43.00 501.50M39.98 501.25L39.98 501.83M39.98 501.25L40.38 501.25M39.98 501.83L43.00 501.83M38.05 500.33L38.05 501.54M38.05 500.33L41.34 500.33M38.05 501.54L39.98 501.54M37.65 499.58L37.65 500.94M37.65 499.58L40.27 499.58M37.65 500.94L38.05 500.94M34.11 497.83L34.11 500.26M34.11 497.83L38.77 497.83M34.11 500.26L37.65 500.26M41.51 502.17L41.51 502.50M41.51 502.17L43.00 502.17M41.51 502.50L43.00 502.50M41.22 502.83L41.22 503.17M41.22 502.83L43.00 502.83M41.22 503.17L43.00 503.17M39.96 502.33L39.96 503.00M39.96 502.33L41.51 502.33M39.96 503.00L41.22 503.00M41.17 504.17L41.17 504.50M41.17 504.17L43.00 504.17M41.17 504.50L43.00 504.50M40.37 503.83L40.37 504.33M40.37 503.83L43.00 503.83M40.37 504.33L41.17 504.33M39.36 503.50L39.36 504.08M39.36 503.50L43.00 503.50M39.36 504.08L40.37 504.08M37.62 502.67L37.62 503.79M37.62 502.67L39.96 502.67M37.62 503.79L39.36 503.79M41.34 504.83L41.34 505.17M41.34 504.83L43.00 504.83M41.34 505.17L43.00 505.17M41.21 505.50L41.21 505.83M41.21 505.50L43.00 505.50M41.21 505.83L43.00 505.83M39.99 505.00L39.99 505.67M39.99 505.00L41.34 505.00M39.99 505.67L41.21 505.67M38.45 505.33L38.45 506.17M38.45 505.33L39.99 505.33M38.45 506.17L43.00 506.17M35.29 503.23L35.29 505.75M35.29 503.23L37.62 503.23M35.29 505.75L38.45 505.75M41.21 506.50L41.21 506.83M41.21 506.50L43.00 506.50M41.21 506.83L43.00 506.83M41.21 507.17L41.21 507.50M41.21 507.17L43.00 507.17M41.21 507.50L43.00 507.50M38.94 506.67L38.94 507.33M38.94 506.67L41.21 506.67M38.94 507.33L41.21 507.33M38.54 507.00L38.54 507.83M38.54 507.00L38.94 507.00M38.54 507.83L43.00 507.83M41.02 508.17L41.02 508.50M41.02 508.17L43.00 508.17M41.02 508.50L43.00 508.50M37.26 507.42L37.26 508.33M37.26 507.42L38.54 507.42M37.26 508.33L41.02 508.33M34.89 504.49L34.89 507.88M34.89 504.49L35.29 504.49M34.89 507.88L37.26 507.88M41.31 509.50L41.31 509.83M41.31 509.50L43.00 509.50M41.31 509.83L43.00 509.83M39.76 509.17L39.76 509.67M39.76 509.17L43.00 509.17M39.76 509.67L41.31 509.67M38.99 508.83L38.99 509.42M38.99 508.83L43.00 508.83M38.99 509.42L39.76 509.42M34.12 506.18L34.12 509.12M34.12 506.18L34.89 506.18M34.12 509.12L38.99 509.12M41.21 510.50L41.21 510.83M41.21 510.50L43.00 510.50M41.21 510.83L43.00 510.83M40.15 510.17L40.15 510.67M40.15 510.17L43.00 510.17M40.15 510.67L41.21 510.67M39.75 510.42L39.75 511.17M39.75 510.42L40.15 510.42M39.75 511.17L43.00 511.17M33.72 507.65L33.72 510.79M33.72 507.65L34.12 507.65M33.72 510.79L39.75 510.79M41.57 511.50L41.57 511.83M41.57 511.50L43.00 511.50M41.57 511.83L43.00 511.83M41.07 512.17L41.07 512.50M41.07 512.17L43.00 512.17M41.07 512.50L43.00 512.50M40.52 512.33L40.52 512.83M40.52 512.33L41.07 512.33M40.52 512.83L43.00 512.83M39.82 512.58L39.82 513.17M39.82 512.58L40.52 512.58M39.82 513.17L43.00 513.17M41.29 513.50L41.29 513.83M41.29 513.50L43.00 513.50M41.29 513.83L43.00 513.83M40.32 513.67L40.32 514.17M40.32 513.67L41.29 513.67M40.32 514.17L43.00 514.17M37.90 512.87L37.90 513.92M37.90 512.87L39.82 512.87M37.90 513.92L40.32 513.92M36.01 511.67L36.01 513.40M36.01 511.67L41.57 511.67M36.01 513.40L37.90 513.40M41.16 514.83L41.16 515.17M41.16 514.83L43.00 514.83M41.16 515.17L43.00 515.17M40.18 514.50L40.18 515.00M40.18 514.50L43.00 514.50M40.18 515.00L41.16 515.00M39.02 514.75L39.02 515.50M39.02 514.75L40.18 514.75M39.02 515.50L43.00 515.50M34.29 512.53L34.29 515.12M34.29 512.53L36.01 512.53M34.29 515.12L39.02 515.12M31.72 509.22L31.72 513.83M31.72 509.22L33.72 509.22M31.72 513.83L34.29 513.83M41.27 516.17L41.27 516.50M41.27 516.17L43.00 516.17M41.27 516.50L43.00 516.50M40.61 516.33L40.61 516.83M40.61 516.33L41.27 516.33M40.61 516.83L43.00 516.83M39.65 516.58L39.65 517.17M39.65 516.58L40.61 516.58M39.65 517.17L43.00 517.17M38.53 515.83L38.53 516.88M38.53 515.83L43.00 515.83M38.53 516.88L39.65 516.88M41.47 517.50L41.47 517.83M41.47 517.50L43.00 517.50M41.47 517.83L43.00 517.83M41.07 518.17L41.07 518.50M41.07 518.17L43.00 518.17M41.07 518.50L43.00 518.50M39.36 517.67L39.36 518.33M39.36 517.67L41.47 517.67M39.36 518.33L41.07 518.33M41.03 518.83L41.03 519.17M41.03 518.83L43.00 518.83M41.03 519.17L43.00 519.17M41.14 519.50L41.14 519.83M41.14 519.50L43.00 519.50M41.14 519.83L43.00 519.83M41.14 520.17L41.14 520.50M41.14 520.17L43.00 520.17M41.14 520.50L43.00 520.50M40.05 520.33L40.05 520.83M40.05 520.33L41.14 520.33M40.05 520.83L43.00 520.83M38.59 519.67L38.59 520.58M38.59 519.67L41.14 519.67M38.59 520.58L40.05 520.58M41.04 521.50L41.04 521.83M41.04 521.50L43.00 521.50M41.04 521.83L43.00 521.83M40.63 521.17L40.63 521.67M40.63 521.17L43.00 521.17M40.63 521.67L41.04 521.67M36.98 520.12L36.98 521.42M36.98 520.12L38.59 520.12M36.98 521.42L40.63 521.42M36.54 519.00L36.54 520.77M36.54 519.00L41.03 519.00M36.54 520.77L36.98 520.77M35.81 518.00L35.81 519.89M35.81 518.00L39.36 518.00M35.81 519.89L36.54 519.89M34.89 516.35L34.89 518.94M34.89 516.35L38.53 516.35M34.89 518.94L35.81 518.94M41.42 522.50L41.42 522.83M41.42 522.50L43.00 522.50M41.42 522.83L43.00 522.83M40.51 522.17L40.51 522.67M40.51 522.17L43.00 522.17M40.51 522.67L41.42 522.67M38.98 522.42L38.98 523.17M38.98 522.42L40.51 522.42M38.98 523.17L43.00 523.17M41.61 523.50L41.61 523.83M41.61 523.50L43.00 523.50M41.61 523.83L43.00 523.83M37.81 522.79L37.81 523.67M37.81 522.79L38.98 522.79M37.81 523.67L41.61 523.67M33.90 517.65L33.90 523.23M33.90 517.65L34.89 517.65M33.90 523.23L37.81 523.23M27.85 511.53L27.85 520.44M27.85 511.53L31.72 511.53M27.85 520.44L33.90 520.44M27.21 499.05L27.21 515.98M27.21 499.05L34.11 499.05M27.21 515.98L27.85 515.98M22.40 507.51L27.21 507.51M22.40 489.51L22.40 507.51M41.12 524.17L41.12 524.50M41.12 524.17L43.00 524.17M41.12 524.50L43.00 524.50M41.50 524.83L41.50 525.17M41.50 524.83L43.00 524.83M41.50 525.17L43.00 525.17M40.41 525.00L40.41 525.50M40.41 525.00L41.50 525.00M40.41 525.50L43.00 525.50M41.56 525.83L41.56 526.17M41.56 525.83L43.00 525.83M41.56 526.17L43.00 526.17M38.45 525.25L38.45 526.00M38.45 525.25L40.41 525.25M38.45 526.00L41.56 526.00M37.09 524.33L37.09 525.62M37.09 524.33L41.12 524.33M37.09 525.62L38.45 525.62M41.60 526.50L41.60 526.83M41.60 526.50L43.00 526.50M41.60 526.83L43.00 526.83M41.38 527.17L41.38 527.50M41.38 527.17L43.00 527.17M41.38 527.50L43.00 527.50M39.78 527.33L39.78 527.83M39.78 527.33L41.38 527.33M39.78 527.83L43.00 527.83M41.23 528.50L41.23 528.83M41.23 528.50L43.00 528.50M41.23 528.83L43.00 528.83M40.02 528.17L40.02 528.67M40.02 528.17L43.00 528.17M40.02 528.67L41.23 528.67M38.43 527.58L38.43 528.42M38.43 527.58L39.78 527.58M38.43 528.42L40.02 528.42M37.61 526.67L37.61 528.00M37.61 526.67L41.60 526.67M37.61 528.00L38.43 528.00M41.10 529.17L41.10 529.50M41.10 529.17L43.00 529.17M41.10 529.50L43.00 529.50M41.17 530.50L41.17 530.83M41.17 530.50L43.00 530.50M41.17 530.83L43.00 530.83M40.41 530.17L40.41 530.67M40.41 530.17L43.00 530.17M40.41 530.67L41.17 530.67M40.01 529.83L40.01 530.42M40.01 529.83L43.00 529.83M40.01 530.42L40.41 530.42M41.11 531.17L41.11 531.50M41.11 531.17L43.00 531.17M41.11 531.50L43.00 531.50M38.64 530.12L38.64 531.33M38.64 530.12L40.01 530.12M38.64 531.33L41.11 531.33M37.25 530.73L37.25 531.83M37.25 530.73L38.64 530.73M37.25 531.83L43.00 531.83M36.85 529.33L36.85 531.28M36.85 529.33L41.10 529.33M36.85 531.28L37.25 531.28M41.58 532.17L41.58 532.50M41.58 532.17L43.00 532.17M41.58 532.50L43.00 532.50M36.45 530.31L36.45 532.33M36.45 530.31L36.85 530.31M36.45 532.33L41.58 532.33M35.27 527.33L35.27 531.32M35.27 527.33L37.61 527.33M35.27 531.32L36.45 531.32M41.45 532.83L41.45 533.17M41.45 532.83L43.00 532.83M41.45 533.17L43.00 533.17M40.55 533.00L40.55 533.50M40.55 533.00L41.45 533.00M40.55 533.50L43.00 533.50M39.65 533.25L39.65 533.83M39.65 533.25L40.55 533.25M39.65 533.83L43.00 533.83M34.66 529.33L34.66 533.54M34.66 529.33L35.27 529.33M34.66 533.54L39.65 533.54M34.13 524.98L34.13 531.43M34.13 524.98L37.09 524.98M34.13 531.43L34.66 531.43M23.00 528.21L34.13 528.21M41.15 534.17L41.15 534.50M41.15 534.17L43.00 534.17M41.15 534.50L43.00 534.50M39.84 534.33L39.84 534.83M39.84 534.33L41.15 534.33M39.84 534.83L43.00 534.83M41.40 535.17L41.40 535.50M41.40 535.17L43.00 535.17M41.40 535.50L43.00 535.50M40.45 535.34L40.45 535.84M40.45 535.34L41.40 535.34M40.45 535.84L43.00 535.84M39.24 535.59L39.24 536.17M39.24 535.59L40.45 535.59M39.24 536.17L43.00 536.17M36.70 534.58L36.70 535.88M36.70 534.58L39.84 534.58M36.70 535.88L39.24 535.88M41.58 536.50L41.58 536.84M41.58 536.50L43.00 536.50M41.58 536.84L43.00 536.84M41.47 537.17L41.47 537.50M41.47 537.17L43.00 537.17M41.47 537.50L43.00 537.50M39.31 536.67L39.31 537.34M39.31 536.67L41.58 536.67M39.31 537.34L41.47 537.34M41.24 537.84L41.24 538.17M41.24 537.84L43.00 537.84M41.24 538.17L43.00 538.17M38.73 537.00L38.73 538.01M38.73 537.00L39.31 537.00M38.73 538.01L41.24 538.01M41.57 538.51L41.57 538.84M41.57 538.51L43.00 538.51M41.57 538.84L43.00 538.84M38.02 537.50L38.02 538.67M38.02 537.50L38.73 537.50M38.02 538.67L41.57 538.67M41.57 539.17L41.57 539.51M41.57 539.17L43.00 539.17M41.57 539.51L43.00 539.51M41.25 539.84L41.25 540.18M41.25 539.84L43.00 539.84M41.25 540.18L43.00 540.18M40.08 540.01L40.08 540.51M40.08 540.01L41.25 540.01M40.08 540.51L43.00 540.51M39.18 539.34L39.18 540.26M39.18 539.34L41.57 539.34M39.18 540.26L40.08 540.26M36.17 538.09L36.17 539.80M36.17 538.09L38.02 538.09M36.17 539.80L39.18 539.80M33.19 535.23L33.19 538.94M33.19 535.23L36.70 535.23M33.19 538.94L36.17 538.94M41.12 540.84L41.12 541.18M41.12 540.84L43.00 540.84M41.12 541.18L43.00 541.18M41.10 541.84L41.10 542.18M41.10 541.84L43.00 541.84M41.10 542.18L43.00 542.18M40.70 541.51L40.70 542.01M40.70 541.51L43.00 541.51M40.70 542.01L41.10 542.01M38.40 541.01L38.40 541.76M38.40 541.01L41.12 541.01M38.40 541.76L40.70 541.76M41.11 542.85L41.11 543.18M41.11 542.85L43.00 542.85M41.11 543.18L43.00 543.18M39.93 542.51L39.93 543.01M39.93 542.51L43.00 542.51M39.93 543.01L41.11 543.01M41.37 543.51L41.37 543.85M41.37 543.51L43.00 543.51M41.37 543.85L43.00 543.85M40.14 543.68L40.14 544.18M40.14 543.68L41.37 543.68M40.14 544.18L43.00 544.18M38.37 542.76L38.37 543.93M38.37 542.76L39.93 542.76M38.37 543.93L40.14 543.93M35.97 541.39L35.97 543.35M35.97 541.39L38.40 541.39M35.97 543.35L38.37 543.35M41.29 545.18L41.29 545.52M41.29 545.18L43.00 545.18M41.29 545.52L43.00 545.52M40.70 544.85L40.70 545.35M40.70 544.85L43.00 544.85M40.70 545.35L41.29 545.35M41.28 545.85L41.28 546.18M41.28 545.85L43.00 545.85M41.28 546.18L43.00 546.18M41.20 546.52L41.20 546.85M41.20 546.52L43.00 546.52M41.20 546.85L43.00 546.85M38.81 546.02L38.81 546.68M38.81 546.02L41.28 546.02M38.81 546.68L41.20 546.68M38.16 545.10L38.16 546.35M38.16 545.10L40.70 545.10M38.16 546.35L38.81 546.35M37.20 544.51L37.20 545.72M37.20 544.51L43.00 544.51M37.20 545.72L38.16 545.72M41.20 547.19L41.20 547.52M41.20 547.19L43.00 547.19M41.20 547.52L43.00 547.52M40.62 547.35L40.62 547.85M40.62 547.35L41.20 547.35M40.62 547.85L43.00 547.85M39.48 547.60L39.48 548.19M39.48 547.60L40.62 547.60M39.48 548.19L43.00 548.19M39.08 547.89L39.08 548.52M39.08 547.89L39.48 547.89M39.08 548.52L43.00 548.52M35.45 545.12L35.45 548.21M35.45 545.12L37.20 545.12M35.45 548.21L39.08 548.21M32.81 542.37L32.81 546.66M32.81 542.37L35.97 542.37M32.81 546.66L35.45 546.66M31.58 537.09L31.58 544.51M31.58 537.09L33.19 537.09M31.58 544.51L32.81 544.51M41.45 548.85L41.45 549.19M41.45 548.85L43.00 548.85M41.45 549.19L43.00 549.19M41.12 549.52L41.12 549.86M41.12 549.52L43.00 549.52M41.12 549.86L43.00 549.86M38.80 549.02L38.80 549.69M38.80 549.02L41.45 549.02M38.80 549.69L41.12 549.69M38.20 549.35L38.20 550.19M38.20 549.35L38.80 549.35M38.20 550.19L43.00 550.19M41.02 550.52L41.02 550.86M41.02 550.52L43.00 550.52M41.02 550.86L43.00 550.86M41.16 551.19L41.16 551.52M41.16 551.19L43.00 551.19M41.16 551.52L43.00 551.52M39.73 551.36L39.73 551.86M39.73 551.36L41.16 551.36M39.73 551.86L43.00 551.86M39.27 550.69L39.27 551.61M39.27 550.69L41.02 550.69M39.27 551.61L39.73 551.61M41.60 552.19L41.60 552.53M41.60 552.19L43.00 552.19M41.60 552.53L43.00 552.53M38.43 551.15L38.43 552.36M38.43 551.15L39.27 551.15M38.43 552.36L41.60 552.36M36.51 549.77L36.51 551.75M36.51 549.77L38.20 549.77M36.51 551.75L38.43 551.75M41.20 552.86L41.20 553.19M41.20 552.86L43.00 552.86M41.20 553.19L43.00 553.19M41.13 553.53L41.13 553.86M41.13 553.53L43.00 553.53M41.13 553.86L43.00 553.86M40.08 553.69L40.08 554.20M40.08 553.69L41.13 553.69M40.08 554.20L43.00 554.20M39.68 553.94L39.68 554.53M39.68 553.94L40.08 553.94M39.68 554.53L43.00 554.53M37.97 553.03L37.97 554.24M37.97 553.03L41.20 553.03M37.97 554.24L39.68 554.24M35.84 550.76L35.84 553.63M35.84 550.76L36.51 550.76M35.84 553.63L37.97 553.63M41.58 554.86L41.58 555.20M41.58 554.86L43.00 554.86M41.58 555.20L43.00 555.20M41.34 555.86L41.34 556.20M41.34 555.86L43.00 555.86M41.34 556.20L43.00 556.20M40.28 555.53L40.28 556.03M40.28 555.53L43.00 555.53M40.28 556.03L41.34 556.03M39.17 555.03L39.17 555.78M39.17 555.03L41.58 555.03M39.17 555.78L40.28 555.78M41.12 556.53L41.12 556.87M41.12 556.53L43.00 556.53M41.12 556.87L43.00 556.87M36.66 555.41L36.66 556.70M36.66 555.41L39.17 555.41M36.66 556.70L41.12 556.70M41.43 557.53L41.43 557.87M41.43 557.53L43.00 557.53M41.43 557.87L43.00 557.87M40.45 557.20L40.45 557.70M40.45 557.20L43.00 557.20M40.45 557.70L41.43 557.70M41.50 558.20L41.50 558.53M41.50 558.20L43.00 558.20M41.50 558.53L43.00 558.53M40.09 558.37L40.09 558.87M40.09 558.37L41.50 558.37M40.09 558.87L43.00 558.87M38.21 557.45L38.21 558.62M38.21 557.45L40.45 557.45M38.21 558.62L40.09 558.62M41.09 559.20L41.09 559.54M41.09 559.20L43.00 559.20M41.09 559.54L43.00 559.54M40.69 559.37L40.69 559.87M40.69 559.37L41.09 559.37M40.69 559.87L43.00 559.87M39.17 559.62L39.17 560.20M39.17 559.62L40.69 559.62M39.17 560.20L43.00 560.20M35.73 558.03L35.73 559.91M35.73 558.03L38.21 558.03M35.73 559.91L39.17 559.91M35.33 556.05L35.33 558.97M35.33 556.05L36.66 556.05M35.33 558.97L35.73 558.97M30.65 552.20L30.65 557.51M30.65 552.20L35.84 552.20M30.65 557.51L35.33 557.51M29.11 540.80L29.11 554.85M29.11 540.80L31.58 540.80M29.11 554.85L30.65 554.85M41.59 560.54L41.59 560.87M41.59 560.54L43.00 560.54M41.59 560.87L43.00 560.87M41.21 561.20L41.21 561.54M41.21 561.20L43.00 561.20M41.21 561.54L43.00 561.54M39.03 560.70L39.03 561.37M39.03 560.70L41.59 560.70M39.03 561.37L41.21 561.37M41.35 562.21L41.35 562.54M41.35 562.21L43.00 562.21M41.35 562.54L43.00 562.54M39.76 561.87L39.76 562.37M39.76 561.87L43.00 561.87M39.76 562.37L41.35 562.37M38.76 562.12L38.76 562.87M38.76 562.12L39.76 562.12M38.76 562.87L43.00 562.87M37.03 561.04L37.03 562.50M37.03 561.04L39.03 561.04M37.03 562.50L38.76 562.50M41.49 563.21L41.49 563.54M41.49 563.21L43.00 563.21M41.49 563.54L43.00 563.54M40.21 563.37L40.21 563.88M40.21 563.37L41.49 563.37M40.21 563.88L43.00 563.88M35.46 561.77L35.46 563.62M35.46 561.77L37.03 561.77M35.46 563.62L40.21 563.62M41.06 564.21L41.06 564.54M41.06 564.21L43.00 564.21M41.06 564.54L43.00 564.54M41.33 564.88L41.33 565.21M41.33 564.88L43.00 564.88M41.33 565.21L43.00 565.21M39.35 564.38L39.35 565.04M39.35 564.38L41.06 564.38M39.35 565.04L41.33 565.04M34.73 562.70L34.73 564.71M34.73 562.70L35.46 562.70M34.73 564.71L39.35 564.71M41.17 565.54L41.17 565.88M41.17 565.54L43.00 565.54M41.17 565.88L43.00 565.88M40.60 565.71L40.60 566.21M40.60 565.71L41.17 565.71M40.60 566.21L43.00 566.21M41.15 566.55L41.15 566.88M41.15 566.55L43.00 566.55M41.15 566.88L43.00 566.88M38.61 565.96L38.61 566.71M38.61 565.96L40.60 565.96M38.61 566.71L41.15 566.71M41.06 567.21L41.06 567.55M41.06 567.21L43.00 567.21M41.06 567.55L43.00 567.55M40.03 567.38L40.03 567.88M40.03 567.38L41.06 567.38M40.03 567.88L43.00 567.88M37.82 566.34L37.82 567.63M37.82 566.34L38.61 566.34M37.82 567.63L40.03 567.63M33.28 563.70L33.28 566.98M33.28 563.70L34.73 563.70M33.28 566.98L37.82 566.98M41.18 568.21L41.18 568.55M41.18 568.21L43.00 568.21M41.18 568.55L43.00 568.55M39.83 568.38L39.83 568.88M39.83 568.38L41.18 568.38M39.83 568.88L43.00 568.88M38.82 568.63L38.82 569.22M38.82 568.63L39.83 568.63M38.82 569.22L43.00 569.22M41.15 569.55L41.15 569.88M41.15 569.55L43.00 569.55M41.15 569.88L43.00 569.88M40.66 569.72L40.66 570.22M40.66 569.72L41.15 569.72M40.66 570.22L43.00 570.22M37.90 568.92L37.90 569.97M37.90 568.92L38.82 568.92M37.90 569.97L40.66 569.97M41.54 570.55L41.54 570.89M41.54 570.55L43.00 570.55M41.54 570.89L43.00 570.89M41.46 571.22L41.46 571.55M41.46 571.22L43.00 571.22M41.46 571.55L43.00 571.55M40.35 571.39L40.35 571.89M40.35 571.39L41.46 571.39M40.35 571.89L43.00 571.89M41.12 572.22L41.12 572.55M41.12 572.22L43.00 572.22M41.12 572.55L43.00 572.55M39.34 571.64L39.34 572.39M39.34 571.64L40.35 571.64M39.34 572.39L41.12 572.39M37.09 570.72L37.09 572.01M37.09 570.72L41.54 570.72M37.09 572.01L39.34 572.01M35.58 569.45L35.58 571.37M35.58 569.45L37.90 569.45M35.58 571.37L37.09 571.37M32.88 565.34L32.88 570.41M32.88 565.34L33.28 565.34M32.88 570.41L35.58 570.41M28.71 547.83L28.71 567.87M28.71 547.83L29.11 547.83M28.71 567.87L32.88 567.87M41.56 572.89L41.56 573.22M41.56 572.89L43.00 572.89M41.56 573.22L43.00 573.22M41.07 573.56L41.07 573.89M41.07 573.56L43.00 573.56M41.07 573.89L43.00 573.89M40.60 573.72L40.60 574.22M40.60 573.72L41.07 573.72M40.60 574.22L43.00 574.22M39.08 573.05L39.08 573.97M39.08 573.05L41.56 573.05M39.08 573.97L40.60 573.97M41.22 574.56L41.22 574.89M41.22 574.56L43.00 574.56M41.22 574.89L43.00 574.89M41.53 575.22L41.53 575.56M41.53 575.22L43.00 575.22M41.53 575.56L43.00 575.56M41.32 575.89L41.32 576.23M41.32 575.89L43.00 575.89M41.32 576.23L43.00 576.23M39.62 575.39L39.62 576.06M39.62 575.39L41.53 575.39M39.62 576.06L41.32 576.06M37.43 574.72L37.43 575.73M37.43 574.72L41.22 574.72M37.43 575.73L39.62 575.73M41.55 576.56L41.55 576.89M41.55 576.56L43.00 576.56M41.55 576.89L43.00 576.89M40.53 576.73L40.53 577.23M40.53 576.73L41.55 576.73M40.53 577.23L43.00 577.23M41.04 577.56L41.04 577.90M41.04 577.56L43.00 577.56M41.04 577.90L43.00 577.90M41.47 578.56L41.47 578.90M41.47 578.56L43.00 578.56M41.47 578.90L43.00 578.90M40.01 578.23L40.01 578.73M40.01 578.23L43.00 578.23M40.01 578.73L41.47 578.73M41.12 579.23L41.12 579.56M41.12 579.23L43.00 579.23M41.12 579.56L43.00 579.56M39.86 579.40L39.86 579.90M39.86 579.40L41.12 579.40M39.86 579.90L43.00 579.90M41.36 580.57L41.36 580.90M41.36 580.57L43.00 580.57M41.36 580.90L43.00 580.90M40.19 580.23L40.19 580.73M40.19 580.23L43.00 580.23M40.19 580.73L41.36 580.73M39.79 580.48L39.79 581.23M39.79 580.48L40.19 580.48M39.79 581.23L43.00 581.23M38.06 579.65L38.06 580.86M38.06 579.65L39.86 579.65M38.06 580.86L39.79 580.86M37.36 578.48L37.36 580.25M37.36 578.48L40.01 578.48M37.36 580.25L38.06 580.25M36.65 577.73L36.65 579.37M36.65 577.73L41.04 577.73M36.65 579.37L37.36 579.37M36.25 576.98L36.25 578.55M36.25 576.98L40.53 576.98M36.25 578.55L36.65 578.55M33.62 575.22L33.62 577.76M33.62 575.22L37.43 575.22M33.62 577.76L36.25 577.76M33.22 573.51L33.22 576.49M33.22 573.51L39.08 573.51M33.22 576.49L33.62 576.49M27.20 557.85L27.20 575.00M27.20 557.85L28.71 557.85M27.20 575.00L33.22 575.00M23.00 566.43L27.20 566.43M23.00 528.21L23.00 566.43M41.12 581.56L41.12 581.89M41.12 581.56L43.00 581.56M41.12 581.89L43.00 581.89M41.10 582.55L41.10 582.88M41.10 582.55L43.00 582.55M41.10 582.88L43.00 582.88M41.35 583.21L41.35 583.54M41.35 583.21L43.00 583.21M41.35 583.54L43.00 583.54M39.35 582.71L39.35 583.37M39.35 582.71L41.10 582.71M39.35 583.37L41.35 583.37M38.94 582.22L38.94 583.04M38.94 582.22L43.00 582.22M38.94 583.04L39.35 583.04M37.81 581.73L37.81 582.63M37.81 581.73L41.12 581.73M37.81 582.63L38.94 582.63M41.21 584.19L41.21 584.52M41.21 584.19L43.00 584.19M41.21 584.52L43.00 584.52M39.97 584.36L39.97 584.85M39.97 584.36L41.21 584.36M39.97 584.85L43.00 584.85M38.80 583.86L38.80 584.60M38.80 583.86L43.00 583.86M38.80 584.60L39.97 584.60M41.04 585.51L41.04 585.84M41.04 585.51L43.00 585.51M41.04 585.84L43.00 585.84M40.23 585.18L40.23 585.67M40.23 585.18L43.00 585.18M40.23 585.67L41.04 585.67M37.30 584.23L37.30 585.42M37.30 584.23L38.80 584.23M37.30 585.42L40.23 585.42M36.48 582.18L36.48 584.83M36.48 582.18L37.81 582.18M36.48 584.83L37.30 584.83M23.50 583.50L36.48 583.50M41.21 586.50L41.21 586.83M41.21 586.50L43.00 586.50M41.21 586.83L43.00 586.83M40.54 586.67L40.54 587.17M40.54 586.67L41.21 586.67M40.54 587.17L43.00 587.17M39.47 586.17L39.47 586.92M39.47 586.17L43.00 586.17M39.47 586.92L40.54 586.92M38.80 586.54L38.80 587.50M38.80 586.54L39.47 586.54M38.80 587.50L43.00 587.50M41.55 588.17L41.55 588.50M41.55 588.17L43.00 588.17M41.55 588.50L43.00 588.50M41.29 588.83L41.29 589.17M41.29 588.83L43.00 588.83M41.29 589.17L43.00 589.17M39.20 588.33L39.20 589.00M39.20 588.33L41.55 588.33M39.20 589.00L41.29 589.00M38.80 587.83L38.80 588.67M38.80 587.83L43.00 587.83M38.80 588.67L39.20 588.67M41.30 589.83L41.30 590.17M41.30 589.83L43.00 589.83M41.30 590.17L43.00 590.17M40.06 589.50L40.06 590.00M40.06 589.50L43.00 589.50M40.06 590.00L41.30 590.00M39.43 589.75L39.43 590.50M39.43 589.75L40.06 589.75M39.43 590.50L43.00 590.50M39.03 590.12L39.03 590.83M39.03 590.12L39.43 590.12M39.03 590.83L43.00 590.83M37.99 590.48L37.99 591.17M37.99 590.48L39.03 590.48M37.99 591.17L43.00 591.17M41.41 591.83L41.41 592.17M41.41 591.83L43.00 591.83M41.41 592.17L43.00 592.17M39.79 592.00L39.79 592.50M39.79 592.00L41.41 592.00M39.79 592.50L43.00 592.50M38.77 591.50L38.77 592.25M38.77 591.50L43.00 591.50M38.77 592.25L39.79 592.25M41.24 592.83L41.24 593.17M41.24 592.83L43.00 592.83M41.24 593.17L43.00 593.17M38.37 591.88L38.37 593.00M38.37 591.88L38.77 591.88M38.37 593.00L41.24 593.00M36.25 590.82L36.25 592.44M36.25 590.82L37.99 590.82M36.25 592.44L38.37 592.44M34.79 588.25L34.79 591.63M34.79 588.25L38.80 588.25M34.79 591.63L36.25 591.63M32.75 587.02L32.75 589.94M32.75 587.02L38.80 587.02M32.75 589.94L34.79 589.94M41.41 593.50L41.41 593.83M41.41 593.50L43.00 593.50M41.41 593.83L43.00 593.83M41.61 594.17L41.61 594.50M41.61 594.17L43.00 594.17M41.61 594.50L43.00 594.50M39.68 593.67L39.68 594.33M39.68 593.67L41.41 593.67M39.68 594.33L41.61 594.33M41.59 594.83L41.59 595.17M41.59 594.83L43.00 594.83M41.59 595.17L43.00 595.17M40.50 595.00L40.50 595.50M40.50 595.00L41.59 595.00M40.50 595.50L43.00 595.50M41.14 595.83L41.14 596.17M41.14 595.83L43.00 595.83M41.14 596.17L43.00 596.17M38.46 595.25L38.46 596.00M38.46 595.25L40.50 595.25M38.46 596.00L41.14 596.00M36.41 594.00L36.41 595.62M36.41 594.00L39.68 594.00M36.41 595.62L38.46 595.62M41.28 597.17L41.28 597.50M41.28 597.17L43.00 597.17M41.28 597.50L43.00 597.50M39.71 596.83L39.71 597.33M39.71 596.83L43.00 596.83M39.71 597.33L41.28 597.33M38.82 596.50L38.82 597.08M38.82 596.50L43.00 596.50M38.82 597.08L39.71 597.08M41.49 597.83L41.49 598.17M41.49 597.83L43.00 597.83M41.49 598.17L43.00 598.17M38.29 596.79L38.29 598.00M38.29 596.79L38.82 596.79M38.29 598.00L41.49 598.00M41.54 598.50L41.54 598.83M41.54 598.50L43.00 598.50M41.54 598.83L43.00 598.83M41.53 599.17L41.53 599.50M41.53 599.17L43.00 599.17M41.53 599.50L43.00 599.50M40.28 599.33L40.28 599.83M40.28 599.33L41.53 599.33M40.28 599.83L43.00 599.83M39.25 598.67L39.25 599.58M39.25 598.67L41.54 598.67M39.25 599.58L40.28 599.58M37.24 597.40L37.24 599.12M37.24 597.40L38.29 597.40M37.24 599.12L39.25 599.12M33.42 594.81L33.42 598.26M33.42 594.81L36.41 594.81M33.42 598.26L37.24 598.26M30.66 588.48L30.66 596.54M30.66 588.48L32.75 588.48M30.66 596.54L33.42 596.54M41.11 600.17L41.11 600.50M41.11 600.17L43.00 600.17M41.11 600.50L43.00 600.50M39.84 600.33L39.84 600.83M39.84 600.33L41.11 600.33M39.84 600.83L43.00 600.83M41.04 601.17L41.04 601.50M41.04 601.17L43.00 601.17M41.04 601.50L43.00 601.50M40.19 601.33L40.19 601.83M40.19 601.33L41.04 601.33M40.19 601.83L43.00 601.83M37.98 600.58L37.98 601.58M37.98 600.58L39.84 600.58M37.98 601.58L40.19 601.58M41.24 602.17L41.24 602.50M41.24 602.17L43.00 602.17M41.24 602.50L43.00 602.50M41.15 602.83L41.15 603.17M41.15 602.83L43.00 602.83M41.15 603.17L43.00 603.17M39.73 603.00L39.73 603.50M39.73 603.00L41.15 603.00M39.73 603.50L43.00 603.50M38.04 602.33L38.04 603.25M38.04 602.33L41.24 602.33M38.04 603.25L39.73 603.25M36.00 601.08L36.00 602.79M36.00 601.08L37.98 601.08M36.00 602.79L38.04 602.79M41.05 604.17L41.05 604.50M41.05 604.17L43.00 604.17M41.05 604.50L43.00 604.50M40.28 603.83L40.28 604.33M40.28 603.83L43.00 603.83M40.28 604.33L41.05 604.33M38.90 604.08L38.90 604.83M38.90 604.08L40.28 604.08M38.90 604.83L43.00 604.83M34.51 601.94L34.51 604.46M34.51 601.94L36.00 601.94M34.51 604.46L38.90 604.46M41.18 605.17L41.18 605.50M41.18 605.17L43.00 605.17M41.18 605.50L43.00 605.50M40.51 605.33L40.51 605.83M40.51 605.33L41.18 605.33M40.51 605.83L43.00 605.83M39.81 605.58L39.81 606.17M39.81 605.58L40.51 605.58M39.81 606.17L43.00 606.17M34.11 603.20L34.11 605.88M34.11 603.20L34.51 603.20M34.11 605.88L39.81 605.88M41.07 606.83L41.07 607.17M41.07 606.83L43.00 606.83M41.07 607.17L43.00 607.17M40.19 606.50L40.19 607.00M40.19 606.50L43.00 606.50M40.19 607.00L41.07 607.00M41.37 607.50L41.37 607.83M41.37 607.50L43.00 607.50M41.37 607.83L43.00 607.83M40.44 607.67L40.44 608.17M40.44 607.67L41.37 607.67M40.44 608.17L43.00 608.17M37.26 606.75L37.26 607.92M37.26 606.75L40.19 606.75M37.26 607.92L40.44 607.92M41.28 608.50L41.28 608.83M41.28 608.50L43.00 608.50M41.28 608.83L43.00 608.83M39.99 608.67L39.99 609.17M39.99 608.67L41.28 608.67M39.99 609.17L43.00 609.17M41.02 609.83L41.02 610.17M41.02 609.83L43.00 609.83M41.02 610.17L43.00 610.17M40.08 609.50L40.08 610.00M40.08 609.50L43.00 609.50M40.08 610.00L41.02 610.00M41.02 610.50L41.02 610.83M41.02 610.50L43.00 610.50M41.02 610.83L43.00 610.83M38.71 609.75L38.71 610.67M38.71 609.75L40.08 609.75M38.71 610.67L41.02 610.67M36.58 608.92L36.58 610.21M36.58 608.92L39.99 608.92M36.58 610.21L38.71 610.21M36.18 607.33L36.18 609.56M36.18 607.33L37.26 607.33M36.18 609.56L36.58 609.56M31.87 604.54L31.87 608.45M31.87 604.54L34.11 604.54M31.87 608.45L36.18 608.45M41.48 611.50L41.48 611.83M41.48 611.50L43.00 611.50M41.48 611.83L43.00 611.83M40.10 611.67L40.10 612.17M40.10 611.67L41.48 611.67M40.10 612.17L43.00 612.17M39.36 611.92L39.36 612.50M39.36 611.92L40.10 611.92M39.36 612.50L43.00 612.50M38.27 611.17L38.27 612.21M38.27 611.17L43.00 611.17M38.27 612.21L39.36 612.21M41.45 612.83L41.45 613.17M41.45 612.83L43.00 612.83M41.45 613.17L43.00 613.17M41.29 613.83L41.29 614.17M41.29 613.83L43.00 613.83M41.29 614.17L43.00 614.17M40.58 613.50L40.58 614.00M40.58 613.50L43.00 613.50M40.58 614.00L41.29 614.00M39.09 613.00L39.09 613.75M39.09 613.00L41.45 613.00M39.09 613.75L40.58 613.75M41.39 614.50L41.39 614.83M41.39 614.50L43.00 614.50M41.39 614.83L43.00 614.83M40.40 614.67L40.40 615.17M40.40 614.67L41.39 614.67M40.40 615.17L43.00 615.17M40.00 614.92L40.00 615.50M40.00 614.92L40.40 614.92M40.00 615.50L43.00 615.50M41.49 615.83L41.49 616.17M41.49 615.83L43.00 615.83M41.49 616.17L43.00 616.17M37.71 615.21L37.71 616.00M37.71 615.21L40.00 615.21M37.71 616.00L41.49 616.00M36.64 613.38L36.64 615.60M36.64 613.38L39.09 613.38M36.64 615.60L37.71 615.60M41.28 616.83L41.28 617.17M41.28 616.83L43.00 616.83M41.28 617.17L43.00 617.17M40.61 616.50L40.61 617.00M40.61 616.50L43.00 616.50M40.61 617.00L41.28 617.00M41.32 617.50L41.32 617.83M41.32 617.50L43.00 617.50M41.32 617.83L43.00 617.83M39.33 616.75L39.33 617.67M39.33 616.75L40.61 616.75M39.33 617.67L41.32 617.67M35.36 614.49L35.36 617.21M35.36 614.49L36.64 614.49M35.36 617.21L39.33 617.21M33.64 611.69L33.64 615.85M33.64 611.69L38.27 611.69M33.64 615.85L35.36 615.85M41.11 618.17L41.11 618.50M41.11 618.17L43.00 618.17M41.11 618.50L43.00 618.50M39.88 618.33L39.88 618.83M39.88 618.33L41.11 618.33M39.88 618.83L43.00 618.83M41.26 619.83L41.26 620.17M41.26 619.83L43.00 619.83M41.26 620.17L43.00 620.17M40.60 619.50L40.60 620.00M40.60 619.50L43.00 619.50M40.60 620.00L41.26 620.00M39.71 619.75L39.71 620.50M39.71 619.75L40.60 619.75M39.71 620.50L43.00 620.50M38.79 619.17L38.79 620.12M38.79 619.17L43.00 619.17M38.79 620.12L39.71 620.12M37.37 619.65L37.37 620.83M37.37 619.65L38.79 619.65M37.37 620.83L43.00 620.83M41.16 621.50L41.16 621.83M41.16 621.50L43.00 621.50M41.16 621.83L43.00 621.83M41.53 622.17L41.53 622.50M41.53 622.17L43.00 622.17M41.53 622.50L43.00 622.50M38.90 621.67L38.90 622.33M38.90 621.67L41.16 621.67M38.90 622.33L41.53 622.33M38.40 621.17L38.40 622.00M38.40 621.17L43.00 621.17M38.40 622.00L38.90 622.00M41.19 622.83L41.19 623.17M41.19 622.83L43.00 622.83M41.19 623.17L43.00 623.17M37.17 621.58L37.17 623.00M37.17 621.58L38.40 621.58M37.17 623.00L41.19 623.00M36.77 620.24L36.77 622.29M36.77 620.24L37.37 620.24M36.77 622.29L37.17 622.29M36.03 618.58L36.03 621.27M36.03 618.58L39.88 618.58M36.03 621.27L36.77 621.27M32.49 613.77L32.49 619.92M32.49 613.77L33.64 613.77M32.49 619.92L36.03 619.92M41.59 623.50L41.59 623.83M41.59 623.50L43.00 623.50M41.59 623.83L43.00 623.83M40.33 623.67L40.33 624.17M40.33 623.67L41.59 623.67M40.33 624.17L43.00 624.17M41.19 624.50L41.19 624.83M41.19 624.50L43.00 624.50M41.19 624.83L43.00 624.83M41.45 625.17L41.45 625.50M41.45 625.17L43.00 625.17M41.45 625.50L43.00 625.50M39.94 625.33L39.94 625.83M39.94 625.33L41.45 625.33M39.94 625.83L43.00 625.83M38.00 624.67L38.00 625.58M38.00 624.67L41.19 624.67M38.00 625.58L39.94 625.58M36.73 623.92L36.73 625.12M36.73 623.92L40.33 623.92M36.73 625.12L38.00 625.12M41.37 626.50L41.37 626.83M41.37 626.50L43.00 626.50M41.37 626.83L43.00 626.83M40.27 626.67L40.27 627.17M40.27 626.67L41.37 626.67M40.27 627.17L43.00 627.17M39.28 626.17L39.28 626.92M39.28 626.17L43.00 626.17M39.28 626.92L40.27 626.92M36.33 624.52L36.33 626.54M36.33 624.52L36.73 624.52M36.33 626.54L39.28 626.54M41.38 627.50L41.38 627.83M41.38 627.50L43.00 627.50M41.38 627.83L43.00 627.83M35.93 625.53L35.93 627.67M35.93 625.53L36.33 625.53M35.93 627.67L41.38 627.67M41.54 628.17L41.54 628.50M41.54 628.17L43.00 628.17M41.54 628.50L43.00 628.50M39.85 628.33L39.85 628.83M39.85 628.33L41.54 628.33M39.85 628.83L43.00 628.83M35.53 626.60L35.53 628.58M35.53 626.60L35.93 626.60M35.53 628.58L39.85 628.58M32.09 616.85L32.09 627.59M32.09 616.85L32.49 616.85M32.09 627.59L35.53 627.59M25.34 606.49L25.34 622.22M25.34 606.49L31.87 606.49M25.34 622.22L32.09 622.22M41.45 629.17L41.45 629.50M41.45 629.17L43.00 629.17M41.45 629.50L43.00 629.50M41.05 629.83L41.05 630.17M41.05 629.83L43.00 629.83M41.05 630.17L43.00 630.17M41.21 630.50L41.21 630.83M41.21 630.50L43.00 630.50M41.21 630.83L43.00 630.83M41.30 631.17L41.30 631.50M41.30 631.17L43.00 631.17M41.30 631.50L43.00 631.50M39.34 630.67L39.34 631.33M39.34 630.67L41.21 630.67M39.34 631.33L41.30 631.33M38.94 631.00L38.94 631.83M38.94 631.00L39.34 631.00M38.94 631.83L43.00 631.83M37.21 630.00L37.21 631.42M37.21 630.00L41.05 630.00M37.21 631.42L38.94 631.42M36.24 629.33L36.24 630.71M36.24 629.33L41.45 629.33M36.24 630.71L37.21 630.71M41.07 632.50L41.07 632.83M41.07 632.50L43.00 632.50M41.07 632.83L43.00 632.83M41.54 633.17L41.54 633.50M41.54 633.17L43.00 633.17M41.54 633.50L43.00 633.50M39.35 632.67L39.35 633.33M39.35 632.67L41.07 632.67M39.35 633.33L41.54 633.33M38.95 632.17L38.95 633.00M38.95 632.17L43.00 632.17M38.95 633.00L39.35 633.00M41.18 634.17L41.18 634.50M41.18 634.17L43.00 634.17M41.18 634.50L43.00 634.50M40.54 634.33L40.54 634.83M40.54 634.33L41.18 634.33M40.54 634.83L43.00 634.83M38.97 633.83L38.97 634.58M38.97 633.83L43.00 633.83M38.97 634.58L40.54 634.58M37.31 632.58L37.31 634.21M37.31 632.58L38.95 632.58M37.31 634.21L38.97 634.21M41.44 635.17L41.44 635.50M41.44 635.17L43.00 635.17M41.44 635.50L43.00 635.50M36.66 633.40L36.66 635.33M36.66 633.40L37.31 633.40M36.66 635.33L41.44 635.33M41.55 636.17L41.55 636.50M41.55 636.17L43.00 636.17M41.55 636.50L43.00 636.50M40.25 635.83L40.25 636.33M40.25 635.83L43.00 635.83M40.25 636.33L41.55 636.33M41.05 636.83L41.05 637.17M41.05 636.83L43.00 636.83M41.05 637.17L43.00 637.17M40.19 637.00L40.19 637.50M40.19 637.00L41.05 637.00M40.19 637.50L43.00 637.50M38.52 636.08L38.52 637.25M38.52 636.08L40.25 636.08M38.52 637.25L40.19 637.25M37.75 636.67L37.75 637.83M37.75 636.67L38.52 636.67M37.75 637.83L43.00 637.83M41.53 638.50L41.53 638.83M41.53 638.50L43.00 638.50M41.53 638.83L43.00 638.83M40.64 638.17L40.64 638.67M40.64 638.17L43.00 638.17M40.64 638.67L41.53 638.67M36.98 637.25L36.98 638.42M36.98 637.25L37.75 637.25M36.98 638.42L40.64 638.42M41.19 639.17L41.19 639.50M41.19 639.17L43.00 639.17M41.19 639.50L43.00 639.50M41.38 639.83L41.38 640.17M41.38 639.83L43.00 639.83M41.38 640.17L43.00 640.17M39.49 639.33L39.49 640.00M39.49 639.33L41.19 639.33M39.49 640.00L41.38 640.00M35.01 637.83L35.01 639.67M35.01 637.83L36.98 637.83M35.01 639.67L39.49 639.67M34.61 634.36L34.61 638.75M34.61 634.36L36.66 634.36M34.61 638.75L35.01 638.75M33.39 630.02L33.39 636.56M33.39 630.02L36.24 630.02M33.39 636.56L34.61 636.56M41.32 640.50L41.32 640.83M41.32 640.50L43.00 640.50M41.32 640.83L43.00 640.83M40.65 640.67L40.65 641.17M40.65 640.67L41.32 640.67M40.65 641.17L43.00 641.17M39.06 640.92L39.06 641.50M39.06 640.92L40.65 640.92M39.06 641.50L43.00 641.50M38.66 641.21L38.66 641.83M38.66 641.21L39.06 641.21M38.66 641.83L43.00 641.83M41.46 642.17L41.46 642.50M41.46 642.17L43.00 642.17M41.46 642.50L43.00 642.50M37.78 641.52L37.78 642.33M37.78 641.52L38.66 641.52M37.78 642.33L41.46 642.33M41.48 642.83L41.48 643.17M41.48 642.83L43.00 642.83M41.48 643.17L43.00 643.17M37.38 641.93L37.38 643.00M37.38 641.93L37.78 641.93M37.38 643.00L41.48 643.00M41.57 643.50L41.57 643.83M41.57 643.50L43.00 643.50M41.57 643.83L43.00 643.83M41.54 644.17L41.54 644.50M41.54 644.17L43.00 644.17M41.54 644.50L43.00 644.50M39.61 643.67L39.61 644.33M39.61 643.67L41.57 643.67M39.61 644.33L41.54 644.33M35.70 642.46L35.70 644.00M35.70 642.46L37.38 642.46M35.70 644.00L39.61 644.00M41.18 644.83L41.18 645.17M41.18 644.83L43.00 644.83M41.18 645.17L43.00 645.17M41.48 645.50L41.48 645.83M41.48 645.50L43.00 645.50M41.48 645.83L43.00 645.83M40.41 645.67L40.41 646.17M40.41 645.67L41.48 645.67M40.41 646.17L43.00 646.17M39.36 645.00L39.36 645.92M39.36 645.00L41.18 645.00M39.36 645.92L40.41 645.92M41.33 646.50L41.33 646.83M41.33 646.50L43.00 646.50M41.33 646.83L43.00 646.83M37.07 645.46L37.07 646.67M37.07 645.46L39.36 645.46M37.07 646.67L41.33 646.67M35.30 643.23L35.30 646.06M35.30 643.23L35.70 643.23M35.30 646.06L37.07 646.06M41.32 647.50L41.32 647.83M41.32 647.50L43.00 647.50M41.32 647.83L43.00 647.83M39.90 647.17L39.90 647.67M39.90 647.17L43.00 647.17M39.90 647.67L41.32 647.67M39.05 647.42L39.05 648.17M39.05 647.42L39.90 647.42M39.05 648.17L43.00 648.17M41.02 648.50L41.02 648.83M41.02 648.50L43.00 648.50M41.02 648.83L43.00 648.83M38.65 647.79L38.65 648.67M38.65 647.79L39.05 647.79M38.65 648.67L41.02 648.67M41.05 649.17L41.05 649.50M41.05 649.17L43.00 649.17M41.05 649.50L43.00 649.50M40.13 649.33L40.13 649.83M40.13 649.33L41.05 649.33M40.13 649.83L43.00 649.83M41.06 650.17L41.06 650.50M41.06 650.17L43.00 650.17M41.06 650.50L43.00 650.50M41.20 650.83L41.20 651.17M41.20 650.83L43.00 650.83M41.20 651.17L43.00 651.17M39.26 650.33L39.26 651.00M39.26 650.33L41.06 650.33M39.26 651.00L41.20 651.00M41.12 651.50L41.12 651.83M41.12 651.50L43.00 651.50M41.12 651.83L43.00 651.83M38.86 650.67L38.86 651.67M38.86 650.67L39.26 650.67M38.86 651.67L41.12 651.67M37.50 649.58L37.50 651.17M37.50 649.58L40.13 649.58M37.50 651.17L38.86 651.17M41.14 652.50L41.14 652.83M41.14 652.50L43.00 652.50M41.14 652.83L43.00 652.83M40.04 652.17L40.04 652.67M40.04 652.17L43.00 652.17M40.04 652.67L41.14 652.67M39.03 652.42L39.03 653.17M39.03 652.42L40.04 652.42M39.03 653.17L43.00 653.17M41.37 653.83L41.37 654.17M41.37 653.83L43.00 653.83M41.37 654.17L43.00 654.17M40.52 653.50L40.52 654.00M40.52 653.50L43.00 653.50M40.52 654.00L41.37 654.00M36.89 652.79L36.89 653.75M36.89 652.79L39.03 652.79M36.89 653.75L40.52 653.75M35.39 650.38L35.39 653.27M35.39 650.38L37.50 650.38M35.39 653.27L36.89 653.27M33.39 648.23L33.39 651.82M33.39 648.23L38.65 648.23M33.39 651.82L35.39 651.82M41.19 655.17L41.19 655.50M41.19 655.17L43.00 655.17M41.19 655.50L43.00 655.50M40.40 654.83L40.40 655.33M40.40 654.83L43.00 654.83M40.40 655.33L41.19 655.33M39.77 654.50L39.77 655.08M39.77 654.50L43.00 654.50M39.77 655.08L40.40 655.08M41.15 656.17L41.15 656.50M41.15 656.17L43.00 656.17M41.15 656.50L43.00 656.50M40.16 655.83L40.16 656.33M40.16 655.83L43.00 655.83M40.16 656.33L41.15 656.33M37.72 654.79L37.72 656.08M37.72 654.79L39.77 654.79M37.72 656.08L40.16 656.08M41.38 656.83L41.38 657.17M41.38 656.83L43.00 656.83M41.38 657.17L43.00 657.17M35.71 655.44L35.71 657.00M35.71 655.44L37.72 655.44M35.71 657.00L41.38 657.00M41.59 657.83L41.59 658.17M41.59 657.83L43.00 657.83M41.59 658.17L43.00 658.17M40.17 658.00L40.17 658.50M40.17 658.00L41.59 658.00M40.17 658.50L43.00 658.50M38.88 657.50L38.88 658.25M38.88 657.50L43.00 657.50M38.88 658.25L40.17 658.25M34.56 656.22L34.56 657.88M34.56 656.22L35.71 656.22M34.56 657.88L38.88 657.88M32.28 650.03L32.28 657.05M32.28 650.03L33.39 650.03M32.28 657.05L34.56 657.05M41.40 658.83L41.40 659.17M41.40 658.83L43.00 658.83M41.40 659.17L43.00 659.17M40.34 659.00L40.34 659.50M40.34 659.00L41.40 659.00M40.34 659.50L43.00 659.50M41.27 659.83L41.27 660.17M41.27 659.83L43.00 659.83M41.27 660.17L43.00 660.17M38.01 659.25L38.01 660.00M38.01 659.25L40.34 659.25M38.01 660.00L41.27 660.00M41.32 660.50L41.32 660.83M41.32 660.50L43.00 660.50M41.32 660.83L43.00 660.83M41.08 661.83L41.08 662.17M41.08 661.83L43.00 661.83M41.08 662.17L43.00 662.17M40.17 661.50L40.17 662.00M40.17 661.50L43.00 661.50M40.17 662.00L41.08 662.00M39.42 661.17L39.42 661.75M39.42 661.17L43.00 661.17M39.42 661.75L40.17 661.75M38.76 660.67L38.76 661.46M38.76 660.67L41.32 660.67M38.76 661.46L39.42 661.46M41.19 662.50L41.19 662.83M41.19 662.50L43.00 662.50M41.19 662.83L43.00 662.83M41.12 663.17L41.12 663.50M41.12 663.17L43.00 663.17M41.12 663.50L43.00 663.50M39.84 662.67L39.84 663.33M39.84 662.67L41.19 662.67M39.84 663.33L41.12 663.33M41.43 663.83L41.43 664.17M41.43 663.83L43.00 663.83M41.43 664.17L43.00 664.17M41.37 664.50L41.37 664.83M41.37 664.50L43.00 664.50M41.37 664.83L43.00 664.83M40.10 664.67L40.10 665.17M40.10 664.67L41.37 664.67M40.10 665.17L43.00 665.17M39.11 664.00L39.11 664.92M39.11 664.00L41.43 664.00M39.11 664.92L40.10 664.92M37.75 664.46L37.75 665.50M37.75 664.46L39.11 664.46M37.75 665.50L43.00 665.50M37.18 663.00L37.18 664.98M37.18 663.00L39.84 663.00M37.18 664.98L37.75 664.98M41.36 665.83L41.36 666.17M41.36 665.83L43.00 665.83M41.36 666.17L43.00 666.17M41.50 666.50L41.50 666.83M41.50 666.50L43.00 666.50M41.50 666.83L43.00 666.83M39.91 666.00L39.91 666.67M39.91 666.00L41.36 666.00M39.91 666.67L41.50 666.67M36.00 663.99L36.00 666.33M36.00 663.99L37.18 663.99M36.00 666.33L39.91 666.33M35.32 661.06L35.32 665.16M35.32 661.06L38.76 661.06M35.32 665.16L36.00 665.16M33.50 659.62L33.50 663.11M33.50 659.62L38.01 659.62M33.50 663.11L35.32 663.11M28.90 653.54L28.90 661.37M28.90 653.54L32.28 653.54M28.90 661.37L33.50 661.37M28.50 644.65L28.50 657.45M28.50 644.65L35.30 644.65M28.50 657.45L28.90 657.45M25.40 633.29L25.40 651.05M25.40 633.29L33.39 633.29M25.40 651.05L28.50 651.05M24.94 614.36L24.94 642.17M24.94 614.36L25.34 614.36M24.94 642.17L25.40 642.17M23.90 592.51L23.90 628.26M23.90 592.51L30.66 592.51M23.90 628.26L24.94 628.26M23.50 610.39L23.90 610.39M23.50 583.50L23.50 610.39M41.44 667.17L41.44 667.50M41.44 667.17L43.00 667.17M41.44 667.50L43.00 667.50M40.54 667.33L40.54 667.83M40.54 667.33L41.44 667.33M40.54 667.83L43.00 667.83M41.18 668.50L41.18 668.83M41.18 668.50L43.00 668.50M41.18 668.83L43.00 668.83M39.93 668.17L39.93 668.67M39.93 668.17L43.00 668.17M39.93 668.67L41.18 668.67M41.19 669.17L41.19 669.50M41.19 669.17L43.00 669.17M41.19 669.50L43.00 669.50M41.20 669.83L41.20 670.17M41.20 669.83L43.00 669.83M41.20 670.17L43.00 670.17M39.74 670.00L39.74 670.50M39.74 670.00L41.20 670.00M39.74 670.50L43.00 670.50M38.24 669.33L38.24 670.25M38.24 669.33L41.19 669.33M38.24 670.25L39.74 670.25M36.25 668.42L36.25 669.79M36.25 668.42L39.93 668.42M36.25 669.79L38.24 669.79M35.77 667.58L35.77 669.10M35.77 667.58L40.54 667.58M35.77 669.10L36.25 669.10M41.39 670.83L41.39 671.17M41.39 670.83L43.00 670.83M41.39 671.17L43.00 671.17M40.64 671.00L40.64 671.50M40.64 671.00L41.39 671.00M40.64 671.50L43.00 671.50M41.27 671.83L41.27 672.17M41.27 671.83L43.00 671.83M41.27 672.17L43.00 672.17M41.58 672.50L41.58 672.83M41.58 672.50L43.00 672.50M41.58 672.83L43.00 672.83M40.23 672.67L40.23 673.17M40.23 672.67L41.58 672.67M40.23 673.17L43.00 673.17M39.20 672.92L39.20 673.50M39.20 672.92L40.23 672.92M39.20 673.50L43.00 673.50M38.08 672.00L38.08 673.21M38.08 672.00L41.27 672.00M38.08 673.21L39.20 673.21M37.10 671.25L37.10 672.60M37.10 671.25L40.64 671.25M37.10 672.60L38.08 672.60M41.42 673.83L41.42 674.17M41.42 673.83L43.00 673.83M41.42 674.17L43.00 674.17M35.43 671.93L35.43 674.00M35.43 671.93L37.10 671.93M35.43 674.00L41.42 674.00M41.28 674.50L41.28 674.83M41.28 674.50L43.00 674.50M41.28 674.83L43.00 674.83M39.92 674.67L39.92 675.17M39.92 674.67L41.28 674.67M39.92 675.17L43.00 675.17M38.77 674.92L38.77 675.50M38.77 674.92L39.92 674.92M38.77 675.50L43.00 675.50M33.93 672.96L33.93 675.21M33.93 672.96L35.43 672.96M33.93 675.21L38.77 675.21M41.02 676.17L41.02 676.50M41.02 676.17L43.00 676.17M41.02 676.50L43.00 676.50M39.94 675.83L39.94 676.33M39.94 675.83L43.00 675.83M39.94 676.33L41.02 676.33M41.37 676.83L41.37 677.17M41.37 676.83L43.00 676.83M41.37 677.17L43.00 677.17M38.74 676.08L38.74 677.00M38.74 676.08L39.94 676.08M38.74 677.00L41.37 677.00M41.58 677.50L41.58 677.83M41.58 677.50L43.00 677.50M41.58 677.83L43.00 677.83M37.00 676.54L37.00 677.67M37.00 676.54L38.74 676.54M37.00 677.67L41.58 677.67M41.51 678.50L41.51 678.83M41.51 678.50L43.00 678.50M41.51 678.83L43.00 678.83M41.17 679.17L41.17 679.50M41.17 679.17L43.00 679.17M41.17 679.50L43.00 679.50M41.47 679.83L41.47 680.17M41.47 679.83L43.00 679.83M41.47 680.17L43.00 680.17M39.65 679.33L39.65 680.00M39.65 679.33L41.17 679.33M39.65 680.00L41.47 680.00M38.65 678.67L38.65 679.67M38.65 678.67L41.51 678.67M38.65 679.67L39.65 679.67M37.25 678.17L37.25 679.17M37.25 678.17L43.00 678.17M37.25 679.17L38.65 679.17M35.40 677.10L35.40 678.67M35.40 677.10L37.00 677.10M35.40 678.67L37.25 678.67M41.62 680.83L41.62 681.17M41.62 680.83L43.00 680.83M41.62 681.17L43.00 681.17M40.29 680.50L40.29 681.00M40.29 680.50L43.00 680.50M40.29 681.00L41.62 681.00M41.33 681.50L41.33 681.83M41.33 681.50L43.00 681.50M41.33 681.83L43.00 681.83M38.28 680.75L38.28 681.67M38.28 680.75L40.29 680.75M38.28 681.67L41.33 681.67M41.05 682.17L41.05 682.50M41.05 682.17L43.00 682.17M41.05 682.50L43.00 682.50M41.07 683.17L41.07 683.50M41.07 683.17L43.00 683.17M41.07 683.50L43.00 683.50M41.61 683.83L41.61 684.17M41.61 683.83L43.00 683.83M41.61 684.17L43.00 684.17M39.71 683.33L39.71 684.00M39.71 683.33L41.07 683.33M39.71 684.00L41.61 684.00M38.91 682.83L38.91 683.67M38.91 682.83L43.00 682.83M38.91 683.67L39.71 683.67M38.51 682.33L38.51 683.25M38.51 682.33L41.05 682.33M38.51 683.25L38.91 683.25M36.27 681.21L36.27 682.79M36.27 681.21L38.28 681.21M36.27 682.79L38.51 682.79M33.18 677.89L33.18 682.00M33.18 677.89L35.40 677.89M33.18 682.00L36.27 682.00M32.78 674.09L32.78 679.94M32.78 674.09L33.93 674.09M32.78 679.94L33.18 679.94M31.49 668.34L31.49 677.01M31.49 668.34L35.77 668.34M31.49 677.01L32.78 677.01M41.48 684.50L41.48 684.83M41.48 684.50L43.00 684.50M41.48 684.83L43.00 684.83M41.21 685.17L41.21 685.50M41.21 685.17L43.00 685.17M41.21 685.50L43.00 685.50M41.37 685.83L41.37 686.17M41.37 685.83L43.00 685.83M41.37 686.17L43.00 686.17M39.24 685.33L39.24 686.00M39.24 685.33L41.21 685.33M39.24 686.00L41.37 686.00M38.00 684.67L38.00 685.67M38.00 684.67L41.48 684.67M38.00 685.67L39.24 685.67M41.18 686.50L41.18 686.83M41.18 686.50L43.00 686.50M41.18 686.83L43.00 686.83M36.71 685.17L36.71 686.67M36.71 685.17L38.00 685.17M36.71 686.67L41.18 686.67M41.45 687.83L41.45 688.17M41.45 687.83L43.00 687.83M41.45 688.17L43.00 688.17M40.68 687.50L40.68 688.00M40.68 687.50L43.00 687.50M40.68 688.00L41.45 688.00M38.84 687.17L38.84 687.75M38.84 687.17L43.00 687.17M38.84 687.75L40.68 687.75M38.16 687.46L38.16 688.50M38.16 687.46L38.84 687.46M38.16 688.50L43.00 688.50M41.44 689.17L41.44 689.50M41.44 689.17L43.00 689.17M41.44 689.50L43.00 689.50M40.04 688.83L40.04 689.33M40.04 688.83L43.00 688.83M40.04 689.33L41.44 689.33M39.44 689.08L39.44 689.83M39.44 689.08L40.04 689.08M39.44 689.83L43.00 689.83M37.16 687.98L37.16 689.46M37.16 687.98L38.16 687.98M37.16 689.46L39.44 689.46M35.36 685.92L35.36 688.72M35.36 685.92L36.71 685.92M35.36 688.72L37.16 688.72M27.09 672.68L27.09 687.32M27.09 672.68L31.49 672.68M27.09 687.32L35.36 687.32M22.90 680.00L27.09 680.00M41.19 690.50L41.19 690.84M41.19 690.50L43.00 690.50M41.19 690.84L43.00 690.84M40.48 690.67L40.48 691.17M40.48 690.67L41.19 690.67M40.48 691.17L43.00 691.17M39.98 690.17L39.98 690.92M39.98 690.17L43.00 690.17M39.98 690.92L40.48 690.92M41.54 691.84L41.54 692.18M41.54 691.84L43.00 691.84M41.54 692.18L43.00 692.18M40.06 691.51L40.06 692.01M40.06 691.51L43.00 691.51M40.06 692.01L41.54 692.01M38.06 690.54L38.06 691.76M38.06 690.54L39.98 690.54M38.06 691.76L40.06 691.76M41.46 692.85L41.46 693.18M41.46 692.85L43.00 692.85M41.46 693.18L43.00 693.18M40.33 692.51L40.33 693.02M40.33 692.51L43.00 692.51M40.33 693.02L41.46 693.02M39.72 692.76L39.72 693.52M39.72 692.76L40.33 692.76M39.72 693.52L43.00 693.52M41.23 694.19L41.23 694.52M41.23 694.19L43.00 694.19M41.23 694.52L43.00 694.52M40.00 693.85L40.00 694.36M40.00 693.85L43.00 693.85M40.00 694.36L41.23 694.36M41.10 694.86L41.10 695.19M41.10 694.86L43.00 694.86M41.10 695.19L43.00 695.19M39.87 695.03L39.87 695.53M39.87 695.03L41.10 695.03M39.87 695.53L43.00 695.53M38.69 694.10L38.69 695.28M38.69 694.10L40.00 694.10M38.69 695.28L39.87 695.28M41.34 695.86L41.34 696.20M41.34 695.86L43.00 695.86M41.34 696.20L43.00 696.20M40.43 696.03L40.43 696.53M40.43 696.03L41.34 696.03M40.43 696.53L43.00 696.53M37.01 694.69L37.01 696.28M37.01 694.69L38.69 694.69M37.01 696.28L40.43 696.28M36.61 693.14L36.61 695.49M36.61 693.14L39.72 693.14M36.61 695.49L37.01 695.49M34.66 691.15L34.66 694.31M34.66 691.15L38.06 691.15M34.66 694.31L36.61 694.31M41.18 696.87L41.18 697.20M41.18 696.87L43.00 696.87M41.18 697.20L43.00 697.20M41.41 697.54L41.41 697.87M41.41 697.54L43.00 697.54M41.41 697.87L43.00 697.87M40.66 697.70L40.66 698.21M40.66 697.70L41.41 697.70M40.66 698.21L43.00 698.21M39.39 697.04L39.39 697.96M39.39 697.04L41.18 697.04M39.39 697.96L40.66 697.96M38.99 697.50L38.99 698.54M38.99 697.50L39.39 697.50M38.99 698.54L43.00 698.54M31.91 692.73L31.91 698.02M31.91 692.73L34.66 692.73M31.91 698.02L38.99 698.02M41.50 698.88L41.50 699.21M41.50 698.88L43.00 698.88M41.50 699.21L43.00 699.21M41.09 699.55L41.09 699.88M41.09 699.55L43.00 699.55M41.09 699.88L43.00 699.88M40.20 699.71L40.20 700.22M40.20 699.71L41.09 699.71M40.20 700.22L43.00 700.22M39.33 699.05L39.33 699.97M39.33 699.05L41.50 699.05M39.33 699.97L40.20 699.97M41.32 700.55L41.32 700.89M41.32 700.55L43.00 700.55M41.32 700.89L43.00 700.89M41.27 701.22L41.27 701.56M41.27 701.22L43.00 701.22M41.27 701.56L43.00 701.56M40.20 701.39L40.20 701.89M40.20 701.39L41.27 701.39M40.20 701.89L43.00 701.89M38.55 700.72L38.55 701.64M38.55 700.72L41.32 700.72M38.55 701.64L40.20 701.64M36.63 699.51L36.63 701.18M36.63 699.51L39.33 699.51M36.63 701.18L38.55 701.18M41.44 702.56L41.44 702.90M41.44 702.56L43.00 702.56M41.44 702.90L43.00 702.90M40.28 702.23L40.28 702.73M40.28 702.23L43.00 702.23M40.28 702.73L41.44 702.73M39.88 702.48L39.88 703.23M39.88 702.48L40.28 702.48M39.88 703.23L43.00 703.23M36.23 700.34L36.23 702.86M36.23 700.34L36.63 700.34M36.23 702.86L39.88 702.86M29.55 695.38L29.55 701.60M29.55 695.38L31.91 695.38M29.55 701.60L36.23 701.60M22.90 698.49L29.55 698.49M22.90 680.00L22.90 698.49M19.40 441.69L25.50 441.69M19.40 498.51L22.40 498.51M19.40 547.32L23.00 547.32M19.40 596.95L23.50 596.95M19.40 689.24L22.90 689.24M19.40 441.69L19.40 689.24" stroke="#000" stroke-width="0.9" fill="none"/>
<text transform="translate(81.8,426.7) rotate(-58)" font-size="10.5" fill="#111">Naive</text>
<text transform="translate(121.0,426.7) rotate(-58)" font-size="10.5" fill="#111">TAMs NIC</text>
<text transform="translate(159.3,426.7) rotate(-58)" font-size="10.5" fill="#111">TAMs IC</text>
<linearGradient id="cb" x1="0" y1="0" x2="0" y2="1"><stop offset="0" stop-color="#ff0a0a"/><stop offset="0.1667" stop-color="#ff3a70"/><stop offset="0.3333" stop-color="#ff9fc0"/><stop offset="0.5" stop-color="#ffffff"/><stop offset="0.6667" stop-color="#a0a8ff"/><stop offset="0.8333" stop-color="#4555ff"/><stop offset="1" stop-color="#1a30ff"/></linearGradient>
<rect x="191.5" y="449.0" width="14.1" height="222.5" fill="url(#cb)"/>
<text x="219.5" y="453.10" font-size="9" text-anchor="end" fill="#111">3</text>
<text x="219.5" y="488.00" font-size="9" text-anchor="end" fill="#111">2</text>
<text x="219.5" y="522.70" font-size="9" text-anchor="end" fill="#111">1</text>
<text x="219.5" y="557.30" font-size="9" text-anchor="end" fill="#111">0</text>
<text x="219.5" y="592.20" font-size="9" text-anchor="end" fill="#111">1</text>
<rect x="208.0" y="588.60" width="5.4" height="0.95" fill="#111"/>
<text x="219.5" y="626.40" font-size="9" text-anchor="end" fill="#111">2</text>
<rect x="208.0" y="622.80" width="5.4" height="0.95" fill="#111"/>
<text x="219.5" y="672.60" font-size="9" text-anchor="end" fill="#111">3</text>
<rect x="208.0" y="669.00" width="5.4" height="0.95" fill="#111"/>
<text x="225.0" y="455.6" font-size="10.3" fill="#111">Clusters</text>
<rect x="230.6" y="463.5" width="19.6" height="19.10" fill="#3548f5"/>
<text x="251.9" y="477.4" font-size="9.75" textLength="36.6" lengthAdjust="spacingAndGlyphs" fill="#111">TAMs IC</text>
<rect x="230.6" y="482.6" width="19.6" height="20.20" fill="#4cf800"/>
<text x="251.9" y="497.4" font-size="10.4" textLength="80.7" lengthAdjust="spacingAndGlyphs" fill="#111">TAMs IC and NIC</text>
<rect x="230.6" y="502.8" width="19.6" height="19.00" fill="#8a30f8"/>
<text x="251.9" y="517.4" font-size="9.75" textLength="25.3" lengthAdjust="spacingAndGlyphs" fill="#111">Naive</text>
<rect x="230.6" y="521.8" width="19.6" height="20.00" fill="#f2cc30"/>
<text x="251.9" y="536.5" font-size="9.2" textLength="85.0" lengthAdjust="spacingAndGlyphs" fill="#111">TAMs NIC and Naive</text>
<rect x="230.6" y="541.8" width="19.6" height="20.00" fill="#f80a0a"/>
<text x="251.9" y="555.8" font-size="10.2" textLength="42.5" lengthAdjust="spacingAndGlyphs" fill="#111">TAMs NIC</text>
<rect x="0" y="0" width="520" height="1.4" fill="#000"/>
<rect x="0" y="0" width="1.7" height="713" fill="#000"/>
<rect x="518.1" y="0" width="1.9" height="713" fill="#000"/>
<rect x="0" y="711.0" width="520" height="2" fill="#000"/>
</svg></body></html>
